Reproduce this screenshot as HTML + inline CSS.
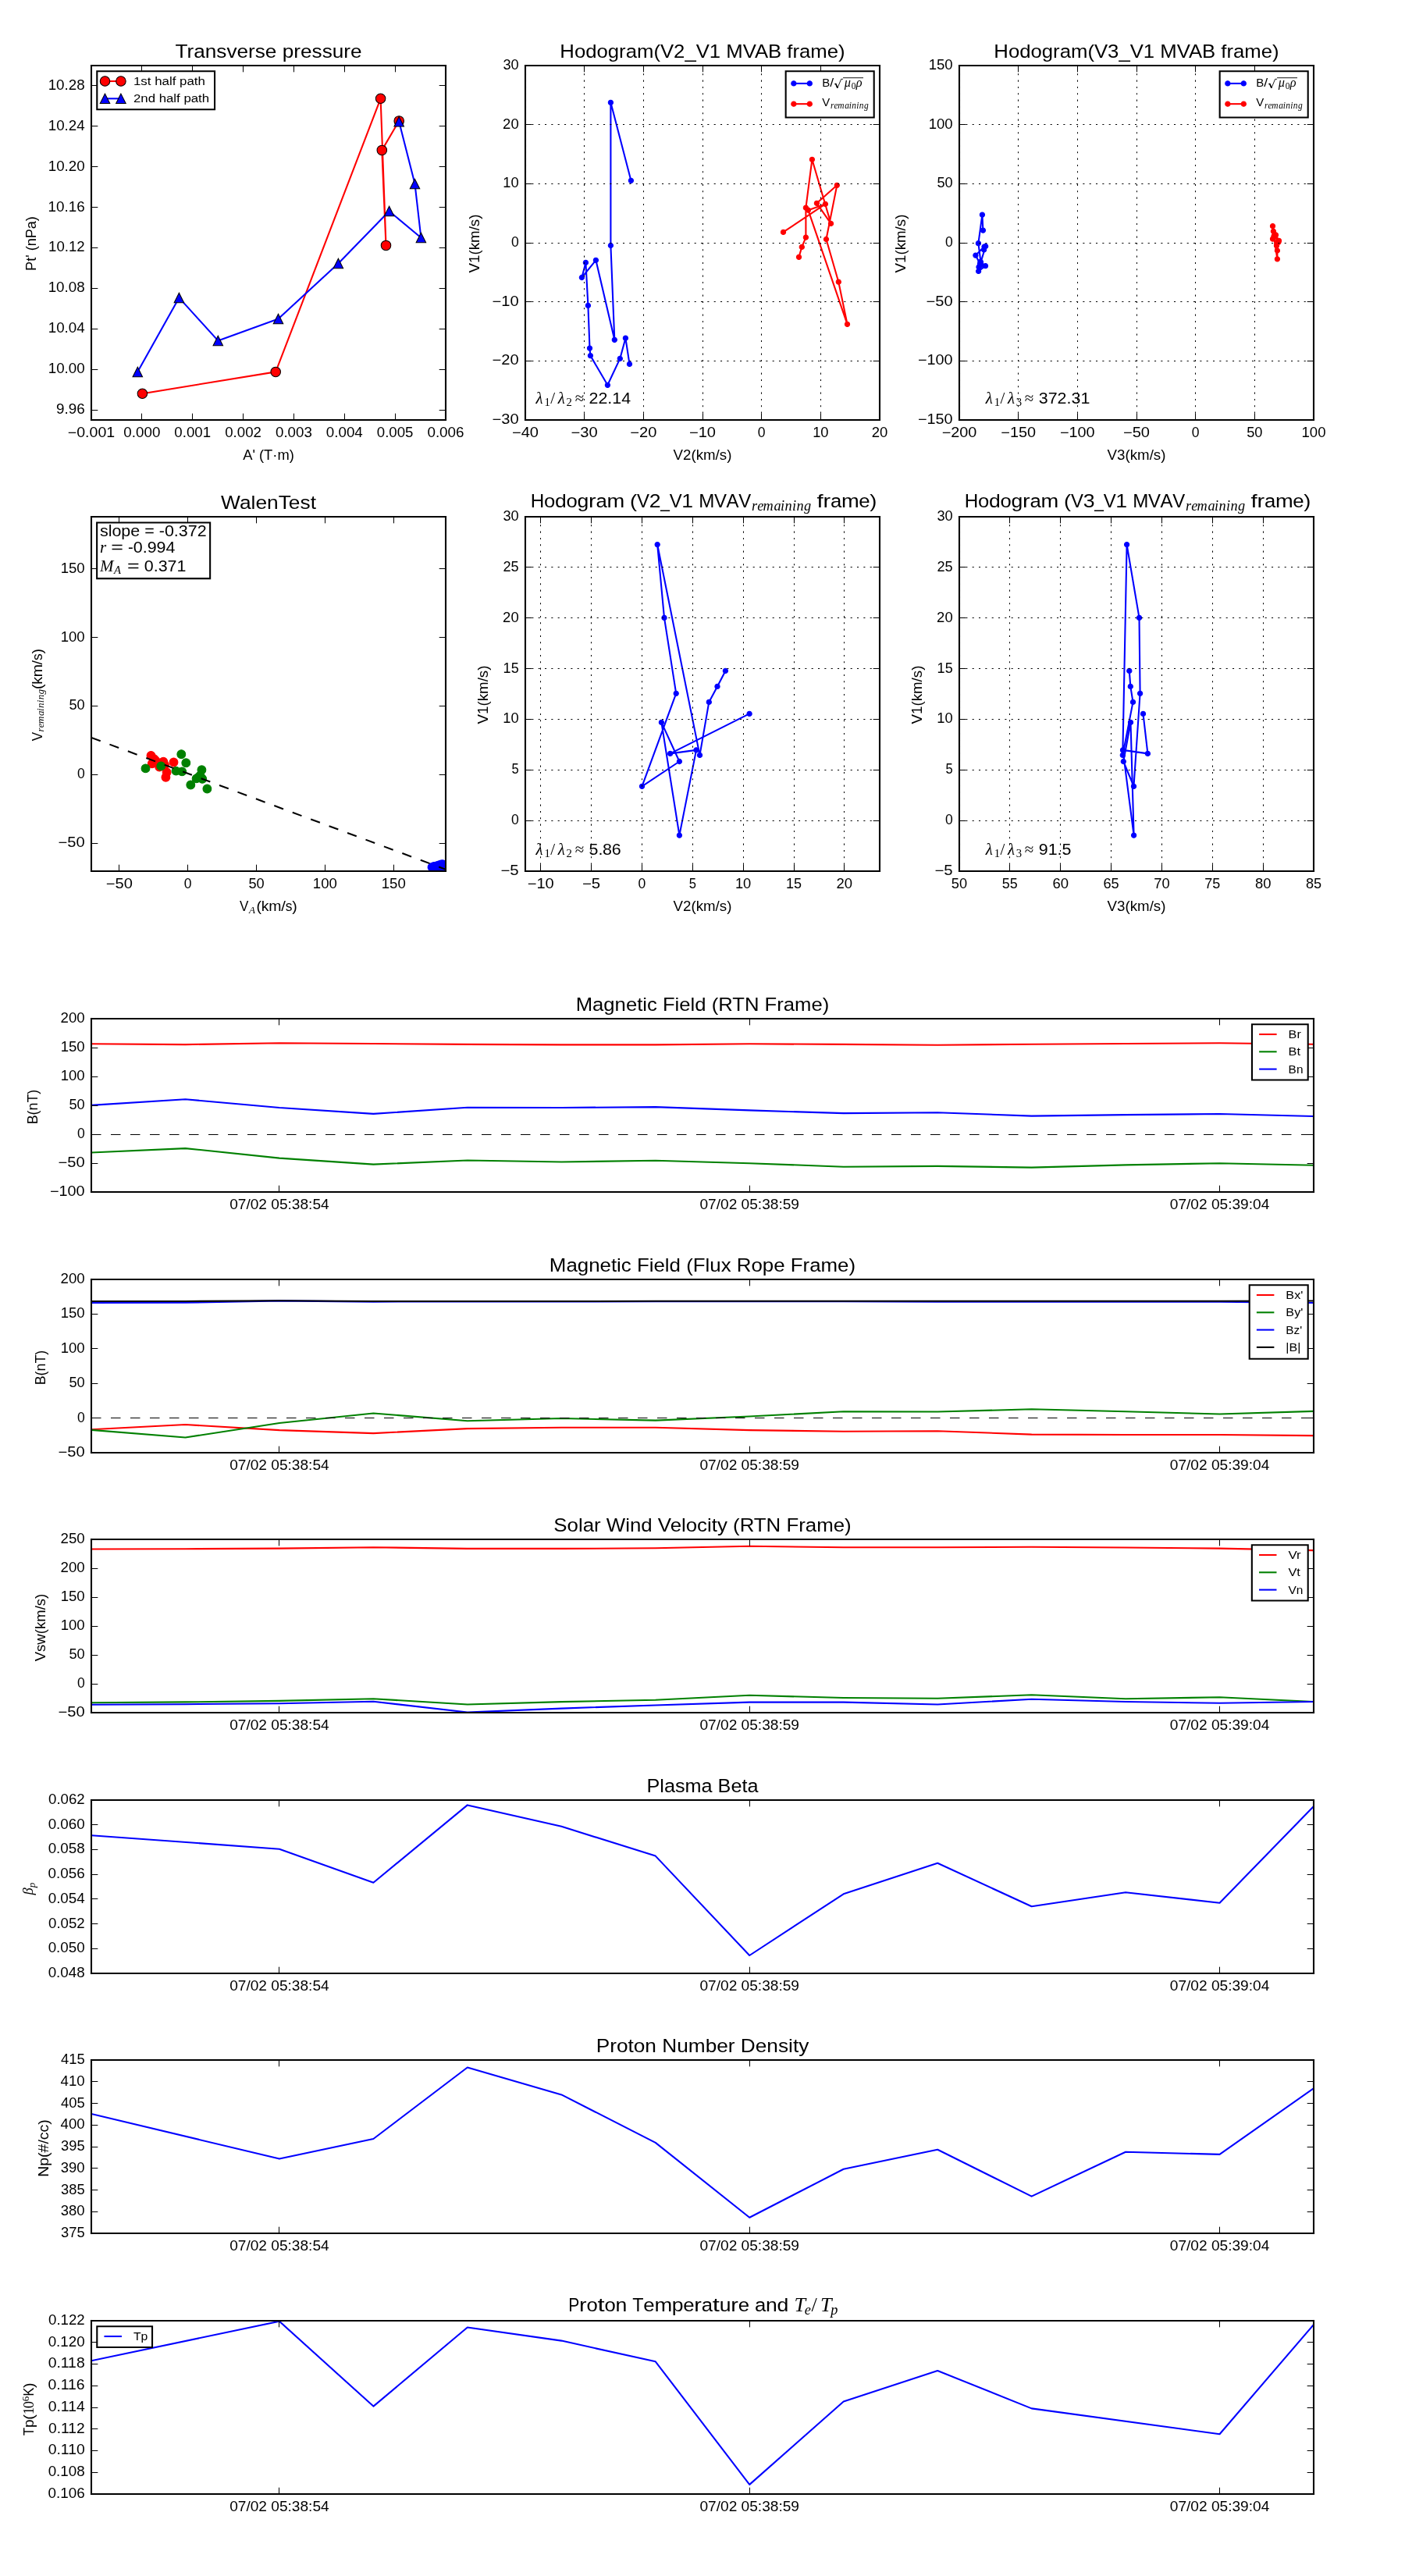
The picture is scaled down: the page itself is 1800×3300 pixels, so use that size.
<!DOCTYPE html>
<html><head><meta charset="utf-8"><title>Flux rope analysis</title><style>html,body{margin:0;padding:0;background:#fff}svg{display:block;will-change:transform}</style></head><body>
<svg width="1800" height="3300" viewBox="0 0 864 1584"> <defs> <style type="text/css">*{stroke-linejoin: round; stroke-linecap: butt}</style> </defs> <g id="figure_1"> <g id="patch_1"> <path d="M 0 1584  L 864 1584  L 864 0  L 0 0  z " style="fill: #ffffff"/> </g> <g id="axes_1"> <g id="patch_2"> <path d="M 56.16 258.24  L 274.08 258.24  L 274.08 40.32  L 56.16 40.32  z " style="fill: #ffffff"/> </g> <g id="line2d_1"> <path d="M 87.552 242.016  L 169.536 228.672  L 234.048 60.624  L 237.36 150.912  L 234.864 92.352  L 245.376 74.352  " clip-path="url(#pbbcab6ad22)" style="fill: none; stroke: #ff0000; stroke-linecap: square"/> <defs> <path id="m9b57e5bc94" d="M 0 3  C 0.795 3 1.558 2.683 2.121 2.121  C 2.683 1.558 3 0.795 3 0  C 3 -0.795 2.683 -1.558 2.121 -2.121  C 1.558 -2.683 0.795 -3 0 -3  C -0.795 -3 -1.558 -2.683 -2.121 -2.121  C -2.683 -1.558 -3 -0.795 -3 0  C -3 0.795 -2.683 1.558 -2.121 2.121  C -1.558 2.683 -0.795 3 0 3  z " style="stroke: #000000; stroke-width: 0.5"/> </defs> <g clip-path="url(#pbbcab6ad22)"> <use xlink:href="#m9b57e5bc94" x="87.552" y="242.016" style="fill: #ff0000; stroke: #000000; stroke-width: 0.5"/> <use xlink:href="#m9b57e5bc94" x="169.536" y="228.672" style="fill: #ff0000; stroke: #000000; stroke-width: 0.5"/> <use xlink:href="#m9b57e5bc94" x="234.048" y="60.624" style="fill: #ff0000; stroke: #000000; stroke-width: 0.5"/> <use xlink:href="#m9b57e5bc94" x="237.36" y="150.912" style="fill: #ff0000; stroke: #000000; stroke-width: 0.5"/> <use xlink:href="#m9b57e5bc94" x="234.864" y="92.352" style="fill: #ff0000; stroke: #000000; stroke-width: 0.5"/> <use xlink:href="#m9b57e5bc94" x="245.376" y="74.352" style="fill: #ff0000; stroke: #000000; stroke-width: 0.5"/> </g> </g> <g id="line2d_2"> <path d="M 245.376 74.784  L 255.12 113.088  L 258.912 146.16  L 239.328 129.84  L 208.032 161.952  L 171.12 196.032  L 134.064 209.472  L 110.112 183.072  L 84.624 228.672  " clip-path="url(#pbbcab6ad22)" style="fill: none; stroke: #0000ff; stroke-linecap: square"/> <defs> <path id="m35c73e94be" d="M 0 -3  L -3 3  L 3 3  z " style="stroke: #000000; stroke-width: 0.5; stroke-linejoin: miter"/> </defs> <g clip-path="url(#pbbcab6ad22)"> <use xlink:href="#m35c73e94be" x="245.376" y="74.784" style="fill: #0000ff; stroke: #000000; stroke-width: 0.5; stroke-linejoin: miter"/> <use xlink:href="#m35c73e94be" x="255.12" y="113.088" style="fill: #0000ff; stroke: #000000; stroke-width: 0.5; stroke-linejoin: miter"/> <use xlink:href="#m35c73e94be" x="258.912" y="146.16" style="fill: #0000ff; stroke: #000000; stroke-width: 0.5; stroke-linejoin: miter"/> <use xlink:href="#m35c73e94be" x="239.328" y="129.84" style="fill: #0000ff; stroke: #000000; stroke-width: 0.5; stroke-linejoin: miter"/> <use xlink:href="#m35c73e94be" x="208.032" y="161.952" style="fill: #0000ff; stroke: #000000; stroke-width: 0.5; stroke-linejoin: miter"/> <use xlink:href="#m35c73e94be" x="171.12" y="196.032" style="fill: #0000ff; stroke: #000000; stroke-width: 0.5; stroke-linejoin: miter"/> <use xlink:href="#m35c73e94be" x="134.064" y="209.472" style="fill: #0000ff; stroke: #000000; stroke-width: 0.5; stroke-linejoin: miter"/> <use xlink:href="#m35c73e94be" x="110.112" y="183.072" style="fill: #0000ff; stroke: #000000; stroke-width: 0.5; stroke-linejoin: miter"/> <use xlink:href="#m35c73e94be" x="84.624" y="228.672" style="fill: #0000ff; stroke: #000000; stroke-width: 0.5; stroke-linejoin: miter"/> </g> </g> <g id="patch_3"> <path d="M 56.16 258.24  L 56.16 40.32  " style="fill: none; stroke: #000000; stroke-linejoin: miter; stroke-linecap: square"/> </g> <g id="patch_4"> <path d="M 274.08 258.24  L 274.08 40.32  " style="fill: none; stroke: #000000; stroke-linejoin: miter; stroke-linecap: square"/> </g> <g id="patch_5"> <path d="M 56.16 258.24  L 274.08 258.24  " style="fill: none; stroke: #000000; stroke-linejoin: miter; stroke-linecap: square"/> </g> <g id="patch_6"> <path d="M 56.16 40.32  L 274.08 40.32  " style="fill: none; stroke: #000000; stroke-linejoin: miter; stroke-linecap: square"/> </g> <g id="matplotlib.axis_1"> <g id="xtick_1"> <g id="line2d_3"> <defs> <path id="m9970c9cf34" d="M 0 0  L 0 -4  " style="stroke: #000000; stroke-width: 0.5"/> </defs> <g> <use xlink:href="#m9970c9cf34" x="56.400" y="258.24" style="stroke: #000000; stroke-width: 0.5"/> </g> </g> <g id="line2d_4"> <defs> <path id="ma74727226e" d="M 0 0  L 0 4  " style="stroke: #000000; stroke-width: 0.5"/> </defs> <g> <use xlink:href="#ma74727226e" x="56.400" y="40.32" style="stroke: #000000; stroke-width: 0.5"/> </g> </g> <g id="text_1"> <text style="font-size: 8.400px; font-family: 'Liberation Sans', sans-serif; text-anchor: middle" x="56.16" y="268.96" transform="rotate(-0 56.16 268.96)" textLength="28.940" lengthAdjust="spacingAndGlyphs">−0.001</text> </g> </g> <g id="xtick_2"> <g id="line2d_5"> <g> <use xlink:href="#m9970c9cf34" x="87.120" y="258.24" style="stroke: #000000; stroke-width: 0.5"/> </g> </g> <g id="line2d_6"> <g> <use xlink:href="#ma74727226e" x="87.120" y="40.32" style="stroke: #000000; stroke-width: 0.5"/> </g> </g> <g id="text_2"> <text style="font-size: 8.400px; font-family: 'Liberation Sans', sans-serif; text-anchor: middle" x="87.291" y="268.96" transform="rotate(-0 87.291 268.96)" textLength="22.548" lengthAdjust="spacingAndGlyphs">0.000</text> </g> </g> <g id="xtick_3"> <g id="line2d_7"> <g> <use xlink:href="#m9970c9cf34" x="118.320" y="258.24" style="stroke: #000000; stroke-width: 0.5"/> </g> </g> <g id="line2d_8"> <g> <use xlink:href="#ma74727226e" x="118.320" y="40.32" style="stroke: #000000; stroke-width: 0.5"/> </g> </g> <g id="text_3"> <text style="font-size: 8.400px; font-family: 'Liberation Sans', sans-serif; text-anchor: middle" x="118.422" y="268.96" transform="rotate(-0 118.422 268.96)" textLength="22.424" lengthAdjust="spacingAndGlyphs">0.001</text> </g> </g> <g id="xtick_4"> <g id="line2d_9"> <g> <use xlink:href="#m9970c9cf34" x="149.520" y="258.24" style="stroke: #000000; stroke-width: 0.5"/> </g> </g> <g id="line2d_10"> <g> <use xlink:href="#ma74727226e" x="149.520" y="40.32" style="stroke: #000000; stroke-width: 0.5"/> </g> </g> <g id="text_4"> <text style="font-size: 8.400px; font-family: 'Liberation Sans', sans-serif; text-anchor: middle" x="149.554" y="268.96" transform="rotate(-0 149.554 268.96)" textLength="22.373" lengthAdjust="spacingAndGlyphs">0.002</text> </g> </g> <g id="xtick_5"> <g id="line2d_11"> <g> <use xlink:href="#m9970c9cf34" x="180.720" y="258.24" style="stroke: #000000; stroke-width: 0.5"/> </g> </g> <g id="line2d_12"> <g> <use xlink:href="#ma74727226e" x="180.720" y="40.32" style="stroke: #000000; stroke-width: 0.5"/> </g> </g> <g id="text_5"> <text style="font-size: 8.400px; font-family: 'Liberation Sans', sans-serif; text-anchor: middle" x="180.685" y="268.96" transform="rotate(-0 180.685 268.96)" textLength="22.480" lengthAdjust="spacingAndGlyphs">0.003</text> </g> </g> <g id="xtick_6"> <g id="line2d_13"> <g> <use xlink:href="#m9970c9cf34" x="211.920" y="258.24" style="stroke: #000000; stroke-width: 0.5"/> </g> </g> <g id="line2d_14"> <g> <use xlink:href="#ma74727226e" x="211.920" y="40.32" style="stroke: #000000; stroke-width: 0.5"/> </g> </g> <g id="text_6"> <text style="font-size: 8.400px; font-family: 'Liberation Sans', sans-serif; text-anchor: middle" x="211.817" y="268.96" transform="rotate(-0 211.817 268.96)" textLength="22.542" lengthAdjust="spacingAndGlyphs">0.004</text> </g> </g> <g id="xtick_7"> <g id="line2d_15"> <g> <use xlink:href="#m9970c9cf34" x="243.120" y="258.24" style="stroke: #000000; stroke-width: 0.5"/> </g> </g> <g id="line2d_16"> <g> <use xlink:href="#ma74727226e" x="243.120" y="40.32" style="stroke: #000000; stroke-width: 0.5"/> </g> </g> <g id="text_7"> <text style="font-size: 8.400px; font-family: 'Liberation Sans', sans-serif; text-anchor: middle" x="242.948" y="268.96" transform="rotate(-0 242.948 268.96)" textLength="22.401" lengthAdjust="spacingAndGlyphs">0.005</text> </g> </g> <g id="xtick_8"> <g id="line2d_17"> <g> <use xlink:href="#m9970c9cf34" x="274.320" y="258.24" style="stroke: #000000; stroke-width: 0.5"/> </g> </g> <g id="line2d_18"> <g> <use xlink:href="#ma74727226e" x="274.320" y="40.32" style="stroke: #000000; stroke-width: 0.5"/> </g> </g> <g id="text_8"> <text style="font-size: 8.400px; font-family: 'Liberation Sans', sans-serif; text-anchor: middle" x="274.08" y="268.96" transform="rotate(-0 274.08 268.96)" textLength="22.621" lengthAdjust="spacingAndGlyphs">0.006</text> </g> </g> <g id="ctr_x0"> <text style="font-size: 8.400px; font-family: 'Liberation Sans', sans-serif; text-anchor: middle" x="165.12" y="282.6" transform="rotate(-0 165.12 282.6)" textLength="31.493" lengthAdjust="spacingAndGlyphs">A' (T·m)</text> </g> </g> <g id="matplotlib.axis_2"> <g id="ytick_1"> <g id="line2d_19"> <defs> <path id="m15b6ba686d" d="M 0 0  L 4 0  " style="stroke: #000000; stroke-width: 0.5"/> </defs> <g> <use xlink:href="#m15b6ba686d" x="56.16" y="252.240" style="stroke: #000000; stroke-width: 0.5"/> </g> </g> <g id="line2d_20"> <defs> <path id="m23530d4d53" d="M 0 0  L -4 0  " style="stroke: #000000; stroke-width: 0.5"/> </defs> <g> <use xlink:href="#m23530d4d53" x="274.08" y="252.240" style="stroke: #000000; stroke-width: 0.5"/> </g> </g> <g id="text_9"> <text style="font-size: 8.400px; font-family: 'Liberation Sans', sans-serif; text-anchor: end" x="52.16" y="254.413" transform="rotate(-0 52.16 254.413)" textLength="17.627" lengthAdjust="spacingAndGlyphs">9.96</text> </g> </g> <g id="ytick_2"> <g id="line2d_21"> <g> <use xlink:href="#m15b6ba686d" x="56.16" y="227.280" style="stroke: #000000; stroke-width: 0.5"/> </g> </g> <g id="line2d_22"> <g> <use xlink:href="#m23530d4d53" x="274.08" y="227.280" style="stroke: #000000; stroke-width: 0.5"/> </g> </g> <g id="text_10"> <text style="font-size: 8.400px; font-family: 'Liberation Sans', sans-serif; text-anchor: end" x="52.16" y="229.508" transform="rotate(-0 52.16 229.508)" textLength="22.530" lengthAdjust="spacingAndGlyphs">10.00</text> </g> </g> <g id="ytick_3"> <g id="line2d_23"> <g> <use xlink:href="#m15b6ba686d" x="56.16" y="202.320" style="stroke: #000000; stroke-width: 0.5"/> </g> </g> <g id="line2d_24"> <g> <use xlink:href="#m23530d4d53" x="274.08" y="202.320" style="stroke: #000000; stroke-width: 0.5"/> </g> </g> <g id="text_11"> <text style="font-size: 8.400px; font-family: 'Liberation Sans', sans-serif; text-anchor: end" x="52.16" y="204.603" transform="rotate(-0 52.16 204.603)" textLength="22.524" lengthAdjust="spacingAndGlyphs">10.04</text> </g> </g> <g id="ytick_4"> <g id="line2d_25"> <g> <use xlink:href="#m15b6ba686d" x="56.16" y="177.360" style="stroke: #000000; stroke-width: 0.5"/> </g> </g> <g id="line2d_26"> <g> <use xlink:href="#m23530d4d53" x="274.08" y="177.360" style="stroke: #000000; stroke-width: 0.5"/> </g> </g> <g id="text_12"> <text style="font-size: 8.400px; font-family: 'Liberation Sans', sans-serif; text-anchor: end" x="52.16" y="179.698" transform="rotate(-0 52.16 179.698)" textLength="22.555" lengthAdjust="spacingAndGlyphs">10.08</text> </g> </g> <g id="ytick_5"> <g id="line2d_27"> <g> <use xlink:href="#m15b6ba686d" x="56.16" y="152.400" style="stroke: #000000; stroke-width: 0.5"/> </g> </g> <g id="line2d_28"> <g> <use xlink:href="#m23530d4d53" x="274.08" y="152.400" style="stroke: #000000; stroke-width: 0.5"/> </g> </g> <g id="text_13"> <text style="font-size: 8.400px; font-family: 'Liberation Sans', sans-serif; text-anchor: end" x="52.16" y="154.793" transform="rotate(-0 52.16 154.793)" textLength="22.352" lengthAdjust="spacingAndGlyphs">10.12</text> </g> </g> <g id="ytick_6"> <g id="line2d_29"> <g> <use xlink:href="#m15b6ba686d" x="56.16" y="127.440" style="stroke: #000000; stroke-width: 0.5"/> </g> </g> <g id="line2d_30"> <g> <use xlink:href="#m23530d4d53" x="274.08" y="127.440" style="stroke: #000000; stroke-width: 0.5"/> </g> </g> <g id="text_14"> <text style="font-size: 8.400px; font-family: 'Liberation Sans', sans-serif; text-anchor: end" x="52.16" y="129.888" transform="rotate(-0 52.16 129.888)" textLength="22.605" lengthAdjust="spacingAndGlyphs">10.16</text> </g> </g> <g id="ytick_7"> <g id="line2d_31"> <g> <use xlink:href="#m15b6ba686d" x="56.16" y="102.480" style="stroke: #000000; stroke-width: 0.5"/> </g> </g> <g id="line2d_32"> <g> <use xlink:href="#m23530d4d53" x="274.08" y="102.480" style="stroke: #000000; stroke-width: 0.5"/> </g> </g> <g id="text_15"> <text style="font-size: 8.400px; font-family: 'Liberation Sans', sans-serif; text-anchor: end" x="52.16" y="104.982" transform="rotate(-0 52.16 104.982)" textLength="22.530" lengthAdjust="spacingAndGlyphs">10.20</text> </g> </g> <g id="ytick_8"> <g id="line2d_33"> <g> <use xlink:href="#m15b6ba686d" x="56.16" y="77.520" style="stroke: #000000; stroke-width: 0.5"/> </g> </g> <g id="line2d_34"> <g> <use xlink:href="#m23530d4d53" x="274.08" y="77.520" style="stroke: #000000; stroke-width: 0.5"/> </g> </g> <g id="text_16"> <text style="font-size: 8.400px; font-family: 'Liberation Sans', sans-serif; text-anchor: end" x="52.16" y="80.077" transform="rotate(-0 52.16 80.077)" textLength="22.524" lengthAdjust="spacingAndGlyphs">10.24</text> </g> </g> <g id="ytick_9"> <g id="line2d_35"> <g> <use xlink:href="#m15b6ba686d" x="56.16" y="52.560" style="stroke: #000000; stroke-width: 0.5"/> </g> </g> <g id="line2d_36"> <g> <use xlink:href="#m23530d4d53" x="274.08" y="52.560" style="stroke: #000000; stroke-width: 0.5"/> </g> </g> <g id="text_17"> <text style="font-size: 8.400px; font-family: 'Liberation Sans', sans-serif; text-anchor: end" x="52.16" y="55.172" transform="rotate(-0 52.16 55.172)" textLength="22.555" lengthAdjust="spacingAndGlyphs">10.28</text> </g> </g> <g id="ctr_y0" transform="translate(-0.480 0.480)"> <text style="font-size: 8.400px; font-family: 'Liberation Sans', sans-serif; text-anchor: middle" x="22.38" y="149.28" transform="rotate(-90 22.38 149.28)" textLength="33.521" lengthAdjust="spacingAndGlyphs">Pt' (nPa)</text> </g> </g> <g id="ctr_t0"> <text style="font-size: 11.760px; font-family: 'Liberation Sans', sans-serif; text-anchor: middle" x="165.12" y="35.32" transform="rotate(-0 165.12 35.32)" textLength="114.795" lengthAdjust="spacingAndGlyphs">Transverse pressure</text> </g> <g id="legend_1"> <g id="patch_7"> <path d="M 59.66 67.32  L 132.02 67.32  L 132.02 43.82  L 59.66 43.82  z " style="fill: #ffffff; stroke: #000000; stroke-linejoin: miter"/> </g> <g id="line2d_37"> <path d="M 64.56 49.93  L 74.36 49.93  " style="fill: none; stroke: #ff0000; stroke-linecap: square"/> <g> <use xlink:href="#m9b57e5bc94" x="64.56" y="49.93" style="fill: #ff0000; stroke: #000000; stroke-width: 0.5"/> <use xlink:href="#m9b57e5bc94" x="74.36" y="49.93" style="fill: #ff0000; stroke: #000000; stroke-width: 0.5"/> </g> </g> <g id="text_18"> <text style="font-size: 7.350px; font-family: 'Liberation Sans', sans-serif; text-anchor: start" x="82.06" y="52.38" transform="rotate(-0 82.06 52.38)" textLength="44.124" lengthAdjust="spacingAndGlyphs">1st half path</text> </g> <g id="line2d_38"> <path d="M 64.56 60.63  L 74.36 60.63  " style="fill: none; stroke: #0000ff; stroke-linecap: square"/> <g> <use xlink:href="#m35c73e94be" x="64.56" y="60.63" style="fill: #0000ff; stroke: #000000; stroke-width: 0.5; stroke-linejoin: miter"/> <use xlink:href="#m35c73e94be" x="74.36" y="60.63" style="fill: #0000ff; stroke: #000000; stroke-width: 0.5; stroke-linejoin: miter"/> </g> </g> <g id="text_19"> <text style="font-size: 7.350px; font-family: 'Liberation Sans', sans-serif; text-anchor: start" x="82.06" y="63.08" transform="rotate(-0 82.06 63.08)" textLength="46.655" lengthAdjust="spacingAndGlyphs">2nd half path</text> </g> </g> </g> <g id="axes_2"> <g id="patch_8"> <path d="M 323.04 258.24  L 540.96 258.24  L 540.96 40.32  L 323.04 40.32  z " style="fill: #ffffff"/> </g> <g id="line2d_39"> <path d="M 388.032 111.024  L 375.552 63.024  L 375.552 150.96  L 377.904 208.944  L 366.432 159.984  L 357.792 170.64  L 360.192 161.472  L 361.632 187.872  L 362.64 214.128  L 363.072 218.688  L 373.632 236.784  L 381.264 220.512  L 384.672 207.936  L 387.12 223.872  " clip-path="url(#p72671d283d)" style="fill: none; stroke: #0000ff; stroke-linecap: square"/> <defs> <path id="m40c38f925a" d="M 0 1.5  C 0.397 1.5 0.779 1.341 1.060 1.060  C 1.341 0.779 1.5 0.397 1.5 0  C 1.5 -0.397 1.341 -0.779 1.060 -1.060  C 0.779 -1.341 0.397 -1.5 0 -1.5  C -0.397 -1.5 -0.779 -1.341 -1.060 -1.060  C -1.341 -0.779 -1.5 -0.397 -1.5 0  C -1.5 0.397 -1.341 0.779 -1.060 1.060  C -0.779 1.341 -0.397 1.5 0 1.5  z " style="stroke: #0000ff; stroke-width: 0.5"/> </defs> <g clip-path="url(#p72671d283d)"> <use xlink:href="#m40c38f925a" x="388.032" y="111.024" style="fill: #0000ff; stroke: #0000ff; stroke-width: 0.5"/> <use xlink:href="#m40c38f925a" x="375.552" y="63.024" style="fill: #0000ff; stroke: #0000ff; stroke-width: 0.5"/> <use xlink:href="#m40c38f925a" x="375.552" y="150.96" style="fill: #0000ff; stroke: #0000ff; stroke-width: 0.5"/> <use xlink:href="#m40c38f925a" x="377.904" y="208.944" style="fill: #0000ff; stroke: #0000ff; stroke-width: 0.5"/> <use xlink:href="#m40c38f925a" x="366.432" y="159.984" style="fill: #0000ff; stroke: #0000ff; stroke-width: 0.5"/> <use xlink:href="#m40c38f925a" x="357.792" y="170.64" style="fill: #0000ff; stroke: #0000ff; stroke-width: 0.5"/> <use xlink:href="#m40c38f925a" x="360.192" y="161.472" style="fill: #0000ff; stroke: #0000ff; stroke-width: 0.5"/> <use xlink:href="#m40c38f925a" x="361.632" y="187.872" style="fill: #0000ff; stroke: #0000ff; stroke-width: 0.5"/> <use xlink:href="#m40c38f925a" x="362.64" y="214.128" style="fill: #0000ff; stroke: #0000ff; stroke-width: 0.5"/> <use xlink:href="#m40c38f925a" x="363.072" y="218.688" style="fill: #0000ff; stroke: #0000ff; stroke-width: 0.5"/> <use xlink:href="#m40c38f925a" x="373.632" y="236.784" style="fill: #0000ff; stroke: #0000ff; stroke-width: 0.5"/> <use xlink:href="#m40c38f925a" x="381.264" y="220.512" style="fill: #0000ff; stroke: #0000ff; stroke-width: 0.5"/> <use xlink:href="#m40c38f925a" x="384.672" y="207.936" style="fill: #0000ff; stroke: #0000ff; stroke-width: 0.5"/> <use xlink:href="#m40c38f925a" x="387.12" y="223.872" style="fill: #0000ff; stroke: #0000ff; stroke-width: 0.5"/> </g> </g> <g id="line2d_40"> <path d="M 491.28 158.064  L 493.104 151.872  L 495.552 145.968  L 495.552 127.776  L 499.392 98.064  L 510.96 137.472  L 502.272 124.944  L 514.704 113.904  L 508.08 147.12  L 515.664 173.376  L 521.04 199.344  L 496.992 129.216  L 507.552 125.472  L 481.68 142.752  " clip-path="url(#p72671d283d)" style="fill: none; stroke: #ff0000; stroke-linecap: square"/> <defs> <path id="m83089336b0" d="M 0 1.5  C 0.397 1.5 0.779 1.341 1.060 1.060  C 1.341 0.779 1.5 0.397 1.5 0  C 1.5 -0.397 1.341 -0.779 1.060 -1.060  C 0.779 -1.341 0.397 -1.5 0 -1.5  C -0.397 -1.5 -0.779 -1.341 -1.060 -1.060  C -1.341 -0.779 -1.5 -0.397 -1.5 0  C -1.5 0.397 -1.341 0.779 -1.060 1.060  C -0.779 1.341 -0.397 1.5 0 1.5  z " style="stroke: #ff0000; stroke-width: 0.5"/> </defs> <g clip-path="url(#p72671d283d)"> <use xlink:href="#m83089336b0" x="491.28" y="158.064" style="fill: #ff0000; stroke: #ff0000; stroke-width: 0.5"/> <use xlink:href="#m83089336b0" x="493.104" y="151.872" style="fill: #ff0000; stroke: #ff0000; stroke-width: 0.5"/> <use xlink:href="#m83089336b0" x="495.552" y="145.968" style="fill: #ff0000; stroke: #ff0000; stroke-width: 0.5"/> <use xlink:href="#m83089336b0" x="495.552" y="127.776" style="fill: #ff0000; stroke: #ff0000; stroke-width: 0.5"/> <use xlink:href="#m83089336b0" x="499.392" y="98.064" style="fill: #ff0000; stroke: #ff0000; stroke-width: 0.5"/> <use xlink:href="#m83089336b0" x="510.96" y="137.472" style="fill: #ff0000; stroke: #ff0000; stroke-width: 0.5"/> <use xlink:href="#m83089336b0" x="502.272" y="124.944" style="fill: #ff0000; stroke: #ff0000; stroke-width: 0.5"/> <use xlink:href="#m83089336b0" x="514.704" y="113.904" style="fill: #ff0000; stroke: #ff0000; stroke-width: 0.5"/> <use xlink:href="#m83089336b0" x="508.08" y="147.12" style="fill: #ff0000; stroke: #ff0000; stroke-width: 0.5"/> <use xlink:href="#m83089336b0" x="515.664" y="173.376" style="fill: #ff0000; stroke: #ff0000; stroke-width: 0.5"/> <use xlink:href="#m83089336b0" x="521.04" y="199.344" style="fill: #ff0000; stroke: #ff0000; stroke-width: 0.5"/> <use xlink:href="#m83089336b0" x="496.992" y="129.216" style="fill: #ff0000; stroke: #ff0000; stroke-width: 0.5"/> <use xlink:href="#m83089336b0" x="507.552" y="125.472" style="fill: #ff0000; stroke: #ff0000; stroke-width: 0.5"/> <use xlink:href="#m83089336b0" x="481.68" y="142.752" style="fill: #ff0000; stroke: #ff0000; stroke-width: 0.5"/> </g> </g> <g id="patch_9"> <path d="M 323.04 258.24  L 323.04 40.32  " style="fill: none; stroke: #000000; stroke-linejoin: miter; stroke-linecap: square"/> </g> <g id="patch_10"> <path d="M 540.96 258.24  L 540.96 40.32  " style="fill: none; stroke: #000000; stroke-linejoin: miter; stroke-linecap: square"/> </g> <g id="patch_11"> <path d="M 323.04 258.24  L 540.96 258.24  " style="fill: none; stroke: #000000; stroke-linejoin: miter; stroke-linecap: square"/> </g> <g id="patch_12"> <path d="M 323.04 40.32  L 540.96 40.32  " style="fill: none; stroke: #000000; stroke-linejoin: miter; stroke-linecap: square"/> </g> <g id="matplotlib.axis_3"> <g id="xtick_9"> <g id="line2d_41"> <path d="M 323.280 258.24 L 323.280 40.32 " clip-path="url(#p72671d283d)" style="fill: none; stroke-dasharray: 1,3; stroke-dashoffset: 0; stroke: #000000; stroke-width: 0.5"/> </g> <g id="line2d_42"> <g> <use xlink:href="#m9970c9cf34" x="323.280" y="258.24" style="stroke: #000000; stroke-width: 0.5"/> </g> </g> <g id="line2d_43"> <g> <use xlink:href="#ma74727226e" x="323.280" y="40.32" style="stroke: #000000; stroke-width: 0.5"/> </g> </g> <g id="text_20"> <text style="font-size: 8.400px; font-family: 'Liberation Sans', sans-serif; text-anchor: middle" x="323.04" y="268.96" transform="rotate(-0 323.04 268.96)" textLength="16.356" lengthAdjust="spacingAndGlyphs">−40</text> </g> </g> <g id="xtick_10"> <g id="line2d_44"> <path d="M 359.280 258.24 L 359.280 40.32 " clip-path="url(#p72671d283d)" style="fill: none; stroke-dasharray: 1,3; stroke-dashoffset: 0; stroke: #000000; stroke-width: 0.5"/> </g> <g id="line2d_45"> <g> <use xlink:href="#m9970c9cf34" x="359.280" y="258.24" style="stroke: #000000; stroke-width: 0.5"/> </g> </g> <g id="line2d_46"> <g> <use xlink:href="#ma74727226e" x="359.280" y="40.32" style="stroke: #000000; stroke-width: 0.5"/> </g> </g> <g id="text_21"> <text style="font-size: 8.400px; font-family: 'Liberation Sans', sans-serif; text-anchor: middle" x="359.36" y="268.96" transform="rotate(-0 359.36 268.96)" textLength="16.356" lengthAdjust="spacingAndGlyphs">−30</text> </g> </g> <g id="xtick_11"> <g id="line2d_47"> <path d="M 395.760 258.24 L 395.760 40.32 " clip-path="url(#p72671d283d)" style="fill: none; stroke-dasharray: 1,3; stroke-dashoffset: 0; stroke: #000000; stroke-width: 0.5"/> </g> <g id="line2d_48"> <g> <use xlink:href="#m9970c9cf34" x="395.760" y="258.24" style="stroke: #000000; stroke-width: 0.5"/> </g> </g> <g id="line2d_49"> <g> <use xlink:href="#ma74727226e" x="395.760" y="40.32" style="stroke: #000000; stroke-width: 0.5"/> </g> </g> <g id="text_22"> <text style="font-size: 8.400px; font-family: 'Liberation Sans', sans-serif; text-anchor: middle" x="395.68" y="268.96" transform="rotate(-0 395.68 268.96)" textLength="16.356" lengthAdjust="spacingAndGlyphs">−20</text> </g> </g> <g id="xtick_12"> <g id="line2d_50"> <path d="M 432.240 258.24 L 432.240 40.32 " clip-path="url(#p72671d283d)" style="fill: none; stroke-dasharray: 1,3; stroke-dashoffset: 0; stroke: #000000; stroke-width: 0.5"/> </g> <g id="line2d_51"> <g> <use xlink:href="#m9970c9cf34" x="432.240" y="258.24" style="stroke: #000000; stroke-width: 0.5"/> </g> </g> <g id="line2d_52"> <g> <use xlink:href="#ma74727226e" x="432.240" y="40.32" style="stroke: #000000; stroke-width: 0.5"/> </g> </g> <g id="text_23"> <text style="font-size: 8.400px; font-family: 'Liberation Sans', sans-serif; text-anchor: middle" x="432" y="268.96" transform="rotate(-0 432 268.96)" textLength="16.356" lengthAdjust="spacingAndGlyphs">−10</text> </g> </g> <g id="xtick_13"> <g id="line2d_53"> <path d="M 468.240 258.24 L 468.240 40.32 " clip-path="url(#p72671d283d)" style="fill: none; stroke-dasharray: 1,3; stroke-dashoffset: 0; stroke: #000000; stroke-width: 0.5"/> </g> <g id="line2d_54"> <g> <use xlink:href="#m9970c9cf34" x="468.240" y="258.24" style="stroke: #000000; stroke-width: 0.5"/> </g> </g> <g id="line2d_55"> <g> <use xlink:href="#ma74727226e" x="468.240" y="40.32" style="stroke: #000000; stroke-width: 0.5"/> </g> </g> <g id="text_24"> <text style="font-size: 8.400px; font-family: 'Liberation Sans', sans-serif; text-anchor: middle" x="468.32" y="268.96" transform="rotate(-0 468.32 268.96)" textLength="4.690" lengthAdjust="spacingAndGlyphs">0</text> </g> </g> <g id="xtick_14"> <g id="line2d_56"> <path d="M 504.720 258.24 L 504.720 40.32 " clip-path="url(#p72671d283d)" style="fill: none; stroke-dasharray: 1,3; stroke-dashoffset: 0; stroke: #000000; stroke-width: 0.5"/> </g> <g id="line2d_57"> <g> <use xlink:href="#m9970c9cf34" x="504.720" y="258.24" style="stroke: #000000; stroke-width: 0.5"/> </g> </g> <g id="line2d_58"> <g> <use xlink:href="#ma74727226e" x="504.720" y="40.32" style="stroke: #000000; stroke-width: 0.5"/> </g> </g> <g id="text_25"> <text style="font-size: 8.400px; font-family: 'Liberation Sans', sans-serif; text-anchor: middle" x="504.64" y="268.96" transform="rotate(-0 504.64 268.96)" textLength="9.783" lengthAdjust="spacingAndGlyphs">10</text> </g> </g> <g id="xtick_15"> <g id="line2d_59"> <path d="M 541.200 258.24 L 541.200 40.32 " clip-path="url(#p72671d283d)" style="fill: none; stroke-dasharray: 1,3; stroke-dashoffset: 0; stroke: #000000; stroke-width: 0.5"/> </g> <g id="line2d_60"> <g> <use xlink:href="#m9970c9cf34" x="541.200" y="258.24" style="stroke: #000000; stroke-width: 0.5"/> </g> </g> <g id="line2d_61"> <g> <use xlink:href="#ma74727226e" x="541.200" y="40.32" style="stroke: #000000; stroke-width: 0.5"/> </g> </g> <g id="text_26"> <text style="font-size: 8.400px; font-family: 'Liberation Sans', sans-serif; text-anchor: middle" x="540.96" y="268.96" transform="rotate(-0 540.96 268.96)" textLength="9.854" lengthAdjust="spacingAndGlyphs">20</text> </g> </g> <g id="ctr_x1"> <text style="font-size: 8.400px; font-family: 'Liberation Sans', sans-serif; text-anchor: middle" x="432" y="282.6" transform="rotate(-0 432 282.6)" textLength="35.940" lengthAdjust="spacingAndGlyphs">V2(km/s)</text> </g> </g> <g id="matplotlib.axis_4"> <g id="ytick_10"> <g id="line2d_62"> <path d="M 323.04 258.480 L 540.96 258.480 " clip-path="url(#p72671d283d)" style="fill: none; stroke-dasharray: 1,3; stroke-dashoffset: 0; stroke: #000000; stroke-width: 0.5"/> </g> <g id="line2d_63"> <g> <use xlink:href="#m15b6ba686d" x="323.04" y="258.480" style="stroke: #000000; stroke-width: 0.5"/> </g> </g> <g id="line2d_64"> <g> <use xlink:href="#m23530d4d53" x="540.96" y="258.480" style="stroke: #000000; stroke-width: 0.5"/> </g> </g> <g id="text_27"> <text style="font-size: 8.400px; font-family: 'Liberation Sans', sans-serif; text-anchor: end" x="319.04" y="260.64" transform="rotate(-0 319.04 260.64)" textLength="16.356" lengthAdjust="spacingAndGlyphs">−30</text> </g> </g> <g id="ytick_11"> <g id="line2d_65"> <path d="M 323.04 222.000 L 540.96 222.000 " clip-path="url(#p72671d283d)" style="fill: none; stroke-dasharray: 1,3; stroke-dashoffset: 0; stroke: #000000; stroke-width: 0.5"/> </g> <g id="line2d_66"> <g> <use xlink:href="#m15b6ba686d" x="323.04" y="222.000" style="stroke: #000000; stroke-width: 0.5"/> </g> </g> <g id="line2d_67"> <g> <use xlink:href="#m23530d4d53" x="540.96" y="222.000" style="stroke: #000000; stroke-width: 0.5"/> </g> </g> <g id="text_28"> <text style="font-size: 8.400px; font-family: 'Liberation Sans', sans-serif; text-anchor: end" x="319.04" y="224.32" transform="rotate(-0 319.04 224.32)" textLength="16.356" lengthAdjust="spacingAndGlyphs">−20</text> </g> </g> <g id="ytick_12"> <g id="line2d_68"> <path d="M 323.04 185.520 L 540.96 185.520 " clip-path="url(#p72671d283d)" style="fill: none; stroke-dasharray: 1,3; stroke-dashoffset: 0; stroke: #000000; stroke-width: 0.5"/> </g> <g id="line2d_69"> <g> <use xlink:href="#m15b6ba686d" x="323.04" y="185.520" style="stroke: #000000; stroke-width: 0.5"/> </g> </g> <g id="line2d_70"> <g> <use xlink:href="#m23530d4d53" x="540.96" y="185.520" style="stroke: #000000; stroke-width: 0.5"/> </g> </g> <g id="text_29"> <text style="font-size: 8.400px; font-family: 'Liberation Sans', sans-serif; text-anchor: end" x="319.04" y="188" transform="rotate(-0 319.04 188)" textLength="16.356" lengthAdjust="spacingAndGlyphs">−10</text> </g> </g> <g id="ytick_13"> <g id="line2d_71"> <path d="M 323.04 149.520 L 540.96 149.520 " clip-path="url(#p72671d283d)" style="fill: none; stroke-dasharray: 1,3; stroke-dashoffset: 0; stroke: #000000; stroke-width: 0.5"/> </g> <g id="line2d_72"> <g> <use xlink:href="#m15b6ba686d" x="323.04" y="149.520" style="stroke: #000000; stroke-width: 0.5"/> </g> </g> <g id="line2d_73"> <g> <use xlink:href="#m23530d4d53" x="540.96" y="149.520" style="stroke: #000000; stroke-width: 0.5"/> </g> </g> <g id="text_30"> <text style="font-size: 8.400px; font-family: 'Liberation Sans', sans-serif; text-anchor: end" x="319.04" y="151.68" transform="rotate(-0 319.04 151.68)" textLength="4.690" lengthAdjust="spacingAndGlyphs">0</text> </g> </g> <g id="ytick_14"> <g id="line2d_74"> <path d="M 323.04 113.040 L 540.96 113.040 " clip-path="url(#p72671d283d)" style="fill: none; stroke-dasharray: 1,3; stroke-dashoffset: 0; stroke: #000000; stroke-width: 0.5"/> </g> <g id="line2d_75"> <g> <use xlink:href="#m15b6ba686d" x="323.04" y="113.040" style="stroke: #000000; stroke-width: 0.5"/> </g> </g> <g id="line2d_76"> <g> <use xlink:href="#m23530d4d53" x="540.96" y="113.040" style="stroke: #000000; stroke-width: 0.5"/> </g> </g> <g id="text_31"> <text style="font-size: 8.400px; font-family: 'Liberation Sans', sans-serif; text-anchor: end" x="319.04" y="115.36" transform="rotate(-0 319.04 115.36)" textLength="9.783" lengthAdjust="spacingAndGlyphs">10</text> </g> </g> <g id="ytick_15"> <g id="line2d_77"> <path d="M 323.04 76.560 L 540.96 76.560 " clip-path="url(#p72671d283d)" style="fill: none; stroke-dasharray: 1,3; stroke-dashoffset: 0; stroke: #000000; stroke-width: 0.5"/> </g> <g id="line2d_78"> <g> <use xlink:href="#m15b6ba686d" x="323.04" y="76.560" style="stroke: #000000; stroke-width: 0.5"/> </g> </g> <g id="line2d_79"> <g> <use xlink:href="#m23530d4d53" x="540.96" y="76.560" style="stroke: #000000; stroke-width: 0.5"/> </g> </g> <g id="text_32"> <text style="font-size: 8.400px; font-family: 'Liberation Sans', sans-serif; text-anchor: end" x="319.04" y="79.04" transform="rotate(-0 319.04 79.04)" textLength="9.854" lengthAdjust="spacingAndGlyphs">20</text> </g> </g> <g id="ytick_16"> <g id="line2d_80"> <path d="M 323.04 40.560 L 540.96 40.560 " clip-path="url(#p72671d283d)" style="fill: none; stroke-dasharray: 1,3; stroke-dashoffset: 0; stroke: #000000; stroke-width: 0.5"/> </g> <g id="line2d_81"> <g> <use xlink:href="#m15b6ba686d" x="323.04" y="40.560" style="stroke: #000000; stroke-width: 0.5"/> </g> </g> <g id="line2d_82"> <g> <use xlink:href="#m23530d4d53" x="540.96" y="40.560" style="stroke: #000000; stroke-width: 0.5"/> </g> </g> <g id="text_33"> <text style="font-size: 8.400px; font-family: 'Liberation Sans', sans-serif; text-anchor: end" x="319.04" y="42.72" transform="rotate(-0 319.04 42.72)" textLength="9.713" lengthAdjust="spacingAndGlyphs">30</text> </g> </g> <g id="ctr_y1" transform="translate(-0.480 0.480)"> <text style="font-size: 8.400px; font-family: 'Liberation Sans', sans-serif; text-anchor: middle" x="295.32" y="149.28" transform="rotate(-90 295.32 149.28)" textLength="35.940" lengthAdjust="spacingAndGlyphs">V1(km/s)</text> </g> </g> <g id="text_34"> <g transform="translate(329.577 248.302)"> <text> <tspan x="0" y="-0.25" style="font-size: 10.080px; font-family: 'Liberation Serif', serif; font-style: italic">λ</tspan> <tspan x="8.971" y="-0.25" style="font-size: 10.080px; font-family: 'Liberation Serif', serif">/</tspan> <tspan x="13.471" y="-0.25" style="font-size: 10.080px; font-family: 'Liberation Serif', serif; font-style: italic">λ</tspan> <tspan x="5.247" y="1.280" style="font-size: 7.056px; font-family: 'Liberation Serif', serif">1</tspan> <tspan x="18.718" y="1.280" style="font-size: 7.056px; font-family: 'Liberation Serif', serif">2</tspan> <tspan x="24.022" y="-0.25" style="font-size: 10.080px; font-family: 'Liberation Serif', serif">≈</tspan> <tspan x="32.594" y="-0.25" style="font-size: 9.450px; font-family: 'Liberation Sans', sans-serif" textLength="5.726" lengthAdjust="spacingAndGlyphs">2</tspan> <tspan x="38.320" y="-0.25" style="font-size: 9.450px; font-family: 'Liberation Sans', sans-serif" textLength="5.726" lengthAdjust="spacingAndGlyphs">2</tspan> <tspan x="44.046" y="-0.25" style="font-size: 9.450px; font-family: 'Liberation Sans', sans-serif" textLength="2.861" lengthAdjust="spacingAndGlyphs">.</tspan> <tspan x="46.907" y="-0.25" style="font-size: 9.450px; font-family: 'Liberation Sans', sans-serif" textLength="5.726" lengthAdjust="spacingAndGlyphs">1</tspan> <tspan x="52.633" y="-0.25" style="font-size: 9.450px; font-family: 'Liberation Sans', sans-serif" textLength="5.726" lengthAdjust="spacingAndGlyphs">4</tspan> </text> </g> </g> <g id="ctr_t1"> <text style="font-size: 11.760px; font-family: 'Liberation Sans', sans-serif; text-anchor: middle" x="432" y="35.32" transform="rotate(-0 432 35.32)" textLength="175.346" lengthAdjust="spacingAndGlyphs">Hodogram(V2_V1 MVAB frame)</text> </g> <g id="legend_2"> <g id="patch_13"> <path d="M 483.198 72.277  L 537.46 72.277  L 537.46 43.82  L 483.198 43.82  z " style="fill: #ffffff; stroke: #000000; stroke-linejoin: miter"/> </g> <g id="line2d_83"> <path d="M 488.098 51.327  L 497.898 51.327  " style="fill: none; stroke: #0000ff; stroke-linecap: square"/> <g> <use xlink:href="#m40c38f925a" x="488.098" y="51.327" style="fill: #0000ff; stroke: #0000ff; stroke-width: 0.5"/> <use xlink:href="#m40c38f925a" x="497.898" y="51.327" style="fill: #0000ff; stroke: #0000ff; stroke-width: 0.5"/> </g> </g> <g id="text_35"> <g transform="translate(505.598 53.777)"> <text> <tspan x="0" y="-0.314" style="font-size: 7.350px; font-family: 'Liberation Sans', sans-serif" textLength="4.802" lengthAdjust="spacingAndGlyphs">B</tspan> <tspan x="4.802" y="-0.314" style="font-size: 7.350px; font-family: 'Liberation Sans', sans-serif" textLength="2.358" lengthAdjust="spacingAndGlyphs">/</tspan> <tspan x="13.691" y="-0.468" style="font-size: 7.840px; font-family: 'Liberation Serif', serif; font-style: italic">μ</tspan> <tspan x="20.802" y="-0.468" style="font-size: 7.840px; font-family: 'Liberation Serif', serif; font-style: italic">ρ</tspan> <tspan x="17.906" y="0.721" style="font-size: 5.488px; font-family: 'Liberation Serif', serif">0</tspan> </text><path d="M 7.500 -1.965 L 8.293 -2.418 L 9.425 0.299 L 11.689 -5.135 L 12.820 -5.135" style="fill:none;stroke:#000;stroke-width:0.424;stroke-linejoin:miter"/><path d="M 8.293 -2.418 L 9.425 0.299" style="fill:none;stroke:#000;stroke-width:0.792"/> <rect x="12.816" y="-6.125" width="12.480" height="0.437"/> </g> </g> <g id="line2d_84"> <path d="M 488.098 63.917  L 497.898 63.917  " style="fill: none; stroke: #ff0000; stroke-linecap: square"/> <g> <use xlink:href="#m83089336b0" x="488.098" y="63.917" style="fill: #ff0000; stroke: #ff0000; stroke-width: 0.5"/> <use xlink:href="#m83089336b0" x="497.898" y="63.917" style="fill: #ff0000; stroke: #ff0000; stroke-width: 0.5"/> </g> </g> <g id="text_36"> <g transform="translate(505.598 66.367)"> <text> <tspan x="0" y="-0.890" style="font-size: 7.350px; font-family: 'Liberation Sans', sans-serif" textLength="4.789" lengthAdjust="spacingAndGlyphs">V</tspan> <tspan x="5.101" y="0.299" style="font-size: 5.488px; font-family: 'Liberation Serif', serif; font-style: italic">r</tspan> <tspan x="7.311" y="0.299" style="font-size: 5.488px; font-family: 'Liberation Serif', serif; font-style: italic">e</tspan> <tspan x="9.589" y="0.299" style="font-size: 5.488px; font-family: 'Liberation Serif', serif; font-style: italic">m</tspan> <tspan x="13.891" y="0.299" style="font-size: 5.488px; font-family: 'Liberation Serif', serif; font-style: italic">a</tspan> <tspan x="16.477" y="0.299" style="font-size: 5.488px; font-family: 'Liberation Serif', serif; font-style: italic">i</tspan> <tspan x="18.164" y="0.299" style="font-size: 5.488px; font-family: 'Liberation Serif', serif; font-style: italic">n</tspan> <tspan x="21.105" y="0.299" style="font-size: 5.488px; font-family: 'Liberation Serif', serif; font-style: italic">i</tspan> <tspan x="22.791" y="0.299" style="font-size: 5.488px; font-family: 'Liberation Serif', serif; font-style: italic">n</tspan> <tspan x="25.732" y="0.299" style="font-size: 5.488px; font-family: 'Liberation Serif', serif; font-style: italic">g</tspan> </text> </g> </g> </g> </g> <g id="axes_3"> <g id="patch_14"> <path d="M 589.92 258.24  L 807.84 258.24  L 807.84 40.32  L 589.92 40.32  z " style="fill: #ffffff"/> </g> <g id="line2d_85"> <path d="M 604.512 141.628  L 604.032 132.028  L 601.632 149.616  L 603.12 161.212  L 606.096 151.420  L 605.088 153.552  L 605.28 151.718  L 599.952 156.998  L 602.64 162.249  L 603.024 163.161  L 601.728 166.780  L 606 163.526  L 602.88 161.011  L 601.92 164.198  " clip-path="url(#pfd859f225f)" style="fill: none; stroke: #0000ff; stroke-linecap: square"/> <g clip-path="url(#pfd859f225f)"> <use xlink:href="#m40c38f925a" x="604.512" y="141.628" style="fill: #0000ff; stroke: #0000ff; stroke-width: 0.5"/> <use xlink:href="#m40c38f925a" x="604.032" y="132.028" style="fill: #0000ff; stroke: #0000ff; stroke-width: 0.5"/> <use xlink:href="#m40c38f925a" x="601.632" y="149.616" style="fill: #0000ff; stroke: #0000ff; stroke-width: 0.5"/> <use xlink:href="#m40c38f925a" x="603.12" y="161.212" style="fill: #0000ff; stroke: #0000ff; stroke-width: 0.5"/> <use xlink:href="#m40c38f925a" x="606.096" y="151.420" style="fill: #0000ff; stroke: #0000ff; stroke-width: 0.5"/> <use xlink:href="#m40c38f925a" x="605.088" y="153.552" style="fill: #0000ff; stroke: #0000ff; stroke-width: 0.5"/> <use xlink:href="#m40c38f925a" x="605.28" y="151.718" style="fill: #0000ff; stroke: #0000ff; stroke-width: 0.5"/> <use xlink:href="#m40c38f925a" x="599.952" y="156.998" style="fill: #0000ff; stroke: #0000ff; stroke-width: 0.5"/> <use xlink:href="#m40c38f925a" x="602.64" y="162.249" style="fill: #0000ff; stroke: #0000ff; stroke-width: 0.5"/> <use xlink:href="#m40c38f925a" x="603.024" y="163.161" style="fill: #0000ff; stroke: #0000ff; stroke-width: 0.5"/> <use xlink:href="#m40c38f925a" x="601.728" y="166.780" style="fill: #0000ff; stroke: #0000ff; stroke-width: 0.5"/> <use xlink:href="#m40c38f925a" x="606" y="163.526" style="fill: #0000ff; stroke: #0000ff; stroke-width: 0.5"/> <use xlink:href="#m40c38f925a" x="602.88" y="161.011" style="fill: #0000ff; stroke: #0000ff; stroke-width: 0.5"/> <use xlink:href="#m40c38f925a" x="601.92" y="164.198" style="fill: #0000ff; stroke: #0000ff; stroke-width: 0.5"/> </g> </g> <g id="line2d_86"> <path d="M 785.04 151.036  L 785.28 149.798  L 785.76 148.617  L 783.84 144.979  L 782.64 139.036  L 782.64 146.918  L 784.32 144.412  L 783.072 142.204  L 786.24 148.848  L 785.472 154.099  L 785.472 159.292  L 783.36 145.267  L 784.56 144.518  L 786.48 147.974  " clip-path="url(#pfd859f225f)" style="fill: none; stroke: #ff0000; stroke-linecap: square"/> <g clip-path="url(#pfd859f225f)"> <use xlink:href="#m83089336b0" x="785.04" y="151.036" style="fill: #ff0000; stroke: #ff0000; stroke-width: 0.5"/> <use xlink:href="#m83089336b0" x="785.28" y="149.798" style="fill: #ff0000; stroke: #ff0000; stroke-width: 0.5"/> <use xlink:href="#m83089336b0" x="785.76" y="148.617" style="fill: #ff0000; stroke: #ff0000; stroke-width: 0.5"/> <use xlink:href="#m83089336b0" x="783.84" y="144.979" style="fill: #ff0000; stroke: #ff0000; stroke-width: 0.5"/> <use xlink:href="#m83089336b0" x="782.64" y="139.036" style="fill: #ff0000; stroke: #ff0000; stroke-width: 0.5"/> <use xlink:href="#m83089336b0" x="782.64" y="146.918" style="fill: #ff0000; stroke: #ff0000; stroke-width: 0.5"/> <use xlink:href="#m83089336b0" x="784.32" y="144.412" style="fill: #ff0000; stroke: #ff0000; stroke-width: 0.5"/> <use xlink:href="#m83089336b0" x="783.072" y="142.204" style="fill: #ff0000; stroke: #ff0000; stroke-width: 0.5"/> <use xlink:href="#m83089336b0" x="786.24" y="148.848" style="fill: #ff0000; stroke: #ff0000; stroke-width: 0.5"/> <use xlink:href="#m83089336b0" x="785.472" y="154.099" style="fill: #ff0000; stroke: #ff0000; stroke-width: 0.5"/> <use xlink:href="#m83089336b0" x="785.472" y="159.292" style="fill: #ff0000; stroke: #ff0000; stroke-width: 0.5"/> <use xlink:href="#m83089336b0" x="783.36" y="145.267" style="fill: #ff0000; stroke: #ff0000; stroke-width: 0.5"/> <use xlink:href="#m83089336b0" x="784.56" y="144.518" style="fill: #ff0000; stroke: #ff0000; stroke-width: 0.5"/> <use xlink:href="#m83089336b0" x="786.48" y="147.974" style="fill: #ff0000; stroke: #ff0000; stroke-width: 0.5"/> </g> </g> <g id="patch_15"> <path d="M 589.92 258.24  L 589.92 40.32  " style="fill: none; stroke: #000000; stroke-linejoin: miter; stroke-linecap: square"/> </g> <g id="patch_16"> <path d="M 807.84 258.24  L 807.84 40.32  " style="fill: none; stroke: #000000; stroke-linejoin: miter; stroke-linecap: square"/> </g> <g id="patch_17"> <path d="M 589.92 258.24  L 807.84 258.24  " style="fill: none; stroke: #000000; stroke-linejoin: miter; stroke-linecap: square"/> </g> <g id="patch_18"> <path d="M 589.92 40.32  L 807.84 40.32  " style="fill: none; stroke: #000000; stroke-linejoin: miter; stroke-linecap: square"/> </g> <g id="matplotlib.axis_5"> <g id="xtick_16"> <g id="line2d_87"> <path d="M 590.160 258.24 L 590.160 40.32 " clip-path="url(#pfd859f225f)" style="fill: none; stroke-dasharray: 1,3; stroke-dashoffset: 0; stroke: #000000; stroke-width: 0.5"/> </g> <g id="line2d_88"> <g> <use xlink:href="#m9970c9cf34" x="590.160" y="258.24" style="stroke: #000000; stroke-width: 0.5"/> </g> </g> <g id="line2d_89"> <g> <use xlink:href="#ma74727226e" x="590.160" y="40.32" style="stroke: #000000; stroke-width: 0.5"/> </g> </g> <g id="text_37"> <text style="font-size: 8.400px; font-family: 'Liberation Sans', sans-serif; text-anchor: middle" x="589.92" y="268.96" transform="rotate(-0 589.92 268.96)" textLength="21.435" lengthAdjust="spacingAndGlyphs">−200</text> </g> </g> <g id="xtick_17"> <g id="line2d_90"> <path d="M 626.160 258.24 L 626.160 40.32 " clip-path="url(#pfd859f225f)" style="fill: none; stroke-dasharray: 1,3; stroke-dashoffset: 0; stroke: #000000; stroke-width: 0.5"/> </g> <g id="line2d_91"> <g> <use xlink:href="#m9970c9cf34" x="626.160" y="258.24" style="stroke: #000000; stroke-width: 0.5"/> </g> </g> <g id="line2d_92"> <g> <use xlink:href="#ma74727226e" x="626.160" y="40.32" style="stroke: #000000; stroke-width: 0.5"/> </g> </g> <g id="text_38"> <text style="font-size: 8.400px; font-family: 'Liberation Sans', sans-serif; text-anchor: middle" x="626.24" y="268.96" transform="rotate(-0 626.24 268.96)" textLength="21.435" lengthAdjust="spacingAndGlyphs">−150</text> </g> </g> <g id="xtick_18"> <g id="line2d_93"> <path d="M 662.640 258.24 L 662.640 40.32 " clip-path="url(#pfd859f225f)" style="fill: none; stroke-dasharray: 1,3; stroke-dashoffset: 0; stroke: #000000; stroke-width: 0.5"/> </g> <g id="line2d_94"> <g> <use xlink:href="#m9970c9cf34" x="662.640" y="258.24" style="stroke: #000000; stroke-width: 0.5"/> </g> </g> <g id="line2d_95"> <g> <use xlink:href="#ma74727226e" x="662.640" y="40.32" style="stroke: #000000; stroke-width: 0.5"/> </g> </g> <g id="text_39"> <text style="font-size: 8.400px; font-family: 'Liberation Sans', sans-serif; text-anchor: middle" x="662.56" y="268.96" transform="rotate(-0 662.56 268.96)" textLength="21.435" lengthAdjust="spacingAndGlyphs">−100</text> </g> </g> <g id="xtick_19"> <g id="line2d_96"> <path d="M 699.120 258.24 L 699.120 40.32 " clip-path="url(#pfd859f225f)" style="fill: none; stroke-dasharray: 1,3; stroke-dashoffset: 0; stroke: #000000; stroke-width: 0.5"/> </g> <g id="line2d_97"> <g> <use xlink:href="#m9970c9cf34" x="699.120" y="258.24" style="stroke: #000000; stroke-width: 0.5"/> </g> </g> <g id="line2d_98"> <g> <use xlink:href="#ma74727226e" x="699.120" y="40.32" style="stroke: #000000; stroke-width: 0.5"/> </g> </g> <g id="text_40"> <text style="font-size: 8.400px; font-family: 'Liberation Sans', sans-serif; text-anchor: middle" x="698.88" y="268.96" transform="rotate(-0 698.88 268.96)" textLength="16.356" lengthAdjust="spacingAndGlyphs">−50</text> </g> </g> <g id="xtick_20"> <g id="line2d_99"> <path d="M 735.120 258.24 L 735.120 40.32 " clip-path="url(#pfd859f225f)" style="fill: none; stroke-dasharray: 1,3; stroke-dashoffset: 0; stroke: #000000; stroke-width: 0.5"/> </g> <g id="line2d_100"> <g> <use xlink:href="#m9970c9cf34" x="735.120" y="258.24" style="stroke: #000000; stroke-width: 0.5"/> </g> </g> <g id="line2d_101"> <g> <use xlink:href="#ma74727226e" x="735.120" y="40.32" style="stroke: #000000; stroke-width: 0.5"/> </g> </g> <g id="text_41"> <text style="font-size: 8.400px; font-family: 'Liberation Sans', sans-serif; text-anchor: middle" x="735.2" y="268.96" transform="rotate(-0 735.2 268.96)" textLength="4.690" lengthAdjust="spacingAndGlyphs">0</text> </g> </g> <g id="xtick_21"> <g id="line2d_102"> <path d="M 771.600 258.24 L 771.600 40.32 " clip-path="url(#pfd859f225f)" style="fill: none; stroke-dasharray: 1,3; stroke-dashoffset: 0; stroke: #000000; stroke-width: 0.5"/> </g> <g id="line2d_103"> <g> <use xlink:href="#m9970c9cf34" x="771.600" y="258.24" style="stroke: #000000; stroke-width: 0.5"/> </g> </g> <g id="line2d_104"> <g> <use xlink:href="#ma74727226e" x="771.600" y="40.32" style="stroke: #000000; stroke-width: 0.5"/> </g> </g> <g id="text_42"> <text style="font-size: 8.400px; font-family: 'Liberation Sans', sans-serif; text-anchor: middle" x="771.52" y="268.96" transform="rotate(-0 771.52 268.96)" textLength="9.723" lengthAdjust="spacingAndGlyphs">50</text> </g> </g> <g id="xtick_22"> <g id="line2d_105"> <path d="M 808.080 258.24 L 808.080 40.32 " clip-path="url(#pfd859f225f)" style="fill: none; stroke-dasharray: 1,3; stroke-dashoffset: 0; stroke: #000000; stroke-width: 0.5"/> </g> <g id="line2d_106"> <g> <use xlink:href="#m9970c9cf34" x="808.080" y="258.24" style="stroke: #000000; stroke-width: 0.5"/> </g> </g> <g id="line2d_107"> <g> <use xlink:href="#ma74727226e" x="808.080" y="40.32" style="stroke: #000000; stroke-width: 0.5"/> </g> </g> <g id="text_43"> <text style="font-size: 8.400px; font-family: 'Liberation Sans', sans-serif; text-anchor: middle" x="807.84" y="268.96" transform="rotate(-0 807.84 268.96)" textLength="14.888" lengthAdjust="spacingAndGlyphs">100</text> </g> </g> <g id="ctr_x2"> <text style="font-size: 8.400px; font-family: 'Liberation Sans', sans-serif; text-anchor: middle" x="698.88" y="282.6" transform="rotate(-0 698.88 282.6)" textLength="35.940" lengthAdjust="spacingAndGlyphs">V3(km/s)</text> </g> </g> <g id="matplotlib.axis_6"> <g id="ytick_17"> <g id="line2d_108"> <path d="M 589.92 258.480 L 807.84 258.480 " clip-path="url(#pfd859f225f)" style="fill: none; stroke-dasharray: 1,3; stroke-dashoffset: 0; stroke: #000000; stroke-width: 0.5"/> </g> <g id="line2d_109"> <g> <use xlink:href="#m15b6ba686d" x="589.92" y="258.480" style="stroke: #000000; stroke-width: 0.5"/> </g> </g> <g id="line2d_110"> <g> <use xlink:href="#m23530d4d53" x="807.84" y="258.480" style="stroke: #000000; stroke-width: 0.5"/> </g> </g> <g id="text_44"> <text style="font-size: 8.400px; font-family: 'Liberation Sans', sans-serif; text-anchor: end" x="585.92" y="260.64" transform="rotate(-0 585.92 260.64)" textLength="21.435" lengthAdjust="spacingAndGlyphs">−150</text> </g> </g> <g id="ytick_18"> <g id="line2d_111"> <path d="M 589.92 222.000 L 807.84 222.000 " clip-path="url(#pfd859f225f)" style="fill: none; stroke-dasharray: 1,3; stroke-dashoffset: 0; stroke: #000000; stroke-width: 0.5"/> </g> <g id="line2d_112"> <g> <use xlink:href="#m15b6ba686d" x="589.92" y="222.000" style="stroke: #000000; stroke-width: 0.5"/> </g> </g> <g id="line2d_113"> <g> <use xlink:href="#m23530d4d53" x="807.84" y="222.000" style="stroke: #000000; stroke-width: 0.5"/> </g> </g> <g id="text_45"> <text style="font-size: 8.400px; font-family: 'Liberation Sans', sans-serif; text-anchor: end" x="585.92" y="224.32" transform="rotate(-0 585.92 224.32)" textLength="21.435" lengthAdjust="spacingAndGlyphs">−100</text> </g> </g> <g id="ytick_19"> <g id="line2d_114"> <path d="M 589.92 185.520 L 807.84 185.520 " clip-path="url(#pfd859f225f)" style="fill: none; stroke-dasharray: 1,3; stroke-dashoffset: 0; stroke: #000000; stroke-width: 0.5"/> </g> <g id="line2d_115"> <g> <use xlink:href="#m15b6ba686d" x="589.92" y="185.520" style="stroke: #000000; stroke-width: 0.5"/> </g> </g> <g id="line2d_116"> <g> <use xlink:href="#m23530d4d53" x="807.84" y="185.520" style="stroke: #000000; stroke-width: 0.5"/> </g> </g> <g id="text_46"> <text style="font-size: 8.400px; font-family: 'Liberation Sans', sans-serif; text-anchor: end" x="585.92" y="188" transform="rotate(-0 585.92 188)" textLength="16.356" lengthAdjust="spacingAndGlyphs">−50</text> </g> </g> <g id="ytick_20"> <g id="line2d_117"> <path d="M 589.92 149.520 L 807.84 149.520 " clip-path="url(#pfd859f225f)" style="fill: none; stroke-dasharray: 1,3; stroke-dashoffset: 0; stroke: #000000; stroke-width: 0.5"/> </g> <g id="line2d_118"> <g> <use xlink:href="#m15b6ba686d" x="589.92" y="149.520" style="stroke: #000000; stroke-width: 0.5"/> </g> </g> <g id="line2d_119"> <g> <use xlink:href="#m23530d4d53" x="807.84" y="149.520" style="stroke: #000000; stroke-width: 0.5"/> </g> </g> <g id="text_47"> <text style="font-size: 8.400px; font-family: 'Liberation Sans', sans-serif; text-anchor: end" x="585.92" y="151.68" transform="rotate(-0 585.92 151.68)" textLength="4.690" lengthAdjust="spacingAndGlyphs">0</text> </g> </g> <g id="ytick_21"> <g id="line2d_120"> <path d="M 589.92 113.040 L 807.84 113.040 " clip-path="url(#pfd859f225f)" style="fill: none; stroke-dasharray: 1,3; stroke-dashoffset: 0; stroke: #000000; stroke-width: 0.5"/> </g> <g id="line2d_121"> <g> <use xlink:href="#m15b6ba686d" x="589.92" y="113.040" style="stroke: #000000; stroke-width: 0.5"/> </g> </g> <g id="line2d_122"> <g> <use xlink:href="#m23530d4d53" x="807.84" y="113.040" style="stroke: #000000; stroke-width: 0.5"/> </g> </g> <g id="text_48"> <text style="font-size: 8.400px; font-family: 'Liberation Sans', sans-serif; text-anchor: end" x="585.92" y="115.36" transform="rotate(-0 585.92 115.36)" textLength="9.723" lengthAdjust="spacingAndGlyphs">50</text> </g> </g> <g id="ytick_22"> <g id="line2d_123"> <path d="M 589.92 76.560 L 807.84 76.560 " clip-path="url(#pfd859f225f)" style="fill: none; stroke-dasharray: 1,3; stroke-dashoffset: 0; stroke: #000000; stroke-width: 0.5"/> </g> <g id="line2d_124"> <g> <use xlink:href="#m15b6ba686d" x="589.92" y="76.560" style="stroke: #000000; stroke-width: 0.5"/> </g> </g> <g id="line2d_125"> <g> <use xlink:href="#m23530d4d53" x="807.84" y="76.560" style="stroke: #000000; stroke-width: 0.5"/> </g> </g> <g id="text_49"> <text style="font-size: 8.400px; font-family: 'Liberation Sans', sans-serif; text-anchor: end" x="585.92" y="79.04" transform="rotate(-0 585.92 79.04)" textLength="14.888" lengthAdjust="spacingAndGlyphs">100</text> </g> </g> <g id="ytick_23"> <g id="line2d_126"> <path d="M 589.92 40.560 L 807.84 40.560 " clip-path="url(#pfd859f225f)" style="fill: none; stroke-dasharray: 1,3; stroke-dashoffset: 0; stroke: #000000; stroke-width: 0.5"/> </g> <g id="line2d_127"> <g> <use xlink:href="#m15b6ba686d" x="589.92" y="40.560" style="stroke: #000000; stroke-width: 0.5"/> </g> </g> <g id="line2d_128"> <g> <use xlink:href="#m23530d4d53" x="807.84" y="40.560" style="stroke: #000000; stroke-width: 0.5"/> </g> </g> <g id="text_50"> <text style="font-size: 8.400px; font-family: 'Liberation Sans', sans-serif; text-anchor: end" x="585.92" y="42.72" transform="rotate(-0 585.92 42.72)" textLength="14.888" lengthAdjust="spacingAndGlyphs">150</text> </g> </g> <g id="ctr_y2" transform="translate(-0.480 0.480)"> <text style="font-size: 8.400px; font-family: 'Liberation Sans', sans-serif; text-anchor: middle" x="557.16" y="149.28" transform="rotate(-90 557.16 149.28)" textLength="35.940" lengthAdjust="spacingAndGlyphs">V1(km/s)</text> </g> </g> <g id="text_51"> <g transform="translate(606.155 248.302)"> <text> <tspan x="0" y="-0.25" style="font-size: 10.080px; font-family: 'Liberation Serif', serif; font-style: italic">λ</tspan> <tspan x="8.971" y="-0.25" style="font-size: 10.080px; font-family: 'Liberation Serif', serif">/</tspan> <tspan x="13.471" y="-0.25" style="font-size: 10.080px; font-family: 'Liberation Serif', serif; font-style: italic">λ</tspan> <tspan x="5.247" y="1.280" style="font-size: 7.056px; font-family: 'Liberation Serif', serif">1</tspan> <tspan x="18.718" y="1.280" style="font-size: 7.056px; font-family: 'Liberation Serif', serif">3</tspan> <tspan x="24.022" y="-0.25" style="font-size: 10.080px; font-family: 'Liberation Serif', serif">≈</tspan> <tspan x="32.594" y="-0.25" style="font-size: 9.450px; font-family: 'Liberation Sans', sans-serif" textLength="5.726" lengthAdjust="spacingAndGlyphs">3</tspan> <tspan x="38.320" y="-0.25" style="font-size: 9.450px; font-family: 'Liberation Sans', sans-serif" textLength="5.726" lengthAdjust="spacingAndGlyphs">7</tspan> <tspan x="44.046" y="-0.25" style="font-size: 9.450px; font-family: 'Liberation Sans', sans-serif" textLength="5.726" lengthAdjust="spacingAndGlyphs">2</tspan> <tspan x="49.772" y="-0.25" style="font-size: 9.450px; font-family: 'Liberation Sans', sans-serif" textLength="2.861" lengthAdjust="spacingAndGlyphs">.</tspan> <tspan x="52.633" y="-0.25" style="font-size: 9.450px; font-family: 'Liberation Sans', sans-serif" textLength="5.726" lengthAdjust="spacingAndGlyphs">3</tspan> <tspan x="58.359" y="-0.25" style="font-size: 9.450px; font-family: 'Liberation Sans', sans-serif" textLength="5.726" lengthAdjust="spacingAndGlyphs">1</tspan> </text> </g> </g> <g id="ctr_t2"> <text style="font-size: 11.760px; font-family: 'Liberation Sans', sans-serif; text-anchor: middle" x="698.88" y="35.32" transform="rotate(-0 698.88 35.32)" textLength="175.346" lengthAdjust="spacingAndGlyphs">Hodogram(V3_V1 MVAB frame)</text> </g> <g id="legend_3"> <g id="patch_19"> <path d="M 750.078 72.277  L 804.34 72.277  L 804.34 43.82  L 750.078 43.82  z " style="fill: #ffffff; stroke: #000000; stroke-linejoin: miter"/> </g> <g id="line2d_129"> <path d="M 754.978 51.327  L 764.778 51.327  " style="fill: none; stroke: #0000ff; stroke-linecap: square"/> <g> <use xlink:href="#m40c38f925a" x="754.978" y="51.327" style="fill: #0000ff; stroke: #0000ff; stroke-width: 0.5"/> <use xlink:href="#m40c38f925a" x="764.778" y="51.327" style="fill: #0000ff; stroke: #0000ff; stroke-width: 0.5"/> </g> </g> <g id="text_52"> <g transform="translate(772.478 53.777)"> <text> <tspan x="0" y="-0.314" style="font-size: 7.350px; font-family: 'Liberation Sans', sans-serif" textLength="4.802" lengthAdjust="spacingAndGlyphs">B</tspan> <tspan x="4.802" y="-0.314" style="font-size: 7.350px; font-family: 'Liberation Sans', sans-serif" textLength="2.358" lengthAdjust="spacingAndGlyphs">/</tspan> <tspan x="13.691" y="-0.468" style="font-size: 7.840px; font-family: 'Liberation Serif', serif; font-style: italic">μ</tspan> <tspan x="20.802" y="-0.468" style="font-size: 7.840px; font-family: 'Liberation Serif', serif; font-style: italic">ρ</tspan> <tspan x="17.906" y="0.721" style="font-size: 5.488px; font-family: 'Liberation Serif', serif">0</tspan> </text><path d="M 7.500 -1.965 L 8.293 -2.418 L 9.425 0.299 L 11.689 -5.135 L 12.820 -5.135" style="fill:none;stroke:#000;stroke-width:0.424;stroke-linejoin:miter"/><path d="M 8.293 -2.418 L 9.425 0.299" style="fill:none;stroke:#000;stroke-width:0.792"/> <rect x="12.816" y="-6.125" width="12.480" height="0.437"/> </g> </g> <g id="line2d_130"> <path d="M 754.978 63.917  L 764.778 63.917  " style="fill: none; stroke: #ff0000; stroke-linecap: square"/> <g> <use xlink:href="#m83089336b0" x="754.978" y="63.917" style="fill: #ff0000; stroke: #ff0000; stroke-width: 0.5"/> <use xlink:href="#m83089336b0" x="764.778" y="63.917" style="fill: #ff0000; stroke: #ff0000; stroke-width: 0.5"/> </g> </g> <g id="text_53"> <g transform="translate(772.478 66.367)"> <text> <tspan x="0" y="-0.890" style="font-size: 7.350px; font-family: 'Liberation Sans', sans-serif" textLength="4.789" lengthAdjust="spacingAndGlyphs">V</tspan> <tspan x="5.101" y="0.299" style="font-size: 5.488px; font-family: 'Liberation Serif', serif; font-style: italic">r</tspan> <tspan x="7.311" y="0.299" style="font-size: 5.488px; font-family: 'Liberation Serif', serif; font-style: italic">e</tspan> <tspan x="9.589" y="0.299" style="font-size: 5.488px; font-family: 'Liberation Serif', serif; font-style: italic">m</tspan> <tspan x="13.891" y="0.299" style="font-size: 5.488px; font-family: 'Liberation Serif', serif; font-style: italic">a</tspan> <tspan x="16.477" y="0.299" style="font-size: 5.488px; font-family: 'Liberation Serif', serif; font-style: italic">i</tspan> <tspan x="18.164" y="0.299" style="font-size: 5.488px; font-family: 'Liberation Serif', serif; font-style: italic">n</tspan> <tspan x="21.105" y="0.299" style="font-size: 5.488px; font-family: 'Liberation Serif', serif; font-style: italic">i</tspan> <tspan x="22.791" y="0.299" style="font-size: 5.488px; font-family: 'Liberation Serif', serif; font-style: italic">n</tspan> <tspan x="25.732" y="0.299" style="font-size: 5.488px; font-family: 'Liberation Serif', serif; font-style: italic">g</tspan> </text> </g> </g> </g> </g> <g id="axes_4"> <g id="patch_20"> <path d="M 56.16 535.68  L 274.08 535.68  L 274.08 317.76  L 56.16 317.76  z " style="fill: #ffffff"/> </g> <g id="line2d_131"> <defs> <path id="m5903e00903" d="M 0 2.6  C 0.689 2.6 1.350 2.326 1.838 1.838  C 2.326 1.350 2.6 0.689 2.6 0  C 2.6 -0.689 2.326 -1.350 1.838 -1.838  C 1.350 -2.326 0.689 -2.6 0 -2.6  C -0.689 -2.6 -1.350 -2.326 -1.838 -1.838  C -2.326 -1.350 -2.6 -0.689 -2.6 0  C -2.6 0.689 -2.326 1.350 -1.838 1.838  C -1.350 2.326 -0.689 2.6 0 2.6  z " style="stroke: #ff0000; stroke-width: 0.5"/> </defs> <g clip-path="url(#p5ff9e2daea)"> <use xlink:href="#m5903e00903" x="92.88" y="464.592" style="fill: #ff0000; stroke: #ff0000; stroke-width: 0.5"/> <use xlink:href="#m5903e00903" x="93.504" y="469.536" style="fill: #ff0000; stroke: #ff0000; stroke-width: 0.5"/> <use xlink:href="#m5903e00903" x="98.016" y="471.6" style="fill: #ff0000; stroke: #ff0000; stroke-width: 0.5"/> <use xlink:href="#m5903e00903" x="100.464" y="468.288" style="fill: #ff0000; stroke: #ff0000; stroke-width: 0.5"/> <use xlink:href="#m5903e00903" x="102.528" y="474.864" style="fill: #ff0000; stroke: #ff0000; stroke-width: 0.5"/> <use xlink:href="#m5903e00903" x="101.952" y="477.936" style="fill: #ff0000; stroke: #ff0000; stroke-width: 0.5"/> <use xlink:href="#m5903e00903" x="106.8" y="468.72" style="fill: #ff0000; stroke: #ff0000; stroke-width: 0.5"/> <use xlink:href="#m5903e00903" x="95.52" y="467.52" style="fill: #ff0000; stroke: #ff0000; stroke-width: 0.5"/> <use xlink:href="#m5903e00903" x="96.96" y="468.96" style="fill: #ff0000; stroke: #ff0000; stroke-width: 0.5"/> <use xlink:href="#m5903e00903" x="98.88" y="469.44" style="fill: #ff0000; stroke: #ff0000; stroke-width: 0.5"/> <use xlink:href="#m5903e00903" x="94.56" y="466.56" style="fill: #ff0000; stroke: #ff0000; stroke-width: 0.5"/> <use xlink:href="#m5903e00903" x="101.28" y="470.4" style="fill: #ff0000; stroke: #ff0000; stroke-width: 0.5"/> <use xlink:href="#m5903e00903" x="96" y="468.48" style="fill: #ff0000; stroke: #ff0000; stroke-width: 0.5"/> <use xlink:href="#m5903e00903" x="99.36" y="469.92" style="fill: #ff0000; stroke: #ff0000; stroke-width: 0.5"/> </g> </g> <g id="line2d_132"> <defs> <path id="m5790df7892" d="M 0 2.6  C 0.689 2.6 1.350 2.326 1.838 1.838  C 2.326 1.350 2.6 0.689 2.6 0  C 2.6 -0.689 2.326 -1.350 1.838 -1.838  C 1.350 -2.326 0.689 -2.6 0 -2.6  C -0.689 -2.6 -1.350 -2.326 -1.838 -1.838  C -2.326 -1.350 -2.6 -0.689 -2.6 0  C -2.6 0.689 -2.326 1.350 -1.838 1.838  C -1.350 2.326 -0.689 2.6 0 2.6  z " style="stroke: #008000; stroke-width: 0.5"/> </defs> <g clip-path="url(#p5ff9e2daea)"> <use xlink:href="#m5790df7892" x="89.52" y="472.512" style="fill: #008000; stroke: #008000; stroke-width: 0.5"/> <use xlink:href="#m5790df7892" x="99.024" y="471.072" style="fill: #008000; stroke: #008000; stroke-width: 0.5"/> <use xlink:href="#m5790df7892" x="111.504" y="463.776" style="fill: #008000; stroke: #008000; stroke-width: 0.5"/> <use xlink:href="#m5790df7892" x="114.384" y="469.104" style="fill: #008000; stroke: #008000; stroke-width: 0.5"/> <use xlink:href="#m5790df7892" x="108.24" y="474.048" style="fill: #008000; stroke: #008000; stroke-width: 0.5"/> <use xlink:href="#m5790df7892" x="111.936" y="474.432" style="fill: #008000; stroke: #008000; stroke-width: 0.5"/> <use xlink:href="#m5790df7892" x="124.032" y="473.424" style="fill: #008000; stroke: #008000; stroke-width: 0.5"/> <use xlink:href="#m5790df7892" x="120.768" y="478.752" style="fill: #008000; stroke: #008000; stroke-width: 0.5"/> <use xlink:href="#m5790df7892" x="124.416" y="478.944" style="fill: #008000; stroke: #008000; stroke-width: 0.5"/> <use xlink:href="#m5790df7892" x="117.264" y="482.64" style="fill: #008000; stroke: #008000; stroke-width: 0.5"/> <use xlink:href="#m5790df7892" x="127.392" y="485.04" style="fill: #008000; stroke: #008000; stroke-width: 0.5"/> <use xlink:href="#m5790df7892" x="123.024" y="476.928" style="fill: #008000; stroke: #008000; stroke-width: 0.5"/> <use xlink:href="#m5790df7892" x="121.92" y="478.08" style="fill: #008000; stroke: #008000; stroke-width: 0.5"/> <use xlink:href="#m5790df7892" x="123.36" y="477.6" style="fill: #008000; stroke: #008000; stroke-width: 0.5"/> </g> </g> <g id="line2d_133"> <defs> <path id="mb06a3440fd" d="M 0 2.6  C 0.689 2.6 1.350 2.326 1.838 1.838  C 2.326 1.350 2.6 0.689 2.6 0  C 2.6 -0.689 2.326 -1.350 1.838 -1.838  C 1.350 -2.326 0.689 -2.6 0 -2.6  C -0.689 -2.6 -1.350 -2.326 -1.838 -1.838  C -2.326 -1.350 -2.6 -0.689 -2.6 0  C -2.6 0.689 -2.326 1.350 -1.838 1.838  C -1.350 2.326 -0.689 2.6 0 2.6  z " style="stroke: #0000ff; stroke-width: 0.5"/> </defs> <g clip-path="url(#p5ff9e2daea)"> <use xlink:href="#mb06a3440fd" x="265.68" y="533.28" style="fill: #0000ff; stroke: #0000ff; stroke-width: 0.5"/> <use xlink:href="#mb06a3440fd" x="266.88" y="532.8" style="fill: #0000ff; stroke: #0000ff; stroke-width: 0.5"/> <use xlink:href="#mb06a3440fd" x="268.32" y="532.56" style="fill: #0000ff; stroke: #0000ff; stroke-width: 0.5"/> <use xlink:href="#mb06a3440fd" x="269.76" y="532.08" style="fill: #0000ff; stroke: #0000ff; stroke-width: 0.5"/> <use xlink:href="#mb06a3440fd" x="271.2" y="531.6" style="fill: #0000ff; stroke: #0000ff; stroke-width: 0.5"/> <use xlink:href="#mb06a3440fd" x="272.16" y="531.456" style="fill: #0000ff; stroke: #0000ff; stroke-width: 0.5"/> <use xlink:href="#mb06a3440fd" x="273.12" y="531.84" style="fill: #0000ff; stroke: #0000ff; stroke-width: 0.5"/> <use xlink:href="#mb06a3440fd" x="274.08" y="532.32" style="fill: #0000ff; stroke: #0000ff; stroke-width: 0.5"/> <use xlink:href="#mb06a3440fd" x="275.52" y="533.28" style="fill: #0000ff; stroke: #0000ff; stroke-width: 0.5"/> <use xlink:href="#mb06a3440fd" x="276.96" y="533.76" style="fill: #0000ff; stroke: #0000ff; stroke-width: 0.5"/> <use xlink:href="#mb06a3440fd" x="271.68" y="532.8" style="fill: #0000ff; stroke: #0000ff; stroke-width: 0.5"/> <use xlink:href="#mb06a3440fd" x="268.8" y="533.76" style="fill: #0000ff; stroke: #0000ff; stroke-width: 0.5"/> <use xlink:href="#mb06a3440fd" x="274.56" y="534.24" style="fill: #0000ff; stroke: #0000ff; stroke-width: 0.5"/> <use xlink:href="#mb06a3440fd" x="272.64" y="534.72" style="fill: #0000ff; stroke: #0000ff; stroke-width: 0.5"/> </g> </g> <g id="line2d_134"> <path d="M 56.16 453.547  L 274.08 534.614  " clip-path="url(#p5ff9e2daea)" style="fill: none; stroke-dasharray: 6,6; stroke-dashoffset: 0; stroke: #000000"/> </g> <g id="patch_21"> <path d="M 56.16 535.68  L 56.16 317.76  " style="fill: none; stroke: #000000; stroke-linejoin: miter; stroke-linecap: square"/> </g> <g id="patch_22"> <path d="M 274.08 535.68  L 274.08 317.76  " style="fill: none; stroke: #000000; stroke-linejoin: miter; stroke-linecap: square"/> </g> <g id="patch_23"> <path d="M 56.16 535.68  L 274.08 535.68  " style="fill: none; stroke: #000000; stroke-linejoin: miter; stroke-linecap: square"/> </g> <g id="patch_24"> <path d="M 56.16 317.76  L 274.08 317.76  " style="fill: none; stroke: #000000; stroke-linejoin: miter; stroke-linecap: square"/> </g> <g id="matplotlib.axis_7"> <g id="xtick_23"> <g id="line2d_135"> <g> <use xlink:href="#m9970c9cf34" x="73.200" y="535.68" style="stroke: #000000; stroke-width: 0.5"/> </g> </g> <g id="line2d_136"> <g> <use xlink:href="#ma74727226e" x="73.200" y="317.76" style="stroke: #000000; stroke-width: 0.5"/> </g> </g> <g id="text_54"> <text style="font-size: 8.400px; font-family: 'Liberation Sans', sans-serif; text-anchor: middle" x="73.364" y="546.4" transform="rotate(-0 73.364 546.4)" textLength="16.356" lengthAdjust="spacingAndGlyphs">−50</text> </g> </g> <g id="xtick_24"> <g id="line2d_137"> <g> <use xlink:href="#m9970c9cf34" x="115.440" y="535.68" style="stroke: #000000; stroke-width: 0.5"/> </g> </g> <g id="line2d_138"> <g> <use xlink:href="#ma74727226e" x="115.440" y="317.76" style="stroke: #000000; stroke-width: 0.5"/> </g> </g> <g id="text_55"> <text style="font-size: 8.400px; font-family: 'Liberation Sans', sans-serif; text-anchor: middle" x="115.531" y="546.4" transform="rotate(-0 115.531 546.4)" textLength="4.690" lengthAdjust="spacingAndGlyphs">0</text> </g> </g> <g id="xtick_25"> <g id="line2d_139"> <g> <use xlink:href="#m9970c9cf34" x="157.680" y="535.68" style="stroke: #000000; stroke-width: 0.5"/> </g> </g> <g id="line2d_140"> <g> <use xlink:href="#ma74727226e" x="157.680" y="317.76" style="stroke: #000000; stroke-width: 0.5"/> </g> </g> <g id="text_56"> <text style="font-size: 8.400px; font-family: 'Liberation Sans', sans-serif; text-anchor: middle" x="157.698" y="546.4" transform="rotate(-0 157.698 546.4)" textLength="9.723" lengthAdjust="spacingAndGlyphs">50</text> </g> </g> <g id="xtick_26"> <g id="line2d_141"> <g> <use xlink:href="#m9970c9cf34" x="199.920" y="535.68" style="stroke: #000000; stroke-width: 0.5"/> </g> </g> <g id="line2d_142"> <g> <use xlink:href="#ma74727226e" x="199.920" y="317.76" style="stroke: #000000; stroke-width: 0.5"/> </g> </g> <g id="text_57"> <text style="font-size: 8.400px; font-family: 'Liberation Sans', sans-serif; text-anchor: middle" x="199.865" y="546.4" transform="rotate(-0 199.865 546.4)" textLength="14.888" lengthAdjust="spacingAndGlyphs">100</text> </g> </g> <g id="xtick_27"> <g id="line2d_143"> <g> <use xlink:href="#m9970c9cf34" x="242.160" y="535.68" style="stroke: #000000; stroke-width: 0.5"/> </g> </g> <g id="line2d_144"> <g> <use xlink:href="#ma74727226e" x="242.160" y="317.76" style="stroke: #000000; stroke-width: 0.5"/> </g> </g> <g id="text_58"> <text style="font-size: 8.400px; font-family: 'Liberation Sans', sans-serif; text-anchor: middle" x="242.032" y="546.4" transform="rotate(-0 242.032 546.4)" textLength="14.888" lengthAdjust="spacingAndGlyphs">150</text> </g> </g> <g id="ctr_x3"> <g transform="translate(146.981 561)"> <text> <tspan x="0.414" y="-0.921" style="font-size: 8.400px; font-family: 'Liberation Sans', sans-serif" textLength="5.473" lengthAdjust="spacingAndGlyphs">V</tspan> <tspan x="10.712" y="-0.921" style="font-size: 8.400px; font-family: 'Liberation Sans', sans-serif" textLength="3.121" lengthAdjust="spacingAndGlyphs">(</tspan> <tspan x="13.761" y="-0.921" style="font-size: 8.400px; font-family: 'Liberation Sans', sans-serif" textLength="4.633" lengthAdjust="spacingAndGlyphs">k</tspan> <tspan x="18.287" y="-0.921" style="font-size: 8.400px; font-family: 'Liberation Sans', sans-serif" textLength="7.793" lengthAdjust="spacingAndGlyphs">m</tspan> <tspan x="25.901" y="-0.921" style="font-size: 8.400px; font-family: 'Liberation Sans', sans-serif" textLength="2.695" lengthAdjust="spacingAndGlyphs">/</tspan> <tspan x="28.535" y="-0.921" style="font-size: 8.400px; font-family: 'Liberation Sans', sans-serif" textLength="4.168" lengthAdjust="spacingAndGlyphs">s</tspan> <tspan x="32.607" y="-0.921" style="font-size: 8.400px; font-family: 'Liberation Sans', sans-serif" textLength="3.121" lengthAdjust="spacingAndGlyphs">)</tspan> <tspan x="6.110" y="0.438" style="font-size: 6.272px; font-family: 'Liberation Serif', serif; font-style: italic">A</tspan> </text> </g> </g> </g> <g id="matplotlib.axis_8"> <g id="ytick_24"> <g id="line2d_145"> <g> <use xlink:href="#m15b6ba686d" x="56.16" y="518.640" style="stroke: #000000; stroke-width: 0.5"/> </g> </g> <g id="line2d_146"> <g> <use xlink:href="#m23530d4d53" x="274.08" y="518.640" style="stroke: #000000; stroke-width: 0.5"/> </g> </g> <g id="text_59"> <text style="font-size: 8.400px; font-family: 'Liberation Sans', sans-serif; text-anchor: end" x="52.16" y="520.875" transform="rotate(-0 52.16 520.875)" textLength="16.356" lengthAdjust="spacingAndGlyphs">−50</text> </g> </g> <g id="ytick_25"> <g id="line2d_147"> <g> <use xlink:href="#m15b6ba686d" x="56.16" y="476.400" style="stroke: #000000; stroke-width: 0.5"/> </g> </g> <g id="line2d_148"> <g> <use xlink:href="#m23530d4d53" x="274.08" y="476.400" style="stroke: #000000; stroke-width: 0.5"/> </g> </g> <g id="text_60"> <text style="font-size: 8.400px; font-family: 'Liberation Sans', sans-serif; text-anchor: end" x="52.16" y="478.708" transform="rotate(-0 52.16 478.708)" textLength="4.690" lengthAdjust="spacingAndGlyphs">0</text> </g> </g> <g id="ytick_26"> <g id="line2d_149"> <g> <use xlink:href="#m15b6ba686d" x="56.16" y="434.160" style="stroke: #000000; stroke-width: 0.5"/> </g> </g> <g id="line2d_150"> <g> <use xlink:href="#m23530d4d53" x="274.08" y="434.160" style="stroke: #000000; stroke-width: 0.5"/> </g> </g> <g id="text_61"> <text style="font-size: 8.400px; font-family: 'Liberation Sans', sans-serif; text-anchor: end" x="52.16" y="436.541" transform="rotate(-0 52.16 436.541)" textLength="9.723" lengthAdjust="spacingAndGlyphs">50</text> </g> </g> <g id="ytick_27"> <g id="line2d_151"> <g> <use xlink:href="#m15b6ba686d" x="56.16" y="391.920" style="stroke: #000000; stroke-width: 0.5"/> </g> </g> <g id="line2d_152"> <g> <use xlink:href="#m23530d4d53" x="274.08" y="391.920" style="stroke: #000000; stroke-width: 0.5"/> </g> </g> <g id="text_62"> <text style="font-size: 8.400px; font-family: 'Liberation Sans', sans-serif; text-anchor: end" x="52.16" y="394.374" transform="rotate(-0 52.16 394.374)" textLength="14.888" lengthAdjust="spacingAndGlyphs">100</text> </g> </g> <g id="ytick_28"> <g id="line2d_153"> <g> <use xlink:href="#m15b6ba686d" x="56.16" y="349.680" style="stroke: #000000; stroke-width: 0.5"/> </g> </g> <g id="line2d_154"> <g> <use xlink:href="#m23530d4d53" x="274.08" y="349.680" style="stroke: #000000; stroke-width: 0.5"/> </g> </g> <g id="text_63"> <text style="font-size: 8.400px; font-family: 'Liberation Sans', sans-serif; text-anchor: end" x="52.16" y="352.207" transform="rotate(-0 52.16 352.207)" textLength="14.888" lengthAdjust="spacingAndGlyphs">150</text> </g> </g> <g id="ctr_y3" transform="translate(-0.480 0.480)"> <g transform="translate(27.139 455.883) rotate(-90)"> <text> <tspan x="0.668" y="-0.921" style="font-size: 8.400px; font-family: 'Liberation Sans', sans-serif" textLength="5.473" lengthAdjust="spacingAndGlyphs">V</tspan> <tspan x="32.508" y="-0.921" style="font-size: 8.400px; font-family: 'Liberation Sans', sans-serif" textLength="3.121" lengthAdjust="spacingAndGlyphs">(</tspan> <tspan x="35.558" y="-0.921" style="font-size: 8.400px; font-family: 'Liberation Sans', sans-serif" textLength="4.633" lengthAdjust="spacingAndGlyphs">k</tspan> <tspan x="40.084" y="-0.921" style="font-size: 8.400px; font-family: 'Liberation Sans', sans-serif" textLength="7.793" lengthAdjust="spacingAndGlyphs">m</tspan> <tspan x="47.698" y="-0.921" style="font-size: 8.400px; font-family: 'Liberation Sans', sans-serif" textLength="2.695" lengthAdjust="spacingAndGlyphs">/</tspan> <tspan x="50.331" y="-0.921" style="font-size: 8.400px; font-family: 'Liberation Sans', sans-serif" textLength="4.168" lengthAdjust="spacingAndGlyphs">s</tspan> <tspan x="54.403" y="-0.921" style="font-size: 8.400px; font-family: 'Liberation Sans', sans-serif" textLength="3.121" lengthAdjust="spacingAndGlyphs">)</tspan> <tspan x="6.364" y="0.438" style="font-size: 6.272px; font-family: 'Liberation Serif', serif; font-style: italic">r</tspan> <tspan x="8.832" y="0.438" style="font-size: 6.272px; font-family: 'Liberation Serif', serif; font-style: italic">e</tspan> <tspan x="11.375" y="0.438" style="font-size: 6.272px; font-family: 'Liberation Serif', serif; font-style: italic">m</tspan> <tspan x="16.179" y="0.438" style="font-size: 6.272px; font-family: 'Liberation Serif', serif; font-style: italic">a</tspan> <tspan x="19.067" y="0.438" style="font-size: 6.272px; font-family: 'Liberation Serif', serif; font-style: italic">i</tspan> <tspan x="20.950" y="0.438" style="font-size: 6.272px; font-family: 'Liberation Serif', serif; font-style: italic">n</tspan> <tspan x="24.233" y="0.438" style="font-size: 6.272px; font-family: 'Liberation Serif', serif; font-style: italic">i</tspan> <tspan x="26.117" y="0.438" style="font-size: 6.272px; font-family: 'Liberation Serif', serif; font-style: italic">n</tspan> <tspan x="29.400" y="0.438" style="font-size: 6.272px; font-family: 'Liberation Serif', serif; font-style: italic">g</tspan> </text> </g> </g> </g> <g id="text_64"> <g id="patch_25"> <path d="M 59.590 355.740  L 129.190 355.740  L 129.190 321.324  L 59.590 321.324  z " style="fill: #ffffff; stroke: #000000; stroke-linejoin: miter"/> </g> <text style="font-size: 9.450px; font-family: 'Liberation Sans', sans-serif" transform="translate(61.390 329.754)" textLength="65.638" lengthAdjust="spacingAndGlyphs">slope = -0.372</text> <g transform="translate(61.390 340.314)"> <text> <tspan x="0" y="-0.312" style="font-size: 10.080px; font-family: 'Liberation Serif', serif; font-style: italic">r</tspan> <tspan x="4.060" y="-0.312" style="font-size: 9.450px; font-family: 'Liberation Sans', sans-serif"> </tspan> <tspan x="6.921" y="-0.312" style="font-size: 9.450px; font-family: 'Liberation Sans', sans-serif" textLength="7.541" lengthAdjust="spacingAndGlyphs">=</tspan> <tspan x="14.462" y="-0.312" style="font-size: 9.450px; font-family: 'Liberation Sans', sans-serif"> </tspan> <tspan x="17.323" y="-0.312" style="font-size: 9.450px; font-family: 'Liberation Sans', sans-serif" textLength="3.248" lengthAdjust="spacingAndGlyphs">-</tspan> <tspan x="20.570" y="-0.312" style="font-size: 9.450px; font-family: 'Liberation Sans', sans-serif" textLength="5.726" lengthAdjust="spacingAndGlyphs">0</tspan> <tspan x="26.296" y="-0.312" style="font-size: 9.450px; font-family: 'Liberation Sans', sans-serif" textLength="2.861" lengthAdjust="spacingAndGlyphs">.</tspan> <tspan x="29.157" y="-0.312" style="font-size: 9.450px; font-family: 'Liberation Sans', sans-serif" textLength="5.726" lengthAdjust="spacingAndGlyphs">9</tspan> <tspan x="34.883" y="-0.312" style="font-size: 9.450px; font-family: 'Liberation Sans', sans-serif" textLength="5.726" lengthAdjust="spacingAndGlyphs">9</tspan> <tspan x="40.609" y="-0.312" style="font-size: 9.450px; font-family: 'Liberation Sans', sans-serif" textLength="5.726" lengthAdjust="spacingAndGlyphs">4</tspan> </text> </g> <g transform="translate(61.390 351.450)"> <text> <tspan x="0" y="-0.312" style="font-size: 10.080px; font-family: 'Liberation Serif', serif; font-style: italic">M</tspan> <tspan x="8.731" y="1.218" style="font-size: 7.056px; font-family: 'Liberation Serif', serif; font-style: italic">A</tspan> <tspan x="14.030" y="-0.312" style="font-size: 9.450px; font-family: 'Liberation Sans', sans-serif"> </tspan> <tspan x="16.891" y="-0.312" style="font-size: 9.450px; font-family: 'Liberation Sans', sans-serif" textLength="7.541" lengthAdjust="spacingAndGlyphs">=</tspan> <tspan x="24.432" y="-0.312" style="font-size: 9.450px; font-family: 'Liberation Sans', sans-serif"> </tspan> <tspan x="27.293" y="-0.312" style="font-size: 9.450px; font-family: 'Liberation Sans', sans-serif" textLength="5.726" lengthAdjust="spacingAndGlyphs">0</tspan> <tspan x="33.019" y="-0.312" style="font-size: 9.450px; font-family: 'Liberation Sans', sans-serif" textLength="2.861" lengthAdjust="spacingAndGlyphs">.</tspan> <tspan x="35.880" y="-0.312" style="font-size: 9.450px; font-family: 'Liberation Sans', sans-serif" textLength="5.726" lengthAdjust="spacingAndGlyphs">3</tspan> <tspan x="41.606" y="-0.312" style="font-size: 9.450px; font-family: 'Liberation Sans', sans-serif" textLength="5.726" lengthAdjust="spacingAndGlyphs">7</tspan> <tspan x="47.332" y="-0.312" style="font-size: 9.450px; font-family: 'Liberation Sans', sans-serif" textLength="5.726" lengthAdjust="spacingAndGlyphs">1</tspan> </text> </g> </g> <g id="ctr_t3"> <text style="font-size: 11.760px; font-family: 'Liberation Sans', sans-serif; text-anchor: middle" x="165.12" y="312.76" transform="rotate(-0 165.12 312.76)" textLength="58.500" lengthAdjust="spacingAndGlyphs">WalenTest</text> </g> </g> <g id="axes_5"> <g id="patch_26"> <path d="M 323.04 535.68  L 540.96 535.68  L 540.96 317.76  L 323.04 317.76  z " style="fill: #ffffff"/> </g> <g id="line2d_155"> <path d="M 446.112 412.512  L 441.12 422.112  L 435.984 431.712  L 430.32 464.352  L 404.256 334.848  L 408.48 379.872  L 415.776 426.384  L 394.8 483.504  L 417.792 468.24  L 406.752 444.192  L 417.792 513.648  L 428.16 461.232  L 412.128 463.392  L 460.848 438.912  " clip-path="url(#p4ce715b681)" style="fill: none; stroke: #0000ff; stroke-linecap: square"/> <g clip-path="url(#p4ce715b681)"> <use xlink:href="#m40c38f925a" x="446.112" y="412.512" style="fill: #0000ff; stroke: #0000ff; stroke-width: 0.5"/> <use xlink:href="#m40c38f925a" x="441.12" y="422.112" style="fill: #0000ff; stroke: #0000ff; stroke-width: 0.5"/> <use xlink:href="#m40c38f925a" x="435.984" y="431.712" style="fill: #0000ff; stroke: #0000ff; stroke-width: 0.5"/> <use xlink:href="#m40c38f925a" x="430.32" y="464.352" style="fill: #0000ff; stroke: #0000ff; stroke-width: 0.5"/> <use xlink:href="#m40c38f925a" x="404.256" y="334.848" style="fill: #0000ff; stroke: #0000ff; stroke-width: 0.5"/> <use xlink:href="#m40c38f925a" x="408.48" y="379.872" style="fill: #0000ff; stroke: #0000ff; stroke-width: 0.5"/> <use xlink:href="#m40c38f925a" x="415.776" y="426.384" style="fill: #0000ff; stroke: #0000ff; stroke-width: 0.5"/> <use xlink:href="#m40c38f925a" x="394.8" y="483.504" style="fill: #0000ff; stroke: #0000ff; stroke-width: 0.5"/> <use xlink:href="#m40c38f925a" x="417.792" y="468.24" style="fill: #0000ff; stroke: #0000ff; stroke-width: 0.5"/> <use xlink:href="#m40c38f925a" x="406.752" y="444.192" style="fill: #0000ff; stroke: #0000ff; stroke-width: 0.5"/> <use xlink:href="#m40c38f925a" x="417.792" y="513.648" style="fill: #0000ff; stroke: #0000ff; stroke-width: 0.5"/> <use xlink:href="#m40c38f925a" x="428.16" y="461.232" style="fill: #0000ff; stroke: #0000ff; stroke-width: 0.5"/> <use xlink:href="#m40c38f925a" x="412.128" y="463.392" style="fill: #0000ff; stroke: #0000ff; stroke-width: 0.5"/> <use xlink:href="#m40c38f925a" x="460.848" y="438.912" style="fill: #0000ff; stroke: #0000ff; stroke-width: 0.5"/> </g> </g> <g id="patch_27"> <path d="M 323.04 535.68  L 323.04 317.76  " style="fill: none; stroke: #000000; stroke-linejoin: miter; stroke-linecap: square"/> </g> <g id="patch_28"> <path d="M 540.96 535.68  L 540.96 317.76  " style="fill: none; stroke: #000000; stroke-linejoin: miter; stroke-linecap: square"/> </g> <g id="patch_29"> <path d="M 323.04 535.68  L 540.96 535.68  " style="fill: none; stroke: #000000; stroke-linejoin: miter; stroke-linecap: square"/> </g> <g id="patch_30"> <path d="M 323.04 317.76  L 540.96 317.76  " style="fill: none; stroke: #000000; stroke-linejoin: miter; stroke-linecap: square"/> </g> <g id="matplotlib.axis_9"> <g id="xtick_28"> <g id="line2d_156"> <path d="M 332.400 535.68 L 332.400 317.76 " clip-path="url(#p4ce715b681)" style="fill: none; stroke-dasharray: 1,3; stroke-dashoffset: 0; stroke: #000000; stroke-width: 0.5"/> </g> <g id="line2d_157"> <g> <use xlink:href="#m9970c9cf34" x="332.400" y="535.68" style="stroke: #000000; stroke-width: 0.5"/> </g> </g> <g id="line2d_158"> <g> <use xlink:href="#ma74727226e" x="332.400" y="317.76" style="stroke: #000000; stroke-width: 0.5"/> </g> </g> <g id="text_65"> <text style="font-size: 8.400px; font-family: 'Liberation Sans', sans-serif; text-anchor: middle" x="332.503" y="546.4" transform="rotate(-0 332.503 546.4)" textLength="16.356" lengthAdjust="spacingAndGlyphs">−10</text> </g> </g> <g id="xtick_29"> <g id="line2d_159"> <path d="M 363.600 535.68 L 363.600 317.76 " clip-path="url(#p4ce715b681)" style="fill: none; stroke-dasharray: 1,3; stroke-dashoffset: 0; stroke: #000000; stroke-width: 0.5"/> </g> <g id="line2d_160"> <g> <use xlink:href="#m9970c9cf34" x="363.600" y="535.68" style="stroke: #000000; stroke-width: 0.5"/> </g> </g> <g id="line2d_161"> <g> <use xlink:href="#ma74727226e" x="363.600" y="317.76" style="stroke: #000000; stroke-width: 0.5"/> </g> </g> <g id="text_66"> <text style="font-size: 8.400px; font-family: 'Liberation Sans', sans-serif; text-anchor: middle" x="363.635" y="546.4" transform="rotate(-0 363.635 546.4)" textLength="11.138" lengthAdjust="spacingAndGlyphs">−5</text> </g> </g> <g id="xtick_30"> <g id="line2d_162"> <path d="M 394.800 535.68 L 394.800 317.76 " clip-path="url(#p4ce715b681)" style="fill: none; stroke-dasharray: 1,3; stroke-dashoffset: 0; stroke: #000000; stroke-width: 0.5"/> </g> <g id="line2d_163"> <g> <use xlink:href="#m9970c9cf34" x="394.800" y="535.68" style="stroke: #000000; stroke-width: 0.5"/> </g> </g> <g id="line2d_164"> <g> <use xlink:href="#ma74727226e" x="394.800" y="317.76" style="stroke: #000000; stroke-width: 0.5"/> </g> </g> <g id="text_67"> <text style="font-size: 8.400px; font-family: 'Liberation Sans', sans-serif; text-anchor: middle" x="394.766" y="546.4" transform="rotate(-0 394.766 546.4)" textLength="4.690" lengthAdjust="spacingAndGlyphs">0</text> </g> </g> <g id="xtick_31"> <g id="line2d_165"> <path d="M 426.000 535.68 L 426.000 317.76 " clip-path="url(#p4ce715b681)" style="fill: none; stroke-dasharray: 1,3; stroke-dashoffset: 0; stroke: #000000; stroke-width: 0.5"/> </g> <g id="line2d_166"> <g> <use xlink:href="#m9970c9cf34" x="426.000" y="535.68" style="stroke: #000000; stroke-width: 0.5"/> </g> </g> <g id="line2d_167"> <g> <use xlink:href="#ma74727226e" x="426.000" y="317.76" style="stroke: #000000; stroke-width: 0.5"/> </g> </g> <g id="text_68"> <text style="font-size: 8.400px; font-family: 'Liberation Sans', sans-serif; text-anchor: middle" x="425.898" y="546.4" transform="rotate(-0 425.898 546.4)" textLength="4.426" lengthAdjust="spacingAndGlyphs">5</text> </g> </g> <g id="xtick_32"> <g id="line2d_168"> <path d="M 457.200 535.68 L 457.200 317.76 " clip-path="url(#p4ce715b681)" style="fill: none; stroke-dasharray: 1,3; stroke-dashoffset: 0; stroke: #000000; stroke-width: 0.5"/> </g> <g id="line2d_169"> <g> <use xlink:href="#m9970c9cf34" x="457.200" y="535.68" style="stroke: #000000; stroke-width: 0.5"/> </g> </g> <g id="line2d_170"> <g> <use xlink:href="#ma74727226e" x="457.200" y="317.76" style="stroke: #000000; stroke-width: 0.5"/> </g> </g> <g id="text_69"> <text style="font-size: 8.400px; font-family: 'Liberation Sans', sans-serif; text-anchor: middle" x="457.029" y="546.4" transform="rotate(-0 457.029 546.4)" textLength="9.783" lengthAdjust="spacingAndGlyphs">10</text> </g> </g> <g id="xtick_33"> <g id="line2d_171"> <path d="M 488.400 535.68 L 488.400 317.76 " clip-path="url(#p4ce715b681)" style="fill: none; stroke-dasharray: 1,3; stroke-dashoffset: 0; stroke: #000000; stroke-width: 0.5"/> </g> <g id="line2d_172"> <g> <use xlink:href="#m9970c9cf34" x="488.400" y="535.68" style="stroke: #000000; stroke-width: 0.5"/> </g> </g> <g id="line2d_173"> <g> <use xlink:href="#ma74727226e" x="488.400" y="317.76" style="stroke: #000000; stroke-width: 0.5"/> </g> </g> <g id="text_70"> <text style="font-size: 8.400px; font-family: 'Liberation Sans', sans-serif; text-anchor: middle" x="488.161" y="546.4" transform="rotate(-0 488.161 546.4)" textLength="9.624" lengthAdjust="spacingAndGlyphs">15</text> </g> </g> <g id="xtick_34"> <g id="line2d_174"> <path d="M 519.120 535.68 L 519.120 317.76 " clip-path="url(#p4ce715b681)" style="fill: none; stroke-dasharray: 1,3; stroke-dashoffset: 0; stroke: #000000; stroke-width: 0.5"/> </g> <g id="line2d_175"> <g> <use xlink:href="#m9970c9cf34" x="519.120" y="535.68" style="stroke: #000000; stroke-width: 0.5"/> </g> </g> <g id="line2d_176"> <g> <use xlink:href="#ma74727226e" x="519.120" y="317.76" style="stroke: #000000; stroke-width: 0.5"/> </g> </g> <g id="text_71"> <text style="font-size: 8.400px; font-family: 'Liberation Sans', sans-serif; text-anchor: middle" x="519.292" y="546.4" transform="rotate(-0 519.292 546.4)" textLength="9.854" lengthAdjust="spacingAndGlyphs">20</text> </g> </g> <g id="ctr_x4"> <text style="font-size: 8.400px; font-family: 'Liberation Sans', sans-serif; text-anchor: middle" x="432" y="560.04" transform="rotate(-0 432 560.04)" textLength="35.940" lengthAdjust="spacingAndGlyphs">V2(km/s)</text> </g> </g> <g id="matplotlib.axis_10"> <g id="ytick_29"> <g id="line2d_177"> <path d="M 323.04 535.920 L 540.96 535.920 " clip-path="url(#p4ce715b681)" style="fill: none; stroke-dasharray: 1,3; stroke-dashoffset: 0; stroke: #000000; stroke-width: 0.5"/> </g> <g id="line2d_178"> <g> <use xlink:href="#m15b6ba686d" x="323.04" y="535.920" style="stroke: #000000; stroke-width: 0.5"/> </g> </g> <g id="line2d_179"> <g> <use xlink:href="#m23530d4d53" x="540.96" y="535.920" style="stroke: #000000; stroke-width: 0.5"/> </g> </g> <g id="text_72"> <text style="font-size: 8.400px; font-family: 'Liberation Sans', sans-serif; text-anchor: end" x="319.04" y="538.08" transform="rotate(-0 319.04 538.08)" textLength="11.138" lengthAdjust="spacingAndGlyphs">−5</text> </g> </g> <g id="ytick_30"> <g id="line2d_180"> <path d="M 323.04 504.720 L 540.96 504.720 " clip-path="url(#p4ce715b681)" style="fill: none; stroke-dasharray: 1,3; stroke-dashoffset: 0; stroke: #000000; stroke-width: 0.5"/> </g> <g id="line2d_181"> <g> <use xlink:href="#m15b6ba686d" x="323.04" y="504.720" style="stroke: #000000; stroke-width: 0.5"/> </g> </g> <g id="line2d_182"> <g> <use xlink:href="#m23530d4d53" x="540.96" y="504.720" style="stroke: #000000; stroke-width: 0.5"/> </g> </g> <g id="text_73"> <text style="font-size: 8.400px; font-family: 'Liberation Sans', sans-serif; text-anchor: end" x="319.04" y="506.948" transform="rotate(-0 319.04 506.948)" textLength="4.690" lengthAdjust="spacingAndGlyphs">0</text> </g> </g> <g id="ytick_31"> <g id="line2d_183"> <path d="M 323.04 473.520 L 540.96 473.520 " clip-path="url(#p4ce715b681)" style="fill: none; stroke-dasharray: 1,3; stroke-dashoffset: 0; stroke: #000000; stroke-width: 0.5"/> </g> <g id="line2d_184"> <g> <use xlink:href="#m15b6ba686d" x="323.04" y="473.520" style="stroke: #000000; stroke-width: 0.5"/> </g> </g> <g id="line2d_185"> <g> <use xlink:href="#m23530d4d53" x="540.96" y="473.520" style="stroke: #000000; stroke-width: 0.5"/> </g> </g> <g id="text_74"> <text style="font-size: 8.400px; font-family: 'Liberation Sans', sans-serif; text-anchor: end" x="319.04" y="475.817" transform="rotate(-0 319.04 475.817)" textLength="4.426" lengthAdjust="spacingAndGlyphs">5</text> </g> </g> <g id="ytick_32"> <g id="line2d_186"> <path d="M 323.04 442.320 L 540.96 442.320 " clip-path="url(#p4ce715b681)" style="fill: none; stroke-dasharray: 1,3; stroke-dashoffset: 0; stroke: #000000; stroke-width: 0.5"/> </g> <g id="line2d_187"> <g> <use xlink:href="#m15b6ba686d" x="323.04" y="442.320" style="stroke: #000000; stroke-width: 0.5"/> </g> </g> <g id="line2d_188"> <g> <use xlink:href="#m23530d4d53" x="540.96" y="442.320" style="stroke: #000000; stroke-width: 0.5"/> </g> </g> <g id="text_75"> <text style="font-size: 8.400px; font-family: 'Liberation Sans', sans-serif; text-anchor: end" x="319.04" y="444.685" transform="rotate(-0 319.04 444.685)" textLength="9.783" lengthAdjust="spacingAndGlyphs">10</text> </g> </g> <g id="ytick_33"> <g id="line2d_189"> <path d="M 323.04 411.120 L 540.96 411.120 " clip-path="url(#p4ce715b681)" style="fill: none; stroke-dasharray: 1,3; stroke-dashoffset: 0; stroke: #000000; stroke-width: 0.5"/> </g> <g id="line2d_190"> <g> <use xlink:href="#m15b6ba686d" x="323.04" y="411.120" style="stroke: #000000; stroke-width: 0.5"/> </g> </g> <g id="line2d_191"> <g> <use xlink:href="#m23530d4d53" x="540.96" y="411.120" style="stroke: #000000; stroke-width: 0.5"/> </g> </g> <g id="text_76"> <text style="font-size: 8.400px; font-family: 'Liberation Sans', sans-serif; text-anchor: end" x="319.04" y="413.554" transform="rotate(-0 319.04 413.554)" textLength="9.624" lengthAdjust="spacingAndGlyphs">15</text> </g> </g> <g id="ytick_34"> <g id="line2d_192"> <path d="M 323.04 379.920 L 540.96 379.920 " clip-path="url(#p4ce715b681)" style="fill: none; stroke-dasharray: 1,3; stroke-dashoffset: 0; stroke: #000000; stroke-width: 0.5"/> </g> <g id="line2d_193"> <g> <use xlink:href="#m15b6ba686d" x="323.04" y="379.920" style="stroke: #000000; stroke-width: 0.5"/> </g> </g> <g id="line2d_194"> <g> <use xlink:href="#m23530d4d53" x="540.96" y="379.920" style="stroke: #000000; stroke-width: 0.5"/> </g> </g> <g id="text_77"> <text style="font-size: 8.400px; font-family: 'Liberation Sans', sans-serif; text-anchor: end" x="319.04" y="382.422" transform="rotate(-0 319.04 382.422)" textLength="9.854" lengthAdjust="spacingAndGlyphs">20</text> </g> </g> <g id="ytick_35"> <g id="line2d_195"> <path d="M 323.04 348.720 L 540.96 348.720 " clip-path="url(#p4ce715b681)" style="fill: none; stroke-dasharray: 1,3; stroke-dashoffset: 0; stroke: #000000; stroke-width: 0.5"/> </g> <g id="line2d_196"> <g> <use xlink:href="#m15b6ba686d" x="323.04" y="348.720" style="stroke: #000000; stroke-width: 0.5"/> </g> </g> <g id="line2d_197"> <g> <use xlink:href="#m23530d4d53" x="540.96" y="348.720" style="stroke: #000000; stroke-width: 0.5"/> </g> </g> <g id="text_78"> <text style="font-size: 8.400px; font-family: 'Liberation Sans', sans-serif; text-anchor: end" x="319.04" y="351.291" transform="rotate(-0 319.04 351.291)" textLength="9.699" lengthAdjust="spacingAndGlyphs">25</text> </g> </g> <g id="ytick_36"> <g id="line2d_198"> <path d="M 323.04 318.000 L 540.96 318.000 " clip-path="url(#p4ce715b681)" style="fill: none; stroke-dasharray: 1,3; stroke-dashoffset: 0; stroke: #000000; stroke-width: 0.5"/> </g> <g id="line2d_199"> <g> <use xlink:href="#m15b6ba686d" x="323.04" y="318.000" style="stroke: #000000; stroke-width: 0.5"/> </g> </g> <g id="line2d_200"> <g> <use xlink:href="#m23530d4d53" x="540.96" y="318.000" style="stroke: #000000; stroke-width: 0.5"/> </g> </g> <g id="text_79"> <text style="font-size: 8.400px; font-family: 'Liberation Sans', sans-serif; text-anchor: end" x="319.04" y="320.16" transform="rotate(-0 319.04 320.16)" textLength="9.713" lengthAdjust="spacingAndGlyphs">30</text> </g> </g> <g id="ctr_y4" transform="translate(-0.480 0.480)"> <text style="font-size: 8.400px; font-family: 'Liberation Sans', sans-serif; text-anchor: middle" x="300.42" y="426.72" transform="rotate(-90 300.42 426.72)" textLength="35.940" lengthAdjust="spacingAndGlyphs">V1(km/s)</text> </g> </g> <g id="text_80"> <g transform="translate(329.577 525.742)"> <text> <tspan x="0" y="-0.25" style="font-size: 10.080px; font-family: 'Liberation Serif', serif; font-style: italic">λ</tspan> <tspan x="8.971" y="-0.25" style="font-size: 10.080px; font-family: 'Liberation Serif', serif">/</tspan> <tspan x="13.471" y="-0.25" style="font-size: 10.080px; font-family: 'Liberation Serif', serif; font-style: italic">λ</tspan> <tspan x="5.247" y="1.280" style="font-size: 7.056px; font-family: 'Liberation Serif', serif">1</tspan> <tspan x="18.718" y="1.280" style="font-size: 7.056px; font-family: 'Liberation Serif', serif">2</tspan> <tspan x="24.022" y="-0.25" style="font-size: 10.080px; font-family: 'Liberation Serif', serif">≈</tspan> <tspan x="32.594" y="-0.25" style="font-size: 9.450px; font-family: 'Liberation Sans', sans-serif" textLength="5.726" lengthAdjust="spacingAndGlyphs">5</tspan> <tspan x="38.320" y="-0.25" style="font-size: 9.450px; font-family: 'Liberation Sans', sans-serif" textLength="2.861" lengthAdjust="spacingAndGlyphs">.</tspan> <tspan x="40.931" y="-0.25" style="font-size: 9.450px; font-family: 'Liberation Sans', sans-serif" textLength="5.726" lengthAdjust="spacingAndGlyphs">8</tspan> <tspan x="46.657" y="-0.25" style="font-size: 9.450px; font-family: 'Liberation Sans', sans-serif" textLength="5.726" lengthAdjust="spacingAndGlyphs">6</tspan> </text> </g> </g> <g id="ctr_t4"> <g transform="translate(323.768 312.76)"> <text> <tspan x="2.505" y="-0.640" style="font-size: 11.760px; font-family: 'Liberation Sans', sans-serif" textLength="8.422" lengthAdjust="spacingAndGlyphs">H</tspan> <tspan x="10.770" y="-0.640" style="font-size: 11.760px; font-family: 'Liberation Sans', sans-serif" textLength="6.852" lengthAdjust="spacingAndGlyphs">o</tspan> <tspan x="17.495" y="-0.640" style="font-size: 11.760px; font-family: 'Liberation Sans', sans-serif" textLength="7.109" lengthAdjust="spacingAndGlyphs">d</tspan> <tspan x="24.472" y="-0.640" style="font-size: 11.760px; font-family: 'Liberation Sans', sans-serif" textLength="6.852" lengthAdjust="spacingAndGlyphs">o</tspan> <tspan x="31.196" y="-0.640" style="font-size: 11.760px; font-family: 'Liberation Sans', sans-serif" textLength="7.109" lengthAdjust="spacingAndGlyphs">g</tspan> <tspan x="38.173" y="-0.640" style="font-size: 11.760px; font-family: 'Liberation Sans', sans-serif" textLength="4.605" lengthAdjust="spacingAndGlyphs">r</tspan> <tspan x="42.692" y="-0.640" style="font-size: 11.760px; font-family: 'Liberation Sans', sans-serif" textLength="6.863" lengthAdjust="spacingAndGlyphs">a</tspan> <tspan x="49.427" y="-0.640" style="font-size: 11.760px; font-family: 'Liberation Sans', sans-serif" textLength="10.910" lengthAdjust="spacingAndGlyphs">m</tspan> <tspan x="60.134" y="-0.640" style="font-size: 11.760px; font-family: 'Liberation Sans', sans-serif"> </tspan> <tspan x="63.628" y="-0.640" style="font-size: 11.760px; font-family: 'Liberation Sans', sans-serif" textLength="4.370" lengthAdjust="spacingAndGlyphs">(</tspan> <tspan x="67.916" y="-0.640" style="font-size: 11.760px; font-family: 'Liberation Sans', sans-serif" textLength="7.662" lengthAdjust="spacingAndGlyphs">V</tspan> <tspan x="75.435" y="-0.640" style="font-size: 11.760px; font-family: 'Liberation Sans', sans-serif" textLength="7.126" lengthAdjust="spacingAndGlyphs">2</tspan> <tspan x="82.428" y="-0.640" style="font-size: 11.760px; font-family: 'Liberation Sans', sans-serif" textLength="5.600" lengthAdjust="spacingAndGlyphs">_</tspan> <tspan x="87.924" y="-0.640" style="font-size: 11.760px; font-family: 'Liberation Sans', sans-serif" textLength="7.662" lengthAdjust="spacingAndGlyphs">V</tspan> <tspan x="95.442" y="-0.640" style="font-size: 11.760px; font-family: 'Liberation Sans', sans-serif" textLength="7.126" lengthAdjust="spacingAndGlyphs">1</tspan> <tspan x="102.435" y="-0.640" style="font-size: 11.760px; font-family: 'Liberation Sans', sans-serif"> </tspan> <tspan x="105.929" y="-0.640" style="font-size: 11.760px; font-family: 'Liberation Sans', sans-serif" textLength="9.663" lengthAdjust="spacingAndGlyphs">M</tspan> <tspan x="115.412" y="-0.640" style="font-size: 11.760px; font-family: 'Liberation Sans', sans-serif" textLength="7.662" lengthAdjust="spacingAndGlyphs">V</tspan> <tspan x="122.931" y="-0.640" style="font-size: 11.760px; font-family: 'Liberation Sans', sans-serif" textLength="7.662" lengthAdjust="spacingAndGlyphs">A</tspan> <tspan x="130.450" y="-0.640" style="font-size: 11.760px; font-family: 'Liberation Sans', sans-serif" textLength="7.662" lengthAdjust="spacingAndGlyphs">V</tspan> <tspan x="175.020" y="-0.640" style="font-size: 11.760px; font-family: 'Liberation Sans', sans-serif"> </tspan> <tspan x="178.514" y="-0.640" style="font-size: 11.760px; font-family: 'Liberation Sans', sans-serif" textLength="3.943" lengthAdjust="spacingAndGlyphs">f</tspan> <tspan x="182.383" y="-0.640" style="font-size: 11.760px; font-family: 'Liberation Sans', sans-serif" textLength="4.605" lengthAdjust="spacingAndGlyphs">r</tspan> <tspan x="186.902" y="-0.640" style="font-size: 11.760px; font-family: 'Liberation Sans', sans-serif" textLength="6.863" lengthAdjust="spacingAndGlyphs">a</tspan> <tspan x="193.638" y="-0.640" style="font-size: 11.760px; font-family: 'Liberation Sans', sans-serif" textLength="10.910" lengthAdjust="spacingAndGlyphs">m</tspan> <tspan x="204.344" y="-0.640" style="font-size: 11.760px; font-family: 'Liberation Sans', sans-serif" textLength="6.891" lengthAdjust="spacingAndGlyphs">e</tspan> <tspan x="211.107" y="-0.640" style="font-size: 11.760px; font-family: 'Liberation Sans', sans-serif" textLength="4.370" lengthAdjust="spacingAndGlyphs">)</tspan> <tspan x="138.458" y="1.264" style="font-size: 8.781px; font-family: 'Liberation Serif', serif; font-style: italic">r</tspan> <tspan x="141.910" y="1.264" style="font-size: 8.781px; font-family: 'Liberation Serif', serif; font-style: italic">e</tspan> <tspan x="145.466" y="1.264" style="font-size: 8.781px; font-family: 'Liberation Serif', serif; font-style: italic">m</tspan> <tspan x="152.183" y="1.264" style="font-size: 8.781px; font-family: 'Liberation Serif', serif; font-style: italic">a</tspan> <tspan x="156.222" y="1.264" style="font-size: 8.781px; font-family: 'Liberation Serif', serif; font-style: italic">i</tspan> <tspan x="158.856" y="1.264" style="font-size: 8.781px; font-family: 'Liberation Serif', serif; font-style: italic">n</tspan> <tspan x="163.447" y="1.264" style="font-size: 8.781px; font-family: 'Liberation Serif', serif; font-style: italic">i</tspan> <tspan x="166.081" y="1.264" style="font-size: 8.781px; font-family: 'Liberation Serif', serif; font-style: italic">n</tspan> <tspan x="170.672" y="1.264" style="font-size: 8.781px; font-family: 'Liberation Serif', serif; font-style: italic">g</tspan> </text> </g> </g> </g> <g id="axes_6"> <g id="patch_31"> <path d="M 589.92 535.68  L 807.84 535.68  L 807.84 317.76  L 589.92 317.76  z " style="fill: #ffffff"/> </g> <g id="line2d_201"> <path d="M 694.464 412.512  L 695.184 422.112  L 696.72 431.712  L 690.384 464.352  L 692.928 334.848  L 700.56 379.872  L 701.088 426.384  L 697.2 483.504  L 690.864 468.24  L 695.28 444.192  L 697.248 513.648  L 690.48 461.232  L 705.792 463.392  L 702.96 438.912  " clip-path="url(#p0212bf2375)" style="fill: none; stroke: #0000ff; stroke-linecap: square"/> <g clip-path="url(#p0212bf2375)"> <use xlink:href="#m40c38f925a" x="694.464" y="412.512" style="fill: #0000ff; stroke: #0000ff; stroke-width: 0.5"/> <use xlink:href="#m40c38f925a" x="695.184" y="422.112" style="fill: #0000ff; stroke: #0000ff; stroke-width: 0.5"/> <use xlink:href="#m40c38f925a" x="696.72" y="431.712" style="fill: #0000ff; stroke: #0000ff; stroke-width: 0.5"/> <use xlink:href="#m40c38f925a" x="690.384" y="464.352" style="fill: #0000ff; stroke: #0000ff; stroke-width: 0.5"/> <use xlink:href="#m40c38f925a" x="692.928" y="334.848" style="fill: #0000ff; stroke: #0000ff; stroke-width: 0.5"/> <use xlink:href="#m40c38f925a" x="700.56" y="379.872" style="fill: #0000ff; stroke: #0000ff; stroke-width: 0.5"/> <use xlink:href="#m40c38f925a" x="701.088" y="426.384" style="fill: #0000ff; stroke: #0000ff; stroke-width: 0.5"/> <use xlink:href="#m40c38f925a" x="697.2" y="483.504" style="fill: #0000ff; stroke: #0000ff; stroke-width: 0.5"/> <use xlink:href="#m40c38f925a" x="690.864" y="468.24" style="fill: #0000ff; stroke: #0000ff; stroke-width: 0.5"/> <use xlink:href="#m40c38f925a" x="695.28" y="444.192" style="fill: #0000ff; stroke: #0000ff; stroke-width: 0.5"/> <use xlink:href="#m40c38f925a" x="697.248" y="513.648" style="fill: #0000ff; stroke: #0000ff; stroke-width: 0.5"/> <use xlink:href="#m40c38f925a" x="690.48" y="461.232" style="fill: #0000ff; stroke: #0000ff; stroke-width: 0.5"/> <use xlink:href="#m40c38f925a" x="705.792" y="463.392" style="fill: #0000ff; stroke: #0000ff; stroke-width: 0.5"/> <use xlink:href="#m40c38f925a" x="702.96" y="438.912" style="fill: #0000ff; stroke: #0000ff; stroke-width: 0.5"/> </g> </g> <g id="patch_32"> <path d="M 589.92 535.68  L 589.92 317.76  " style="fill: none; stroke: #000000; stroke-linejoin: miter; stroke-linecap: square"/> </g> <g id="patch_33"> <path d="M 807.84 535.68  L 807.84 317.76  " style="fill: none; stroke: #000000; stroke-linejoin: miter; stroke-linecap: square"/> </g> <g id="patch_34"> <path d="M 589.92 535.68  L 807.84 535.68  " style="fill: none; stroke: #000000; stroke-linejoin: miter; stroke-linecap: square"/> </g> <g id="patch_35"> <path d="M 589.92 317.76  L 807.84 317.76  " style="fill: none; stroke: #000000; stroke-linejoin: miter; stroke-linecap: square"/> </g> <g id="matplotlib.axis_11"> <g id="xtick_35"> <g id="line2d_202"> <path d="M 590.160 535.68 L 590.160 317.76 " clip-path="url(#p0212bf2375)" style="fill: none; stroke-dasharray: 1,3; stroke-dashoffset: 0; stroke: #000000; stroke-width: 0.5"/> </g> <g id="line2d_203"> <g> <use xlink:href="#m9970c9cf34" x="590.160" y="535.68" style="stroke: #000000; stroke-width: 0.5"/> </g> </g> <g id="line2d_204"> <g> <use xlink:href="#ma74727226e" x="590.160" y="317.76" style="stroke: #000000; stroke-width: 0.5"/> </g> </g> <g id="text_81"> <text style="font-size: 8.400px; font-family: 'Liberation Sans', sans-serif; text-anchor: middle" x="589.92" y="546.4" transform="rotate(-0 589.92 546.4)" textLength="9.723" lengthAdjust="spacingAndGlyphs">50</text> </g> </g> <g id="xtick_36"> <g id="line2d_205"> <path d="M 620.880 535.68 L 620.880 317.76 " clip-path="url(#p0212bf2375)" style="fill: none; stroke-dasharray: 1,3; stroke-dashoffset: 0; stroke: #000000; stroke-width: 0.5"/> </g> <g id="line2d_206"> <g> <use xlink:href="#m9970c9cf34" x="620.880" y="535.68" style="stroke: #000000; stroke-width: 0.5"/> </g> </g> <g id="line2d_207"> <g> <use xlink:href="#ma74727226e" x="620.880" y="317.76" style="stroke: #000000; stroke-width: 0.5"/> </g> </g> <g id="text_82"> <text style="font-size: 8.400px; font-family: 'Liberation Sans', sans-serif; text-anchor: middle" x="621.051" y="546.4" transform="rotate(-0 621.051 546.4)" textLength="9.569" lengthAdjust="spacingAndGlyphs">55</text> </g> </g> <g id="xtick_37"> <g id="line2d_208"> <path d="M 652.080 535.68 L 652.080 317.76 " clip-path="url(#p0212bf2375)" style="fill: none; stroke-dasharray: 1,3; stroke-dashoffset: 0; stroke: #000000; stroke-width: 0.5"/> </g> <g id="line2d_209"> <g> <use xlink:href="#m9970c9cf34" x="652.080" y="535.68" style="stroke: #000000; stroke-width: 0.5"/> </g> </g> <g id="line2d_210"> <g> <use xlink:href="#ma74727226e" x="652.080" y="317.76" style="stroke: #000000; stroke-width: 0.5"/> </g> </g> <g id="text_83"> <text style="font-size: 8.400px; font-family: 'Liberation Sans', sans-serif; text-anchor: middle" x="652.182" y="546.4" transform="rotate(-0 652.182 546.4)" textLength="9.889" lengthAdjust="spacingAndGlyphs">60</text> </g> </g> <g id="xtick_38"> <g id="line2d_211"> <path d="M 683.280 535.68 L 683.280 317.76 " clip-path="url(#p0212bf2375)" style="fill: none; stroke-dasharray: 1,3; stroke-dashoffset: 0; stroke: #000000; stroke-width: 0.5"/> </g> <g id="line2d_212"> <g> <use xlink:href="#m9970c9cf34" x="683.280" y="535.68" style="stroke: #000000; stroke-width: 0.5"/> </g> </g> <g id="line2d_213"> <g> <use xlink:href="#ma74727226e" x="683.280" y="317.76" style="stroke: #000000; stroke-width: 0.5"/> </g> </g> <g id="text_84"> <text style="font-size: 8.400px; font-family: 'Liberation Sans', sans-serif; text-anchor: middle" x="683.314" y="546.4" transform="rotate(-0 683.314 546.4)" textLength="9.734" lengthAdjust="spacingAndGlyphs">65</text> </g> </g> <g id="xtick_39"> <g id="line2d_214"> <path d="M 714.480 535.68 L 714.480 317.76 " clip-path="url(#p0212bf2375)" style="fill: none; stroke-dasharray: 1,3; stroke-dashoffset: 0; stroke: #000000; stroke-width: 0.5"/> </g> <g id="line2d_215"> <g> <use xlink:href="#m9970c9cf34" x="714.480" y="535.68" style="stroke: #000000; stroke-width: 0.5"/> </g> </g> <g id="line2d_216"> <g> <use xlink:href="#ma74727226e" x="714.480" y="317.76" style="stroke: #000000; stroke-width: 0.5"/> </g> </g> <g id="text_85"> <text style="font-size: 8.400px; font-family: 'Liberation Sans', sans-serif; text-anchor: middle" x="714.445" y="546.4" transform="rotate(-0 714.445 546.4)" textLength="9.787" lengthAdjust="spacingAndGlyphs">70</text> </g> </g> <g id="xtick_40"> <g id="line2d_217"> <path d="M 745.680 535.68 L 745.680 317.76 " clip-path="url(#p0212bf2375)" style="fill: none; stroke-dasharray: 1,3; stroke-dashoffset: 0; stroke: #000000; stroke-width: 0.5"/> </g> <g id="line2d_218"> <g> <use xlink:href="#m9970c9cf34" x="745.680" y="535.68" style="stroke: #000000; stroke-width: 0.5"/> </g> </g> <g id="line2d_219"> <g> <use xlink:href="#ma74727226e" x="745.680" y="317.76" style="stroke: #000000; stroke-width: 0.5"/> </g> </g> <g id="text_86"> <text style="font-size: 8.400px; font-family: 'Liberation Sans', sans-serif; text-anchor: middle" x="745.577" y="546.4" transform="rotate(-0 745.577 546.4)" textLength="9.632" lengthAdjust="spacingAndGlyphs">75</text> </g> </g> <g id="xtick_41"> <g id="line2d_220"> <path d="M 776.880 535.68 L 776.880 317.76 " clip-path="url(#p0212bf2375)" style="fill: none; stroke-dasharray: 1,3; stroke-dashoffset: 0; stroke: #000000; stroke-width: 0.5"/> </g> <g id="line2d_221"> <g> <use xlink:href="#m9970c9cf34" x="776.880" y="535.68" style="stroke: #000000; stroke-width: 0.5"/> </g> </g> <g id="line2d_222"> <g> <use xlink:href="#ma74727226e" x="776.880" y="317.76" style="stroke: #000000; stroke-width: 0.5"/> </g> </g> <g id="text_87"> <text style="font-size: 8.400px; font-family: 'Liberation Sans', sans-serif; text-anchor: middle" x="776.708" y="546.4" transform="rotate(-0 776.708 546.4)" textLength="9.835" lengthAdjust="spacingAndGlyphs">80</text> </g> </g> <g id="xtick_42"> <g id="line2d_223"> <path d="M 808.080 535.68 L 808.080 317.76 " clip-path="url(#p0212bf2375)" style="fill: none; stroke-dasharray: 1,3; stroke-dashoffset: 0; stroke: #000000; stroke-width: 0.5"/> </g> <g id="line2d_224"> <g> <use xlink:href="#m9970c9cf34" x="808.080" y="535.68" style="stroke: #000000; stroke-width: 0.5"/> </g> </g> <g id="line2d_225"> <g> <use xlink:href="#ma74727226e" x="808.080" y="317.76" style="stroke: #000000; stroke-width: 0.5"/> </g> </g> <g id="text_88"> <text style="font-size: 8.400px; font-family: 'Liberation Sans', sans-serif; text-anchor: middle" x="807.84" y="546.4" transform="rotate(-0 807.84 546.4)" textLength="9.681" lengthAdjust="spacingAndGlyphs">85</text> </g> </g> <g id="ctr_x5"> <text style="font-size: 8.400px; font-family: 'Liberation Sans', sans-serif; text-anchor: middle" x="698.88" y="560.04" transform="rotate(-0 698.88 560.04)" textLength="35.940" lengthAdjust="spacingAndGlyphs">V3(km/s)</text> </g> </g> <g id="matplotlib.axis_12"> <g id="ytick_37"> <g id="line2d_226"> <path d="M 589.92 535.920 L 807.84 535.920 " clip-path="url(#p0212bf2375)" style="fill: none; stroke-dasharray: 1,3; stroke-dashoffset: 0; stroke: #000000; stroke-width: 0.5"/> </g> <g id="line2d_227"> <g> <use xlink:href="#m15b6ba686d" x="589.92" y="535.920" style="stroke: #000000; stroke-width: 0.5"/> </g> </g> <g id="line2d_228"> <g> <use xlink:href="#m23530d4d53" x="807.84" y="535.920" style="stroke: #000000; stroke-width: 0.5"/> </g> </g> <g id="text_89"> <text style="font-size: 8.400px; font-family: 'Liberation Sans', sans-serif; text-anchor: end" x="585.92" y="538.08" transform="rotate(-0 585.92 538.08)" textLength="11.138" lengthAdjust="spacingAndGlyphs">−5</text> </g> </g> <g id="ytick_38"> <g id="line2d_229"> <path d="M 589.92 504.720 L 807.84 504.720 " clip-path="url(#p0212bf2375)" style="fill: none; stroke-dasharray: 1,3; stroke-dashoffset: 0; stroke: #000000; stroke-width: 0.5"/> </g> <g id="line2d_230"> <g> <use xlink:href="#m15b6ba686d" x="589.92" y="504.720" style="stroke: #000000; stroke-width: 0.5"/> </g> </g> <g id="line2d_231"> <g> <use xlink:href="#m23530d4d53" x="807.84" y="504.720" style="stroke: #000000; stroke-width: 0.5"/> </g> </g> <g id="text_90"> <text style="font-size: 8.400px; font-family: 'Liberation Sans', sans-serif; text-anchor: end" x="585.92" y="506.948" transform="rotate(-0 585.92 506.948)" textLength="4.690" lengthAdjust="spacingAndGlyphs">0</text> </g> </g> <g id="ytick_39"> <g id="line2d_232"> <path d="M 589.92 473.520 L 807.84 473.520 " clip-path="url(#p0212bf2375)" style="fill: none; stroke-dasharray: 1,3; stroke-dashoffset: 0; stroke: #000000; stroke-width: 0.5"/> </g> <g id="line2d_233"> <g> <use xlink:href="#m15b6ba686d" x="589.92" y="473.520" style="stroke: #000000; stroke-width: 0.5"/> </g> </g> <g id="line2d_234"> <g> <use xlink:href="#m23530d4d53" x="807.84" y="473.520" style="stroke: #000000; stroke-width: 0.5"/> </g> </g> <g id="text_91"> <text style="font-size: 8.400px; font-family: 'Liberation Sans', sans-serif; text-anchor: end" x="585.92" y="475.817" transform="rotate(-0 585.92 475.817)" textLength="4.426" lengthAdjust="spacingAndGlyphs">5</text> </g> </g> <g id="ytick_40"> <g id="line2d_235"> <path d="M 589.92 442.320 L 807.84 442.320 " clip-path="url(#p0212bf2375)" style="fill: none; stroke-dasharray: 1,3; stroke-dashoffset: 0; stroke: #000000; stroke-width: 0.5"/> </g> <g id="line2d_236"> <g> <use xlink:href="#m15b6ba686d" x="589.92" y="442.320" style="stroke: #000000; stroke-width: 0.5"/> </g> </g> <g id="line2d_237"> <g> <use xlink:href="#m23530d4d53" x="807.84" y="442.320" style="stroke: #000000; stroke-width: 0.5"/> </g> </g> <g id="text_92"> <text style="font-size: 8.400px; font-family: 'Liberation Sans', sans-serif; text-anchor: end" x="585.92" y="444.685" transform="rotate(-0 585.92 444.685)" textLength="9.783" lengthAdjust="spacingAndGlyphs">10</text> </g> </g> <g id="ytick_41"> <g id="line2d_238"> <path d="M 589.92 411.120 L 807.84 411.120 " clip-path="url(#p0212bf2375)" style="fill: none; stroke-dasharray: 1,3; stroke-dashoffset: 0; stroke: #000000; stroke-width: 0.5"/> </g> <g id="line2d_239"> <g> <use xlink:href="#m15b6ba686d" x="589.92" y="411.120" style="stroke: #000000; stroke-width: 0.5"/> </g> </g> <g id="line2d_240"> <g> <use xlink:href="#m23530d4d53" x="807.84" y="411.120" style="stroke: #000000; stroke-width: 0.5"/> </g> </g> <g id="text_93"> <text style="font-size: 8.400px; font-family: 'Liberation Sans', sans-serif; text-anchor: end" x="585.92" y="413.554" transform="rotate(-0 585.92 413.554)" textLength="9.624" lengthAdjust="spacingAndGlyphs">15</text> </g> </g> <g id="ytick_42"> <g id="line2d_241"> <path d="M 589.92 379.920 L 807.84 379.920 " clip-path="url(#p0212bf2375)" style="fill: none; stroke-dasharray: 1,3; stroke-dashoffset: 0; stroke: #000000; stroke-width: 0.5"/> </g> <g id="line2d_242"> <g> <use xlink:href="#m15b6ba686d" x="589.92" y="379.920" style="stroke: #000000; stroke-width: 0.5"/> </g> </g> <g id="line2d_243"> <g> <use xlink:href="#m23530d4d53" x="807.84" y="379.920" style="stroke: #000000; stroke-width: 0.5"/> </g> </g> <g id="text_94"> <text style="font-size: 8.400px; font-family: 'Liberation Sans', sans-serif; text-anchor: end" x="585.92" y="382.422" transform="rotate(-0 585.92 382.422)" textLength="9.854" lengthAdjust="spacingAndGlyphs">20</text> </g> </g> <g id="ytick_43"> <g id="line2d_244"> <path d="M 589.92 348.720 L 807.84 348.720 " clip-path="url(#p0212bf2375)" style="fill: none; stroke-dasharray: 1,3; stroke-dashoffset: 0; stroke: #000000; stroke-width: 0.5"/> </g> <g id="line2d_245"> <g> <use xlink:href="#m15b6ba686d" x="589.92" y="348.720" style="stroke: #000000; stroke-width: 0.5"/> </g> </g> <g id="line2d_246"> <g> <use xlink:href="#m23530d4d53" x="807.84" y="348.720" style="stroke: #000000; stroke-width: 0.5"/> </g> </g> <g id="text_95"> <text style="font-size: 8.400px; font-family: 'Liberation Sans', sans-serif; text-anchor: end" x="585.92" y="351.291" transform="rotate(-0 585.92 351.291)" textLength="9.699" lengthAdjust="spacingAndGlyphs">25</text> </g> </g> <g id="ytick_44"> <g id="line2d_247"> <path d="M 589.92 318.000 L 807.84 318.000 " clip-path="url(#p0212bf2375)" style="fill: none; stroke-dasharray: 1,3; stroke-dashoffset: 0; stroke: #000000; stroke-width: 0.5"/> </g> <g id="line2d_248"> <g> <use xlink:href="#m15b6ba686d" x="589.92" y="318.000" style="stroke: #000000; stroke-width: 0.5"/> </g> </g> <g id="line2d_249"> <g> <use xlink:href="#m23530d4d53" x="807.84" y="318.000" style="stroke: #000000; stroke-width: 0.5"/> </g> </g> <g id="text_96"> <text style="font-size: 8.400px; font-family: 'Liberation Sans', sans-serif; text-anchor: end" x="585.92" y="320.16" transform="rotate(-0 585.92 320.16)" textLength="9.713" lengthAdjust="spacingAndGlyphs">30</text> </g> </g> <g id="ctr_y5" transform="translate(-0.480 0.480)"> <text style="font-size: 8.400px; font-family: 'Liberation Sans', sans-serif; text-anchor: middle" x="567.3" y="426.72" transform="rotate(-90 567.3 426.72)" textLength="35.940" lengthAdjust="spacingAndGlyphs">V1(km/s)</text> </g> </g> <g id="text_97"> <g transform="translate(606.155 525.742)"> <text> <tspan x="0" y="-0.25" style="font-size: 10.080px; font-family: 'Liberation Serif', serif; font-style: italic">λ</tspan> <tspan x="8.971" y="-0.25" style="font-size: 10.080px; font-family: 'Liberation Serif', serif">/</tspan> <tspan x="13.471" y="-0.25" style="font-size: 10.080px; font-family: 'Liberation Serif', serif; font-style: italic">λ</tspan> <tspan x="5.247" y="1.280" style="font-size: 7.056px; font-family: 'Liberation Serif', serif">1</tspan> <tspan x="18.718" y="1.280" style="font-size: 7.056px; font-family: 'Liberation Serif', serif">3</tspan> <tspan x="24.022" y="-0.25" style="font-size: 10.080px; font-family: 'Liberation Serif', serif">≈</tspan> <tspan x="32.594" y="-0.25" style="font-size: 9.450px; font-family: 'Liberation Sans', sans-serif" textLength="5.726" lengthAdjust="spacingAndGlyphs">9</tspan> <tspan x="38.320" y="-0.25" style="font-size: 9.450px; font-family: 'Liberation Sans', sans-serif" textLength="5.726" lengthAdjust="spacingAndGlyphs">1</tspan> <tspan x="44.046" y="-0.25" style="font-size: 9.450px; font-family: 'Liberation Sans', sans-serif" textLength="2.861" lengthAdjust="spacingAndGlyphs">.</tspan> <tspan x="46.907" y="-0.25" style="font-size: 9.450px; font-family: 'Liberation Sans', sans-serif" textLength="5.726" lengthAdjust="spacingAndGlyphs">5</tspan> </text> </g> </g> <g id="ctr_t5"> <g transform="translate(590.648 312.76)"> <text> <tspan x="2.505" y="-0.640" style="font-size: 11.760px; font-family: 'Liberation Sans', sans-serif" textLength="8.422" lengthAdjust="spacingAndGlyphs">H</tspan> <tspan x="10.770" y="-0.640" style="font-size: 11.760px; font-family: 'Liberation Sans', sans-serif" textLength="6.852" lengthAdjust="spacingAndGlyphs">o</tspan> <tspan x="17.495" y="-0.640" style="font-size: 11.760px; font-family: 'Liberation Sans', sans-serif" textLength="7.109" lengthAdjust="spacingAndGlyphs">d</tspan> <tspan x="24.472" y="-0.640" style="font-size: 11.760px; font-family: 'Liberation Sans', sans-serif" textLength="6.852" lengthAdjust="spacingAndGlyphs">o</tspan> <tspan x="31.196" y="-0.640" style="font-size: 11.760px; font-family: 'Liberation Sans', sans-serif" textLength="7.109" lengthAdjust="spacingAndGlyphs">g</tspan> <tspan x="38.173" y="-0.640" style="font-size: 11.760px; font-family: 'Liberation Sans', sans-serif" textLength="4.605" lengthAdjust="spacingAndGlyphs">r</tspan> <tspan x="42.692" y="-0.640" style="font-size: 11.760px; font-family: 'Liberation Sans', sans-serif" textLength="6.863" lengthAdjust="spacingAndGlyphs">a</tspan> <tspan x="49.427" y="-0.640" style="font-size: 11.760px; font-family: 'Liberation Sans', sans-serif" textLength="10.910" lengthAdjust="spacingAndGlyphs">m</tspan> <tspan x="60.134" y="-0.640" style="font-size: 11.760px; font-family: 'Liberation Sans', sans-serif"> </tspan> <tspan x="63.628" y="-0.640" style="font-size: 11.760px; font-family: 'Liberation Sans', sans-serif" textLength="4.370" lengthAdjust="spacingAndGlyphs">(</tspan> <tspan x="67.916" y="-0.640" style="font-size: 11.760px; font-family: 'Liberation Sans', sans-serif" textLength="7.662" lengthAdjust="spacingAndGlyphs">V</tspan> <tspan x="75.435" y="-0.640" style="font-size: 11.760px; font-family: 'Liberation Sans', sans-serif" textLength="7.126" lengthAdjust="spacingAndGlyphs">3</tspan> <tspan x="82.428" y="-0.640" style="font-size: 11.760px; font-family: 'Liberation Sans', sans-serif" textLength="5.600" lengthAdjust="spacingAndGlyphs">_</tspan> <tspan x="87.924" y="-0.640" style="font-size: 11.760px; font-family: 'Liberation Sans', sans-serif" textLength="7.662" lengthAdjust="spacingAndGlyphs">V</tspan> <tspan x="95.442" y="-0.640" style="font-size: 11.760px; font-family: 'Liberation Sans', sans-serif" textLength="7.126" lengthAdjust="spacingAndGlyphs">1</tspan> <tspan x="102.435" y="-0.640" style="font-size: 11.760px; font-family: 'Liberation Sans', sans-serif"> </tspan> <tspan x="105.929" y="-0.640" style="font-size: 11.760px; font-family: 'Liberation Sans', sans-serif" textLength="9.663" lengthAdjust="spacingAndGlyphs">M</tspan> <tspan x="115.412" y="-0.640" style="font-size: 11.760px; font-family: 'Liberation Sans', sans-serif" textLength="7.662" lengthAdjust="spacingAndGlyphs">V</tspan> <tspan x="122.931" y="-0.640" style="font-size: 11.760px; font-family: 'Liberation Sans', sans-serif" textLength="7.662" lengthAdjust="spacingAndGlyphs">A</tspan> <tspan x="130.450" y="-0.640" style="font-size: 11.760px; font-family: 'Liberation Sans', sans-serif" textLength="7.662" lengthAdjust="spacingAndGlyphs">V</tspan> <tspan x="175.020" y="-0.640" style="font-size: 11.760px; font-family: 'Liberation Sans', sans-serif"> </tspan> <tspan x="178.514" y="-0.640" style="font-size: 11.760px; font-family: 'Liberation Sans', sans-serif" textLength="3.943" lengthAdjust="spacingAndGlyphs">f</tspan> <tspan x="182.383" y="-0.640" style="font-size: 11.760px; font-family: 'Liberation Sans', sans-serif" textLength="4.605" lengthAdjust="spacingAndGlyphs">r</tspan> <tspan x="186.902" y="-0.640" style="font-size: 11.760px; font-family: 'Liberation Sans', sans-serif" textLength="6.863" lengthAdjust="spacingAndGlyphs">a</tspan> <tspan x="193.638" y="-0.640" style="font-size: 11.760px; font-family: 'Liberation Sans', sans-serif" textLength="10.910" lengthAdjust="spacingAndGlyphs">m</tspan> <tspan x="204.344" y="-0.640" style="font-size: 11.760px; font-family: 'Liberation Sans', sans-serif" textLength="6.891" lengthAdjust="spacingAndGlyphs">e</tspan> <tspan x="211.107" y="-0.640" style="font-size: 11.760px; font-family: 'Liberation Sans', sans-serif" textLength="4.370" lengthAdjust="spacingAndGlyphs">)</tspan> <tspan x="138.458" y="1.264" style="font-size: 8.781px; font-family: 'Liberation Serif', serif; font-style: italic">r</tspan> <tspan x="141.910" y="1.264" style="font-size: 8.781px; font-family: 'Liberation Serif', serif; font-style: italic">e</tspan> <tspan x="145.466" y="1.264" style="font-size: 8.781px; font-family: 'Liberation Serif', serif; font-style: italic">m</tspan> <tspan x="152.183" y="1.264" style="font-size: 8.781px; font-family: 'Liberation Serif', serif; font-style: italic">a</tspan> <tspan x="156.222" y="1.264" style="font-size: 8.781px; font-family: 'Liberation Serif', serif; font-style: italic">i</tspan> <tspan x="158.856" y="1.264" style="font-size: 8.781px; font-family: 'Liberation Serif', serif; font-style: italic">n</tspan> <tspan x="163.447" y="1.264" style="font-size: 8.781px; font-family: 'Liberation Serif', serif; font-style: italic">i</tspan> <tspan x="166.081" y="1.264" style="font-size: 8.781px; font-family: 'Liberation Serif', serif; font-style: italic">n</tspan> <tspan x="170.672" y="1.264" style="font-size: 8.781px; font-family: 'Liberation Serif', serif; font-style: italic">g</tspan> </text> </g> </g> </g> <g id="axes_7"> <g id="patch_36"> <path d="M 56.16 732.96  L 807.84 732.96  L 807.84 626.4  L 56.16 626.4  z " style="fill: #ffffff"/> </g> <g id="line2d_250"> <path d="M 56.16 641.904  L 113.981 642.288  L 171.803 641.376  L 229.624 641.76  L 287.446 642.192  L 345.267 642.432  L 403.089 642.432  L 460.910 641.904  L 518.732 642.192  L 576.553 642.576  L 634.375 642.096  L 692.196 641.76  L 750.018 641.424  L 807.84 642.096  " clip-path="url(#pdf6c10e1a3)" style="fill: none; stroke: #ff0000; stroke-linecap: square"/> </g> <g id="line2d_251"> <path d="M 56.16 708.72  L 113.981 706.128  L 171.803 712.128  L 229.624 715.968  L 287.446 713.52  L 345.267 714.48  L 403.089 713.664  L 460.910 715.296  L 518.732 717.456  L 576.553 717.072  L 634.375 717.888  L 692.196 716.352  L 750.018 715.296  L 807.84 716.496  " clip-path="url(#pdf6c10e1a3)" style="fill: none; stroke: #008000; stroke-linecap: square"/> </g> <g id="line2d_252"> <path d="M 56.16 679.632  L 113.981 675.936  L 171.803 681.12  L 229.624 684.912  L 287.446 680.976  L 345.267 681.12  L 403.089 680.688  L 460.910 682.752  L 518.732 684.528  L 576.553 684.144  L 634.375 686.208  L 692.196 685.488  L 750.018 684.96  L 807.84 686.4  " clip-path="url(#pdf6c10e1a3)" style="fill: none; stroke: #0000ff; stroke-linecap: square"/> </g> <g id="line2d_253"> <path d="M 56.16 697.680 L 807.84 697.680 " clip-path="url(#pdf6c10e1a3)" style="fill: none; stroke-dasharray: 6,6; stroke-dashoffset: 0; stroke: #000000; stroke-width: 0.5"/> </g> <g id="patch_37"> <path d="M 56.16 732.96  L 56.16 626.4  " style="fill: none; stroke: #000000; stroke-linejoin: miter; stroke-linecap: square"/> </g> <g id="patch_38"> <path d="M 807.84 732.96  L 807.84 626.4  " style="fill: none; stroke: #000000; stroke-linejoin: miter; stroke-linecap: square"/> </g> <g id="patch_39"> <path d="M 56.16 732.96  L 807.84 732.96  " style="fill: none; stroke: #000000; stroke-linejoin: miter; stroke-linecap: square"/> </g> <g id="patch_40"> <path d="M 56.16 626.4  L 807.84 626.4  " style="fill: none; stroke: #000000; stroke-linejoin: miter; stroke-linecap: square"/> </g> <g id="matplotlib.axis_13"> <g id="xtick_43"> <g id="line2d_254"> <g> <use xlink:href="#m9970c9cf34" x="171.600" y="732.96" style="stroke: #000000; stroke-width: 0.5"/> </g> </g> <g id="line2d_255"> <g> <use xlink:href="#ma74727226e" x="171.600" y="626.4" style="stroke: #000000; stroke-width: 0.5"/> </g> </g> <g id="text_98"> <text style="font-size: 8.400px; font-family: 'Liberation Sans', sans-serif; text-anchor: middle" x="171.803" y="743.68" transform="rotate(-0 171.803 743.68)" textLength="61.178" lengthAdjust="spacingAndGlyphs">07/02 05:38:54</text> </g> </g> <g id="xtick_44"> <g id="line2d_256"> <g> <use xlink:href="#m9970c9cf34" x="461.040" y="732.96" style="stroke: #000000; stroke-width: 0.5"/> </g> </g> <g id="line2d_257"> <g> <use xlink:href="#ma74727226e" x="461.040" y="626.4" style="stroke: #000000; stroke-width: 0.5"/> </g> </g> <g id="text_99"> <text style="font-size: 8.400px; font-family: 'Liberation Sans', sans-serif; text-anchor: middle" x="460.910" y="743.68" transform="rotate(-0 460.910 743.68)" textLength="61.231" lengthAdjust="spacingAndGlyphs">07/02 05:38:59</text> </g> </g> <g id="xtick_45"> <g id="line2d_258"> <g> <use xlink:href="#m9970c9cf34" x="750.000" y="732.96" style="stroke: #000000; stroke-width: 0.5"/> </g> </g> <g id="line2d_259"> <g> <use xlink:href="#ma74727226e" x="750.000" y="626.4" style="stroke: #000000; stroke-width: 0.5"/> </g> </g> <g id="text_100"> <text style="font-size: 8.400px; font-family: 'Liberation Sans', sans-serif; text-anchor: middle" x="750.018" y="743.68" transform="rotate(-0 750.018 743.68)" textLength="61.178" lengthAdjust="spacingAndGlyphs">07/02 05:39:04</text> </g> </g> </g> <g id="matplotlib.axis_14"> <g id="ytick_45"> <g id="line2d_260"> <g> <use xlink:href="#m15b6ba686d" x="56.16" y="733.200" style="stroke: #000000; stroke-width: 0.5"/> </g> </g> <g id="line2d_261"> <g> <use xlink:href="#m23530d4d53" x="807.84" y="733.200" style="stroke: #000000; stroke-width: 0.5"/> </g> </g> <g id="text_101"> <text style="font-size: 8.400px; font-family: 'Liberation Sans', sans-serif; text-anchor: end" x="52.16" y="735.36" transform="rotate(-0 52.16 735.36)" textLength="21.435" lengthAdjust="spacingAndGlyphs">−100</text> </g> </g> <g id="ytick_46"> <g id="line2d_262"> <g> <use xlink:href="#m15b6ba686d" x="56.16" y="715.440" style="stroke: #000000; stroke-width: 0.5"/> </g> </g> <g id="line2d_263"> <g> <use xlink:href="#m23530d4d53" x="807.84" y="715.440" style="stroke: #000000; stroke-width: 0.5"/> </g> </g> <g id="text_102"> <text style="font-size: 8.400px; font-family: 'Liberation Sans', sans-serif; text-anchor: end" x="52.16" y="717.6" transform="rotate(-0 52.16 717.6)" textLength="16.356" lengthAdjust="spacingAndGlyphs">−50</text> </g> </g> <g id="ytick_47"> <g id="line2d_264"> <g> <use xlink:href="#m15b6ba686d" x="56.16" y="697.680" style="stroke: #000000; stroke-width: 0.5"/> </g> </g> <g id="line2d_265"> <g> <use xlink:href="#m23530d4d53" x="807.84" y="697.680" style="stroke: #000000; stroke-width: 0.5"/> </g> </g> <g id="text_103"> <text style="font-size: 8.400px; font-family: 'Liberation Sans', sans-serif; text-anchor: end" x="52.16" y="699.84" transform="rotate(-0 52.16 699.84)" textLength="4.690" lengthAdjust="spacingAndGlyphs">0</text> </g> </g> <g id="ytick_48"> <g id="line2d_266"> <g> <use xlink:href="#m15b6ba686d" x="56.16" y="679.920" style="stroke: #000000; stroke-width: 0.5"/> </g> </g> <g id="line2d_267"> <g> <use xlink:href="#m23530d4d53" x="807.84" y="679.920" style="stroke: #000000; stroke-width: 0.5"/> </g> </g> <g id="text_104"> <text style="font-size: 8.400px; font-family: 'Liberation Sans', sans-serif; text-anchor: end" x="52.16" y="682.08" transform="rotate(-0 52.16 682.08)" textLength="9.723" lengthAdjust="spacingAndGlyphs">50</text> </g> </g> <g id="ytick_49"> <g id="line2d_268"> <g> <use xlink:href="#m15b6ba686d" x="56.16" y="662.160" style="stroke: #000000; stroke-width: 0.5"/> </g> </g> <g id="line2d_269"> <g> <use xlink:href="#m23530d4d53" x="807.84" y="662.160" style="stroke: #000000; stroke-width: 0.5"/> </g> </g> <g id="text_105"> <text style="font-size: 8.400px; font-family: 'Liberation Sans', sans-serif; text-anchor: end" x="52.16" y="664.32" transform="rotate(-0 52.16 664.32)" textLength="14.888" lengthAdjust="spacingAndGlyphs">100</text> </g> </g> <g id="ytick_50"> <g id="line2d_270"> <g> <use xlink:href="#m15b6ba686d" x="56.16" y="644.400" style="stroke: #000000; stroke-width: 0.5"/> </g> </g> <g id="line2d_271"> <g> <use xlink:href="#m23530d4d53" x="807.84" y="644.400" style="stroke: #000000; stroke-width: 0.5"/> </g> </g> <g id="text_106"> <text style="font-size: 8.400px; font-family: 'Liberation Sans', sans-serif; text-anchor: end" x="52.16" y="646.56" transform="rotate(-0 52.16 646.56)" textLength="14.888" lengthAdjust="spacingAndGlyphs">150</text> </g> </g> <g id="ytick_51"> <g id="line2d_272"> <g> <use xlink:href="#m15b6ba686d" x="56.16" y="626.640" style="stroke: #000000; stroke-width: 0.5"/> </g> </g> <g id="line2d_273"> <g> <use xlink:href="#m23530d4d53" x="807.84" y="626.640" style="stroke: #000000; stroke-width: 0.5"/> </g> </g> <g id="text_107"> <text style="font-size: 8.400px; font-family: 'Liberation Sans', sans-serif; text-anchor: end" x="52.16" y="628.8" transform="rotate(-0 52.16 628.8)" textLength="14.953" lengthAdjust="spacingAndGlyphs">200</text> </g> </g> <g id="ctr_y6" transform="translate(-0.480 0.960)"> <text style="font-size: 8.400px; font-family: 'Liberation Sans', sans-serif; text-anchor: middle" x="23.4" y="679.68" transform="rotate(-90 23.4 679.68)" textLength="21.451" lengthAdjust="spacingAndGlyphs">B(nT)</text> </g> </g> <g id="ctr_t6"> <text style="font-size: 11.760px; font-family: 'Liberation Sans', sans-serif; text-anchor: middle" x="432" y="621.4" transform="rotate(-0 432 621.4)" textLength="155.793" lengthAdjust="spacingAndGlyphs">Magnetic Field (RTN Frame)</text> </g> <g id="legend_4"> <g id="patch_41"> <path d="M 769.9 664.1  L 804.34 664.1  L 804.34 629.9  L 769.9 629.9  z " style="fill: #ffffff; stroke: #000000; stroke-linejoin: miter"/> </g> <g id="line2d_274"> <path d="M 774.8 636.01  L 784.6 636.01  " style="fill: none; stroke: #ff0000; stroke-linecap: square"/> </g> <g id="text_108"> <text style="font-size: 7.350px; font-family: 'Liberation Sans', sans-serif; text-anchor: start" x="792.3" y="638.46" transform="rotate(-0 792.3 638.46)" textLength="7.758" lengthAdjust="spacingAndGlyphs">Br</text> </g> <g id="line2d_275"> <path d="M 774.8 646.71  L 784.6 646.71  " style="fill: none; stroke: #008000; stroke-linecap: square"/> </g> <g id="text_109"> <text style="font-size: 7.350px; font-family: 'Liberation Sans', sans-serif; text-anchor: start" x="792.3" y="649.16" transform="rotate(-0 792.3 649.16)" textLength="7.391" lengthAdjust="spacingAndGlyphs">Bt</text> </g> <g id="line2d_276"> <path d="M 774.8 657.41  L 784.6 657.41  " style="fill: none; stroke: #0000ff; stroke-linecap: square"/> </g> <g id="text_110"> <text style="font-size: 7.350px; font-family: 'Liberation Sans', sans-serif; text-anchor: start" x="792.3" y="659.86" transform="rotate(-0 792.3 659.86)" textLength="9.044" lengthAdjust="spacingAndGlyphs">Bn</text> </g> </g> </g> <g id="axes_8"> <g id="patch_42"> <path d="M 56.16 893.28  L 807.84 893.28  L 807.84 786.72  L 56.16 786.72  z " style="fill: #ffffff"/> </g> <g id="line2d_277"> <path d="M 56.16 879.024  L 113.981 876  L 171.803 879.408  L 229.624 881.328  L 287.446 878.448  L 345.267 877.776  L 403.089 877.776  L 460.910 879.408  L 518.732 880.224  L 576.553 879.984  L 634.375 882.048  L 692.196 882.24  L 750.018 882.24  L 807.84 882.768  " clip-path="url(#p66f6a427d6)" style="fill: none; stroke: #ff0000; stroke-linecap: square"/> </g> <g id="line2d_278"> <path d="M 56.16 879.312  L 113.981 883.92  L 171.803 875.04  L 229.624 869.04  L 287.446 873.696  L 345.267 872.16  L 403.089 873.408  L 460.910 870.96  L 518.732 867.936  L 576.553 868.08  L 634.375 866.544  L 692.196 867.936  L 750.018 869.52  L 807.84 867.792  " clip-path="url(#p66f6a427d6)" style="fill: none; stroke: #008000; stroke-linecap: square"/> </g> <g id="line2d_279"> <path d="M 56.16 801.12  L 113.981 800.976  L 171.803 799.872  L 229.624 800.448  L 287.446 800.4  L 345.267 800.4  L 403.089 800.304  L 460.910 800.304  L 518.732 800.304  L 576.553 800.496  L 634.375 800.496  L 692.196 800.496  L 750.018 800.496  L 807.84 801.12  " clip-path="url(#p66f6a427d6)" style="fill: none; stroke: #0000ff; stroke-linecap: square"/> </g> <g id="line2d_280"> <path d="M 56.16 800.16  L 113.981 800.16  L 171.803 799.776  L 229.624 800.16  L 287.446 800.16  L 345.267 800.16  L 403.089 800.064  L 460.910 800.064  L 518.732 800.064  L 576.553 800.016  L 634.375 800.016  L 692.196 800.016  L 750.018 800.016  L 807.84 799.92  " clip-path="url(#p66f6a427d6)" style="fill: none; stroke: #000000; stroke-linecap: square"/> </g> <g id="line2d_281"> <path d="M 56.16 871.920 L 807.84 871.920 " clip-path="url(#p66f6a427d6)" style="fill: none; stroke-dasharray: 6,6; stroke-dashoffset: 0; stroke: #000000; stroke-width: 0.5"/> </g> <g id="patch_43"> <path d="M 56.16 893.28  L 56.16 786.72  " style="fill: none; stroke: #000000; stroke-linejoin: miter; stroke-linecap: square"/> </g> <g id="patch_44"> <path d="M 807.84 893.28  L 807.84 786.72  " style="fill: none; stroke: #000000; stroke-linejoin: miter; stroke-linecap: square"/> </g> <g id="patch_45"> <path d="M 56.16 893.28  L 807.84 893.28  " style="fill: none; stroke: #000000; stroke-linejoin: miter; stroke-linecap: square"/> </g> <g id="patch_46"> <path d="M 56.16 786.72  L 807.84 786.72  " style="fill: none; stroke: #000000; stroke-linejoin: miter; stroke-linecap: square"/> </g> <g id="matplotlib.axis_15"> <g id="xtick_46"> <g id="line2d_282"> <g> <use xlink:href="#m9970c9cf34" x="171.600" y="893.28" style="stroke: #000000; stroke-width: 0.5"/> </g> </g> <g id="line2d_283"> <g> <use xlink:href="#ma74727226e" x="171.600" y="786.72" style="stroke: #000000; stroke-width: 0.5"/> </g> </g> <g id="text_111"> <text style="font-size: 8.400px; font-family: 'Liberation Sans', sans-serif; text-anchor: middle" x="171.803" y="904" transform="rotate(-0 171.803 904)" textLength="61.178" lengthAdjust="spacingAndGlyphs">07/02 05:38:54</text> </g> </g> <g id="xtick_47"> <g id="line2d_284"> <g> <use xlink:href="#m9970c9cf34" x="461.040" y="893.28" style="stroke: #000000; stroke-width: 0.5"/> </g> </g> <g id="line2d_285"> <g> <use xlink:href="#ma74727226e" x="461.040" y="786.72" style="stroke: #000000; stroke-width: 0.5"/> </g> </g> <g id="text_112"> <text style="font-size: 8.400px; font-family: 'Liberation Sans', sans-serif; text-anchor: middle" x="460.910" y="904" transform="rotate(-0 460.910 904)" textLength="61.231" lengthAdjust="spacingAndGlyphs">07/02 05:38:59</text> </g> </g> <g id="xtick_48"> <g id="line2d_286"> <g> <use xlink:href="#m9970c9cf34" x="750.000" y="893.28" style="stroke: #000000; stroke-width: 0.5"/> </g> </g> <g id="line2d_287"> <g> <use xlink:href="#ma74727226e" x="750.000" y="786.72" style="stroke: #000000; stroke-width: 0.5"/> </g> </g> <g id="text_113"> <text style="font-size: 8.400px; font-family: 'Liberation Sans', sans-serif; text-anchor: middle" x="750.018" y="904" transform="rotate(-0 750.018 904)" textLength="61.178" lengthAdjust="spacingAndGlyphs">07/02 05:39:04</text> </g> </g> </g> <g id="matplotlib.axis_16"> <g id="ytick_52"> <g id="line2d_288"> <g> <use xlink:href="#m15b6ba686d" x="56.16" y="893.520" style="stroke: #000000; stroke-width: 0.5"/> </g> </g> <g id="line2d_289"> <g> <use xlink:href="#m23530d4d53" x="807.84" y="893.520" style="stroke: #000000; stroke-width: 0.5"/> </g> </g> <g id="text_114"> <text style="font-size: 8.400px; font-family: 'Liberation Sans', sans-serif; text-anchor: end" x="52.16" y="895.68" transform="rotate(-0 52.16 895.68)" textLength="16.356" lengthAdjust="spacingAndGlyphs">−50</text> </g> </g> <g id="ytick_53"> <g id="line2d_290"> <g> <use xlink:href="#m15b6ba686d" x="56.16" y="871.920" style="stroke: #000000; stroke-width: 0.5"/> </g> </g> <g id="line2d_291"> <g> <use xlink:href="#m23530d4d53" x="807.84" y="871.920" style="stroke: #000000; stroke-width: 0.5"/> </g> </g> <g id="text_115"> <text style="font-size: 8.400px; font-family: 'Liberation Sans', sans-serif; text-anchor: end" x="52.16" y="874.368" transform="rotate(-0 52.16 874.368)" textLength="4.690" lengthAdjust="spacingAndGlyphs">0</text> </g> </g> <g id="ytick_54"> <g id="line2d_292"> <g> <use xlink:href="#m15b6ba686d" x="56.16" y="850.800" style="stroke: #000000; stroke-width: 0.5"/> </g> </g> <g id="line2d_293"> <g> <use xlink:href="#m23530d4d53" x="807.84" y="850.800" style="stroke: #000000; stroke-width: 0.5"/> </g> </g> <g id="text_116"> <text style="font-size: 8.400px; font-family: 'Liberation Sans', sans-serif; text-anchor: end" x="52.16" y="853.056" transform="rotate(-0 52.16 853.056)" textLength="9.723" lengthAdjust="spacingAndGlyphs">50</text> </g> </g> <g id="ytick_55"> <g id="line2d_294"> <g> <use xlink:href="#m15b6ba686d" x="56.16" y="829.200" style="stroke: #000000; stroke-width: 0.5"/> </g> </g> <g id="line2d_295"> <g> <use xlink:href="#m23530d4d53" x="807.84" y="829.200" style="stroke: #000000; stroke-width: 0.5"/> </g> </g> <g id="text_117"> <text style="font-size: 8.400px; font-family: 'Liberation Sans', sans-serif; text-anchor: end" x="52.16" y="831.744" transform="rotate(-0 52.16 831.744)" textLength="14.888" lengthAdjust="spacingAndGlyphs">100</text> </g> </g> <g id="ytick_56"> <g id="line2d_296"> <g> <use xlink:href="#m15b6ba686d" x="56.16" y="808.080" style="stroke: #000000; stroke-width: 0.5"/> </g> </g> <g id="line2d_297"> <g> <use xlink:href="#m23530d4d53" x="807.84" y="808.080" style="stroke: #000000; stroke-width: 0.5"/> </g> </g> <g id="text_118"> <text style="font-size: 8.400px; font-family: 'Liberation Sans', sans-serif; text-anchor: end" x="52.16" y="810.432" transform="rotate(-0 52.16 810.432)" textLength="14.888" lengthAdjust="spacingAndGlyphs">150</text> </g> </g> <g id="ytick_57"> <g id="line2d_298"> <g> <use xlink:href="#m15b6ba686d" x="56.16" y="786.960" style="stroke: #000000; stroke-width: 0.5"/> </g> </g> <g id="line2d_299"> <g> <use xlink:href="#m23530d4d53" x="807.84" y="786.960" style="stroke: #000000; stroke-width: 0.5"/> </g> </g> <g id="text_119"> <text style="font-size: 8.400px; font-family: 'Liberation Sans', sans-serif; text-anchor: end" x="52.16" y="789.12" transform="rotate(-0 52.16 789.12)" textLength="14.953" lengthAdjust="spacingAndGlyphs">200</text> </g> </g> <g id="ctr_y7" transform="translate(-0.480 0.960)"> <text style="font-size: 8.400px; font-family: 'Liberation Sans', sans-serif; text-anchor: middle" x="28.5" y="840" transform="rotate(-90 28.5 840)" textLength="21.451" lengthAdjust="spacingAndGlyphs">B(nT)</text> </g> </g> <g id="ctr_t7"> <text style="font-size: 11.760px; font-family: 'Liberation Sans', sans-serif; text-anchor: middle" x="432" y="781.72" transform="rotate(-0 432 781.72)" textLength="188.283" lengthAdjust="spacingAndGlyphs">Magnetic Field (Flux Rope Frame)</text> </g> <g id="legend_5"> <g id="patch_47"> <path d="M 768.34 835.6  L 804.34 835.6  L 804.34 790.22  L 768.34 790.22  z " style="fill: #ffffff; stroke: #000000; stroke-linejoin: miter"/> </g> <g id="line2d_300"> <path d="M 773.24 796.33  L 783.04 796.33  " style="fill: none; stroke: #ff0000; stroke-linecap: square"/> </g> <g id="text_120"> <text style="font-size: 7.350px; font-family: 'Liberation Sans', sans-serif; text-anchor: start" x="790.74" y="798.78" transform="rotate(-0 790.74 798.78)" textLength="10.539" lengthAdjust="spacingAndGlyphs">Bx'</text> </g> <g id="line2d_301"> <path d="M 773.24 807.03  L 783.04 807.03  " style="fill: none; stroke: #008000; stroke-linecap: square"/> </g> <g id="text_121"> <text style="font-size: 7.350px; font-family: 'Liberation Sans', sans-serif; text-anchor: start" x="790.74" y="809.48" transform="rotate(-0 790.74 809.48)" textLength="10.539" lengthAdjust="spacingAndGlyphs">By'</text> </g> <g id="line2d_302"> <path d="M 773.24 817.73  L 783.04 817.73  " style="fill: none; stroke: #0000ff; stroke-linecap: square"/> </g> <g id="text_122"> <text style="font-size: 7.350px; font-family: 'Liberation Sans', sans-serif; text-anchor: start" x="790.74" y="820.18" transform="rotate(-0 790.74 820.18)" textLength="10.020" lengthAdjust="spacingAndGlyphs">Bz'</text> </g> <g id="line2d_303"> <path d="M 773.24 828.43  L 783.04 828.43  " style="fill: none; stroke: #000000; stroke-linecap: square"/> </g> <g id="text_123"> <text style="font-size: 7.350px; font-family: 'Liberation Sans', sans-serif; text-anchor: start" x="790.74" y="830.88" transform="rotate(-0 790.74 830.88)" textLength="9.115" lengthAdjust="spacingAndGlyphs">|B|</text> </g> </g> </g> <g id="axes_9"> <g id="patch_48"> <path d="M 56.16 1053.12  L 807.84 1053.12  L 807.84 946.56  L 56.16 946.56  z " style="fill: #ffffff"/> </g> <g id="line2d_304"> <path d="M 56.16 952.56  L 113.981 952.416  L 171.803 952.128  L 229.624 951.456  L 287.446 952.272  L 345.267 952.272  L 403.089 951.984  L 460.910 950.784  L 518.732 951.456  L 576.553 951.456  L 634.375 951.264  L 692.196 951.6  L 750.018 952.128  L 807.84 953.328  " clip-path="url(#pab0f8e7149)" style="fill: none; stroke: #ff0000; stroke-linecap: square"/> </g> <g id="line2d_305"> <path d="M 56.16 1046.976  L 113.981 1046.592  L 171.803 1045.872  L 229.624 1044.576  L 287.446 1048.08  L 345.267 1046.448  L 403.089 1045.344  L 460.910 1042.464  L 518.732 1044  L 576.553 1044.336  L 634.375 1042.224  L 692.196 1044.624  L 750.018 1043.616  L 807.84 1046.4  " clip-path="url(#pab0f8e7149)" style="fill: none; stroke: #008000; stroke-linecap: square"/> </g> <g id="line2d_306"> <path d="M 56.16 1048.224  L 113.981 1047.936  L 171.803 1047.504  L 229.624 1046.304  L 287.446 1052.88  L 345.267 1050.528  L 403.089 1048.56  L 460.910 1046.688  L 518.732 1046.688  L 576.553 1048.08  L 634.375 1044.816  L 692.196 1046.4  L 750.018 1047.264  L 807.84 1046.4  " clip-path="url(#pab0f8e7149)" style="fill: none; stroke: #0000ff; stroke-linecap: square"/> </g> <g id="patch_49"> <path d="M 56.16 1053.12  L 56.16 946.56  " style="fill: none; stroke: #000000; stroke-linejoin: miter; stroke-linecap: square"/> </g> <g id="patch_50"> <path d="M 807.84 1053.12  L 807.84 946.56  " style="fill: none; stroke: #000000; stroke-linejoin: miter; stroke-linecap: square"/> </g> <g id="patch_51"> <path d="M 56.16 1053.12  L 807.84 1053.12  " style="fill: none; stroke: #000000; stroke-linejoin: miter; stroke-linecap: square"/> </g> <g id="patch_52"> <path d="M 56.16 946.56  L 807.84 946.56  " style="fill: none; stroke: #000000; stroke-linejoin: miter; stroke-linecap: square"/> </g> <g id="matplotlib.axis_17"> <g id="xtick_49"> <g id="line2d_307"> <g> <use xlink:href="#m9970c9cf34" x="171.600" y="1053.12" style="stroke: #000000; stroke-width: 0.5"/> </g> </g> <g id="line2d_308"> <g> <use xlink:href="#ma74727226e" x="171.600" y="946.56" style="stroke: #000000; stroke-width: 0.5"/> </g> </g> <g id="text_124"> <text style="font-size: 8.400px; font-family: 'Liberation Sans', sans-serif; text-anchor: middle" x="171.803" y="1063.84" transform="rotate(-0 171.803 1063.84)" textLength="61.178" lengthAdjust="spacingAndGlyphs">07/02 05:38:54</text> </g> </g> <g id="xtick_50"> <g id="line2d_309"> <g> <use xlink:href="#m9970c9cf34" x="461.040" y="1053.12" style="stroke: #000000; stroke-width: 0.5"/> </g> </g> <g id="line2d_310"> <g> <use xlink:href="#ma74727226e" x="461.040" y="946.56" style="stroke: #000000; stroke-width: 0.5"/> </g> </g> <g id="text_125"> <text style="font-size: 8.400px; font-family: 'Liberation Sans', sans-serif; text-anchor: middle" x="460.910" y="1063.84" transform="rotate(-0 460.910 1063.84)" textLength="61.231" lengthAdjust="spacingAndGlyphs">07/02 05:38:59</text> </g> </g> <g id="xtick_51"> <g id="line2d_311"> <g> <use xlink:href="#m9970c9cf34" x="750.000" y="1053.12" style="stroke: #000000; stroke-width: 0.5"/> </g> </g> <g id="line2d_312"> <g> <use xlink:href="#ma74727226e" x="750.000" y="946.56" style="stroke: #000000; stroke-width: 0.5"/> </g> </g> <g id="text_126"> <text style="font-size: 8.400px; font-family: 'Liberation Sans', sans-serif; text-anchor: middle" x="750.018" y="1063.84" transform="rotate(-0 750.018 1063.84)" textLength="61.178" lengthAdjust="spacingAndGlyphs">07/02 05:39:04</text> </g> </g> </g> <g id="matplotlib.axis_18"> <g id="ytick_58"> <g id="line2d_313"> <g> <use xlink:href="#m15b6ba686d" x="56.16" y="1053.360" style="stroke: #000000; stroke-width: 0.5"/> </g> </g> <g id="line2d_314"> <g> <use xlink:href="#m23530d4d53" x="807.84" y="1053.360" style="stroke: #000000; stroke-width: 0.5"/> </g> </g> <g id="text_127"> <text style="font-size: 8.400px; font-family: 'Liberation Sans', sans-serif; text-anchor: end" x="52.16" y="1055.52" transform="rotate(-0 52.16 1055.52)" textLength="16.356" lengthAdjust="spacingAndGlyphs">−50</text> </g> </g> <g id="ytick_59"> <g id="line2d_315"> <g> <use xlink:href="#m15b6ba686d" x="56.16" y="1035.600" style="stroke: #000000; stroke-width: 0.5"/> </g> </g> <g id="line2d_316"> <g> <use xlink:href="#m23530d4d53" x="807.84" y="1035.600" style="stroke: #000000; stroke-width: 0.5"/> </g> </g> <g id="text_128"> <text style="font-size: 8.400px; font-family: 'Liberation Sans', sans-serif; text-anchor: end" x="52.16" y="1037.76" transform="rotate(-0 52.16 1037.76)" textLength="4.690" lengthAdjust="spacingAndGlyphs">0</text> </g> </g> <g id="ytick_60"> <g id="line2d_317"> <g> <use xlink:href="#m15b6ba686d" x="56.16" y="1017.840" style="stroke: #000000; stroke-width: 0.5"/> </g> </g> <g id="line2d_318"> <g> <use xlink:href="#m23530d4d53" x="807.84" y="1017.840" style="stroke: #000000; stroke-width: 0.5"/> </g> </g> <g id="text_129"> <text style="font-size: 8.400px; font-family: 'Liberation Sans', sans-serif; text-anchor: end" x="52.16" y="1020" transform="rotate(-0 52.16 1020)" textLength="9.723" lengthAdjust="spacingAndGlyphs">50</text> </g> </g> <g id="ytick_61"> <g id="line2d_319"> <g> <use xlink:href="#m15b6ba686d" x="56.16" y="1000.080" style="stroke: #000000; stroke-width: 0.5"/> </g> </g> <g id="line2d_320"> <g> <use xlink:href="#m23530d4d53" x="807.84" y="1000.080" style="stroke: #000000; stroke-width: 0.5"/> </g> </g> <g id="text_130"> <text style="font-size: 8.400px; font-family: 'Liberation Sans', sans-serif; text-anchor: end" x="52.16" y="1002.24" transform="rotate(-0 52.16 1002.24)" textLength="14.888" lengthAdjust="spacingAndGlyphs">100</text> </g> </g> <g id="ytick_62"> <g id="line2d_321"> <g> <use xlink:href="#m15b6ba686d" x="56.16" y="982.320" style="stroke: #000000; stroke-width: 0.5"/> </g> </g> <g id="line2d_322"> <g> <use xlink:href="#m23530d4d53" x="807.84" y="982.320" style="stroke: #000000; stroke-width: 0.5"/> </g> </g> <g id="text_131"> <text style="font-size: 8.400px; font-family: 'Liberation Sans', sans-serif; text-anchor: end" x="52.16" y="984.48" transform="rotate(-0 52.16 984.48)" textLength="14.888" lengthAdjust="spacingAndGlyphs">150</text> </g> </g> <g id="ytick_63"> <g id="line2d_323"> <g> <use xlink:href="#m15b6ba686d" x="56.16" y="964.560" style="stroke: #000000; stroke-width: 0.5"/> </g> </g> <g id="line2d_324"> <g> <use xlink:href="#m23530d4d53" x="807.84" y="964.560" style="stroke: #000000; stroke-width: 0.5"/> </g> </g> <g id="text_132"> <text style="font-size: 8.400px; font-family: 'Liberation Sans', sans-serif; text-anchor: end" x="52.16" y="966.72" transform="rotate(-0 52.16 966.72)" textLength="14.953" lengthAdjust="spacingAndGlyphs">200</text> </g> </g> <g id="ytick_64"> <g id="line2d_325"> <g> <use xlink:href="#m15b6ba686d" x="56.16" y="946.800" style="stroke: #000000; stroke-width: 0.5"/> </g> </g> <g id="line2d_326"> <g> <use xlink:href="#m23530d4d53" x="807.84" y="946.800" style="stroke: #000000; stroke-width: 0.5"/> </g> </g> <g id="text_133"> <text style="font-size: 8.400px; font-family: 'Liberation Sans', sans-serif; text-anchor: end" x="52.16" y="948.96" transform="rotate(-0 52.16 948.96)" textLength="14.953" lengthAdjust="spacingAndGlyphs">250</text> </g> </g> <g id="ctr_y8" transform="translate(-0.480 0.960)"> <text style="font-size: 8.400px; font-family: 'Liberation Sans', sans-serif; text-anchor: middle" x="28.5" y="999.84" transform="rotate(-90 28.5 999.84)" textLength="41.556" lengthAdjust="spacingAndGlyphs">Vsw(km/s)</text> </g> </g> <g id="ctr_t8"> <text style="font-size: 11.760px; font-family: 'Liberation Sans', sans-serif; text-anchor: middle" x="432" y="941.56" transform="rotate(-0 432 941.56)" textLength="183.057" lengthAdjust="spacingAndGlyphs">Solar Wind Velocity (RTN Frame)</text> </g> <g id="legend_6"> <g id="patch_53"> <path d="M 769.84 984.26  L 804.34 984.26  L 804.34 950.06  L 769.84 950.06  z " style="fill: #ffffff; stroke: #000000; stroke-linejoin: miter"/> </g> <g id="line2d_327"> <path d="M 774.74 956.17  L 784.54 956.17  " style="fill: none; stroke: #ff0000; stroke-linecap: square"/> </g> <g id="text_134"> <text style="font-size: 7.350px; font-family: 'Liberation Sans', sans-serif; text-anchor: start" x="792.24" y="958.62" transform="rotate(-0 792.24 958.62)" textLength="7.775" lengthAdjust="spacingAndGlyphs">Vr</text> </g> <g id="line2d_328"> <path d="M 774.74 966.87  L 784.54 966.87  " style="fill: none; stroke: #008000; stroke-linecap: square"/> </g> <g id="text_135"> <text style="font-size: 7.350px; font-family: 'Liberation Sans', sans-serif; text-anchor: start" x="792.24" y="969.32" transform="rotate(-0 792.24 969.32)" textLength="7.403" lengthAdjust="spacingAndGlyphs">Vt</text> </g> <g id="line2d_329"> <path d="M 774.74 977.57  L 784.54 977.57  " style="fill: none; stroke: #0000ff; stroke-linecap: square"/> </g> <g id="text_136"> <text style="font-size: 7.350px; font-family: 'Liberation Sans', sans-serif; text-anchor: start" x="792.24" y="980.02" transform="rotate(-0 792.24 980.02)" textLength="9.091" lengthAdjust="spacingAndGlyphs">Vn</text> </g> </g> </g> <g id="axes_10"> <g id="patch_54"> <path d="M 56.16 1213.44  L 807.84 1213.44  L 807.84 1106.88  L 56.16 1106.88  z " style="fill: #ffffff"/> </g> <g id="line2d_330"> <path d="M 56.16 1128.576  L 171.803 1136.976  L 229.624 1157.616  L 287.446 1109.952  L 345.267 1123.104  L 403.089 1141.248  L 460.910 1202.4  L 518.732 1164.624  L 576.553 1145.664  L 634.375 1172.304  L 692.196 1163.616  L 750.018 1170.096  L 807.84 1110.672  " clip-path="url(#p840b9fd985)" style="fill: none; stroke: #0000ff; stroke-linecap: square"/> </g> <g id="patch_55"> <path d="M 56.16 1213.44  L 56.16 1106.88  " style="fill: none; stroke: #000000; stroke-linejoin: miter; stroke-linecap: square"/> </g> <g id="patch_56"> <path d="M 807.84 1213.44  L 807.84 1106.88  " style="fill: none; stroke: #000000; stroke-linejoin: miter; stroke-linecap: square"/> </g> <g id="patch_57"> <path d="M 56.16 1213.44  L 807.84 1213.44  " style="fill: none; stroke: #000000; stroke-linejoin: miter; stroke-linecap: square"/> </g> <g id="patch_58"> <path d="M 56.16 1106.88  L 807.84 1106.88  " style="fill: none; stroke: #000000; stroke-linejoin: miter; stroke-linecap: square"/> </g> <g id="matplotlib.axis_19"> <g id="xtick_52"> <g id="line2d_331"> <g> <use xlink:href="#m9970c9cf34" x="171.600" y="1213.44" style="stroke: #000000; stroke-width: 0.5"/> </g> </g> <g id="line2d_332"> <g> <use xlink:href="#ma74727226e" x="171.600" y="1106.88" style="stroke: #000000; stroke-width: 0.5"/> </g> </g> <g id="text_137"> <text style="font-size: 8.400px; font-family: 'Liberation Sans', sans-serif; text-anchor: middle" x="171.803" y="1224.16" transform="rotate(-0 171.803 1224.16)" textLength="61.178" lengthAdjust="spacingAndGlyphs">07/02 05:38:54</text> </g> </g> <g id="xtick_53"> <g id="line2d_333"> <g> <use xlink:href="#m9970c9cf34" x="461.040" y="1213.44" style="stroke: #000000; stroke-width: 0.5"/> </g> </g> <g id="line2d_334"> <g> <use xlink:href="#ma74727226e" x="461.040" y="1106.88" style="stroke: #000000; stroke-width: 0.5"/> </g> </g> <g id="text_138"> <text style="font-size: 8.400px; font-family: 'Liberation Sans', sans-serif; text-anchor: middle" x="460.910" y="1224.16" transform="rotate(-0 460.910 1224.16)" textLength="61.231" lengthAdjust="spacingAndGlyphs">07/02 05:38:59</text> </g> </g> <g id="xtick_54"> <g id="line2d_335"> <g> <use xlink:href="#m9970c9cf34" x="750.000" y="1213.44" style="stroke: #000000; stroke-width: 0.5"/> </g> </g> <g id="line2d_336"> <g> <use xlink:href="#ma74727226e" x="750.000" y="1106.88" style="stroke: #000000; stroke-width: 0.5"/> </g> </g> <g id="text_139"> <text style="font-size: 8.400px; font-family: 'Liberation Sans', sans-serif; text-anchor: middle" x="750.018" y="1224.16" transform="rotate(-0 750.018 1224.16)" textLength="61.178" lengthAdjust="spacingAndGlyphs">07/02 05:39:04</text> </g> </g> </g> <g id="matplotlib.axis_20"> <g id="ytick_65"> <g id="line2d_337"> <g> <use xlink:href="#m15b6ba686d" x="56.16" y="1213.680" style="stroke: #000000; stroke-width: 0.5"/> </g> </g> <g id="line2d_338"> <g> <use xlink:href="#m23530d4d53" x="807.84" y="1213.680" style="stroke: #000000; stroke-width: 0.5"/> </g> </g> <g id="text_140"> <text style="font-size: 8.400px; font-family: 'Liberation Sans', sans-serif; text-anchor: end" x="52.16" y="1215.84" transform="rotate(-0 52.16 1215.84)" textLength="22.572" lengthAdjust="spacingAndGlyphs">0.048</text> </g> </g> <g id="ytick_66"> <g id="line2d_339"> <g> <use xlink:href="#m15b6ba686d" x="56.16" y="1198.320" style="stroke: #000000; stroke-width: 0.5"/> </g> </g> <g id="line2d_340"> <g> <use xlink:href="#m23530d4d53" x="807.84" y="1198.320" style="stroke: #000000; stroke-width: 0.5"/> </g> </g> <g id="text_141"> <text style="font-size: 8.400px; font-family: 'Liberation Sans', sans-serif; text-anchor: end" x="52.16" y="1200.617" transform="rotate(-0 52.16 1200.617)" textLength="22.548" lengthAdjust="spacingAndGlyphs">0.050</text> </g> </g> <g id="ytick_67"> <g id="line2d_341"> <g> <use xlink:href="#m15b6ba686d" x="56.16" y="1182.960" style="stroke: #000000; stroke-width: 0.5"/> </g> </g> <g id="line2d_342"> <g> <use xlink:href="#m23530d4d53" x="807.84" y="1182.960" style="stroke: #000000; stroke-width: 0.5"/> </g> </g> <g id="text_142"> <text style="font-size: 8.400px; font-family: 'Liberation Sans', sans-serif; text-anchor: end" x="52.16" y="1185.394" transform="rotate(-0 52.16 1185.394)" textLength="22.373" lengthAdjust="spacingAndGlyphs">0.052</text> </g> </g> <g id="ytick_68"> <g id="line2d_343"> <g> <use xlink:href="#m15b6ba686d" x="56.16" y="1167.600" style="stroke: #000000; stroke-width: 0.5"/> </g> </g> <g id="line2d_344"> <g> <use xlink:href="#m23530d4d53" x="807.84" y="1167.600" style="stroke: #000000; stroke-width: 0.5"/> </g> </g> <g id="text_143"> <text style="font-size: 8.400px; font-family: 'Liberation Sans', sans-serif; text-anchor: end" x="52.16" y="1170.171" transform="rotate(-0 52.16 1170.171)" textLength="22.542" lengthAdjust="spacingAndGlyphs">0.054</text> </g> </g> <g id="ytick_69"> <g id="line2d_345"> <g> <use xlink:href="#m15b6ba686d" x="56.16" y="1152.720" style="stroke: #000000; stroke-width: 0.5"/> </g> </g> <g id="line2d_346"> <g> <use xlink:href="#m23530d4d53" x="807.84" y="1152.720" style="stroke: #000000; stroke-width: 0.5"/> </g> </g> <g id="text_144"> <text style="font-size: 8.400px; font-family: 'Liberation Sans', sans-serif; text-anchor: end" x="52.16" y="1154.948" transform="rotate(-0 52.16 1154.948)" textLength="22.621" lengthAdjust="spacingAndGlyphs">0.056</text> </g> </g> <g id="ytick_70"> <g id="line2d_347"> <g> <use xlink:href="#m15b6ba686d" x="56.16" y="1137.360" style="stroke: #000000; stroke-width: 0.5"/> </g> </g> <g id="line2d_348"> <g> <use xlink:href="#m23530d4d53" x="807.84" y="1137.360" style="stroke: #000000; stroke-width: 0.5"/> </g> </g> <g id="text_145"> <text style="font-size: 8.400px; font-family: 'Liberation Sans', sans-serif; text-anchor: end" x="52.16" y="1139.725" transform="rotate(-0 52.16 1139.725)" textLength="22.572" lengthAdjust="spacingAndGlyphs">0.058</text> </g> </g> <g id="ytick_71"> <g id="line2d_349"> <g> <use xlink:href="#m15b6ba686d" x="56.16" y="1122.000" style="stroke: #000000; stroke-width: 0.5"/> </g> </g> <g id="line2d_350"> <g> <use xlink:href="#m23530d4d53" x="807.84" y="1122.000" style="stroke: #000000; stroke-width: 0.5"/> </g> </g> <g id="text_146"> <text style="font-size: 8.400px; font-family: 'Liberation Sans', sans-serif; text-anchor: end" x="52.16" y="1124.502" transform="rotate(-0 52.16 1124.502)" textLength="22.548" lengthAdjust="spacingAndGlyphs">0.060</text> </g> </g> <g id="ytick_72"> <g id="line2d_351"> <g> <use xlink:href="#m15b6ba686d" x="56.16" y="1107.120" style="stroke: #000000; stroke-width: 0.5"/> </g> </g> <g id="line2d_352"> <g> <use xlink:href="#m23530d4d53" x="807.84" y="1107.120" style="stroke: #000000; stroke-width: 0.5"/> </g> </g> <g id="text_147"> <text style="font-size: 8.400px; font-family: 'Liberation Sans', sans-serif; text-anchor: end" x="52.16" y="1109.28" transform="rotate(-0 52.16 1109.28)" textLength="22.373" lengthAdjust="spacingAndGlyphs">0.062</text> </g> </g> <g id="ctr_y9" transform="translate(-0.480 0.960)"> <g transform="translate(21.139 1164.287) rotate(-90)"> <text> <tspan x="0.084" y="-0.359" style="font-size: 8.960px; font-family: 'Liberation Serif', serif; font-style: italic">β</tspan> <tspan x="4.499" y="1.001" style="font-size: 6.272px; font-family: 'Liberation Serif', serif; font-style: italic">p</tspan> </text> </g> </g> </g> <g id="ctr_t9"> <text style="font-size: 11.760px; font-family: 'Liberation Sans', sans-serif; text-anchor: middle" x="432" y="1101.88" transform="rotate(-0 432 1101.88)" textLength="68.603" lengthAdjust="spacingAndGlyphs">Plasma Beta</text> </g> </g> <g id="axes_11"> <g id="patch_59"> <path d="M 56.16 1373.28  L 807.84 1373.28  L 807.84 1266.72  L 56.16 1266.72  z " style="fill: #ffffff"/> </g> <g id="line2d_353"> <path d="M 56.16 1299.792  L 171.803 1327.488  L 229.624 1315.2  L 287.446 1271.28  L 345.267 1288.032  L 403.089 1317.552  L 460.910 1363.536  L 518.732 1333.824  L 576.553 1321.824  L 634.375 1350.528  L 692.196 1323.216  L 750.018 1324.752  L 807.84 1284.096  " clip-path="url(#p49ae588526)" style="fill: none; stroke: #0000ff; stroke-linecap: square"/> </g> <g id="patch_60"> <path d="M 56.16 1373.28  L 56.16 1266.72  " style="fill: none; stroke: #000000; stroke-linejoin: miter; stroke-linecap: square"/> </g> <g id="patch_61"> <path d="M 807.84 1373.28  L 807.84 1266.72  " style="fill: none; stroke: #000000; stroke-linejoin: miter; stroke-linecap: square"/> </g> <g id="patch_62"> <path d="M 56.16 1373.28  L 807.84 1373.28  " style="fill: none; stroke: #000000; stroke-linejoin: miter; stroke-linecap: square"/> </g> <g id="patch_63"> <path d="M 56.16 1266.72  L 807.84 1266.72  " style="fill: none; stroke: #000000; stroke-linejoin: miter; stroke-linecap: square"/> </g> <g id="matplotlib.axis_21"> <g id="xtick_55"> <g id="line2d_354"> <g> <use xlink:href="#m9970c9cf34" x="171.600" y="1373.28" style="stroke: #000000; stroke-width: 0.5"/> </g> </g> <g id="line2d_355"> <g> <use xlink:href="#ma74727226e" x="171.600" y="1266.72" style="stroke: #000000; stroke-width: 0.5"/> </g> </g> <g id="text_148"> <text style="font-size: 8.400px; font-family: 'Liberation Sans', sans-serif; text-anchor: middle" x="171.803" y="1384" transform="rotate(-0 171.803 1384)" textLength="61.178" lengthAdjust="spacingAndGlyphs">07/02 05:38:54</text> </g> </g> <g id="xtick_56"> <g id="line2d_356"> <g> <use xlink:href="#m9970c9cf34" x="461.040" y="1373.28" style="stroke: #000000; stroke-width: 0.5"/> </g> </g> <g id="line2d_357"> <g> <use xlink:href="#ma74727226e" x="461.040" y="1266.72" style="stroke: #000000; stroke-width: 0.5"/> </g> </g> <g id="text_149"> <text style="font-size: 8.400px; font-family: 'Liberation Sans', sans-serif; text-anchor: middle" x="460.910" y="1384" transform="rotate(-0 460.910 1384)" textLength="61.231" lengthAdjust="spacingAndGlyphs">07/02 05:38:59</text> </g> </g> <g id="xtick_57"> <g id="line2d_358"> <g> <use xlink:href="#m9970c9cf34" x="750.000" y="1373.28" style="stroke: #000000; stroke-width: 0.5"/> </g> </g> <g id="line2d_359"> <g> <use xlink:href="#ma74727226e" x="750.000" y="1266.72" style="stroke: #000000; stroke-width: 0.5"/> </g> </g> <g id="text_150"> <text style="font-size: 8.400px; font-family: 'Liberation Sans', sans-serif; text-anchor: middle" x="750.018" y="1384" transform="rotate(-0 750.018 1384)" textLength="61.178" lengthAdjust="spacingAndGlyphs">07/02 05:39:04</text> </g> </g> </g> <g id="matplotlib.axis_22"> <g id="ytick_73"> <g id="line2d_360"> <g> <use xlink:href="#m15b6ba686d" x="56.16" y="1373.520" style="stroke: #000000; stroke-width: 0.5"/> </g> </g> <g id="line2d_361"> <g> <use xlink:href="#m23530d4d53" x="807.84" y="1373.520" style="stroke: #000000; stroke-width: 0.5"/> </g> </g> <g id="text_151"> <text style="font-size: 8.400px; font-family: 'Liberation Sans', sans-serif; text-anchor: end" x="52.16" y="1375.68" transform="rotate(-0 52.16 1375.68)" textLength="14.665" lengthAdjust="spacingAndGlyphs">375</text> </g> </g> <g id="ytick_74"> <g id="line2d_362"> <g> <use xlink:href="#m15b6ba686d" x="56.16" y="1360.080" style="stroke: #000000; stroke-width: 0.5"/> </g> </g> <g id="line2d_363"> <g> <use xlink:href="#m23530d4d53" x="807.84" y="1360.080" style="stroke: #000000; stroke-width: 0.5"/> </g> </g> <g id="text_152"> <text style="font-size: 8.400px; font-family: 'Liberation Sans', sans-serif; text-anchor: end" x="52.16" y="1362.36" transform="rotate(-0 52.16 1362.36)" textLength="14.814" lengthAdjust="spacingAndGlyphs">380</text> </g> </g> <g id="ytick_75"> <g id="line2d_364"> <g> <use xlink:href="#m15b6ba686d" x="56.16" y="1346.640" style="stroke: #000000; stroke-width: 0.5"/> </g> </g> <g id="line2d_365"> <g> <use xlink:href="#m23530d4d53" x="807.84" y="1346.640" style="stroke: #000000; stroke-width: 0.5"/> </g> </g> <g id="text_153"> <text style="font-size: 8.400px; font-family: 'Liberation Sans', sans-serif; text-anchor: end" x="52.16" y="1349.04" transform="rotate(-0 52.16 1349.04)" textLength="14.665" lengthAdjust="spacingAndGlyphs">385</text> </g> </g> <g id="ytick_76"> <g id="line2d_366"> <g> <use xlink:href="#m15b6ba686d" x="56.16" y="1333.200" style="stroke: #000000; stroke-width: 0.5"/> </g> </g> <g id="line2d_367"> <g> <use xlink:href="#m23530d4d53" x="807.84" y="1333.200" style="stroke: #000000; stroke-width: 0.5"/> </g> </g> <g id="text_154"> <text style="font-size: 8.400px; font-family: 'Liberation Sans', sans-serif; text-anchor: end" x="52.16" y="1335.72" transform="rotate(-0 52.16 1335.72)" textLength="14.814" lengthAdjust="spacingAndGlyphs">390</text> </g> </g> <g id="ytick_77"> <g id="line2d_368"> <g> <use xlink:href="#m15b6ba686d" x="56.16" y="1320.240" style="stroke: #000000; stroke-width: 0.5"/> </g> </g> <g id="line2d_369"> <g> <use xlink:href="#m23530d4d53" x="807.84" y="1320.240" style="stroke: #000000; stroke-width: 0.5"/> </g> </g> <g id="text_155"> <text style="font-size: 8.400px; font-family: 'Liberation Sans', sans-serif; text-anchor: end" x="52.16" y="1322.4" transform="rotate(-0 52.16 1322.4)" textLength="14.665" lengthAdjust="spacingAndGlyphs">395</text> </g> </g> <g id="ytick_78"> <g id="line2d_370"> <g> <use xlink:href="#m15b6ba686d" x="56.16" y="1306.800" style="stroke: #000000; stroke-width: 0.5"/> </g> </g> <g id="line2d_371"> <g> <use xlink:href="#m23530d4d53" x="807.84" y="1306.800" style="stroke: #000000; stroke-width: 0.5"/> </g> </g> <g id="text_156"> <text style="font-size: 8.400px; font-family: 'Liberation Sans', sans-serif; text-anchor: end" x="52.16" y="1309.08" transform="rotate(-0 52.16 1309.08)" textLength="14.902" lengthAdjust="spacingAndGlyphs">400</text> </g> </g> <g id="ytick_79"> <g id="line2d_372"> <g> <use xlink:href="#m15b6ba686d" x="56.16" y="1293.360" style="stroke: #000000; stroke-width: 0.5"/> </g> </g> <g id="line2d_373"> <g> <use xlink:href="#m23530d4d53" x="807.84" y="1293.360" style="stroke: #000000; stroke-width: 0.5"/> </g> </g> <g id="text_157"> <text style="font-size: 8.400px; font-family: 'Liberation Sans', sans-serif; text-anchor: end" x="52.16" y="1295.76" transform="rotate(-0 52.16 1295.76)" textLength="14.754" lengthAdjust="spacingAndGlyphs">405</text> </g> </g> <g id="ytick_80"> <g id="line2d_374"> <g> <use xlink:href="#m15b6ba686d" x="56.16" y="1279.920" style="stroke: #000000; stroke-width: 0.5"/> </g> </g> <g id="line2d_375"> <g> <use xlink:href="#m23530d4d53" x="807.84" y="1279.920" style="stroke: #000000; stroke-width: 0.5"/> </g> </g> <g id="text_158"> <text style="font-size: 8.400px; font-family: 'Liberation Sans', sans-serif; text-anchor: end" x="52.16" y="1282.44" transform="rotate(-0 52.16 1282.44)" textLength="14.902" lengthAdjust="spacingAndGlyphs">410</text> </g> </g> <g id="ytick_81"> <g id="line2d_376"> <g> <use xlink:href="#m15b6ba686d" x="56.16" y="1266.960" style="stroke: #000000; stroke-width: 0.5"/> </g> </g> <g id="line2d_377"> <g> <use xlink:href="#m23530d4d53" x="807.84" y="1266.960" style="stroke: #000000; stroke-width: 0.5"/> </g> </g> <g id="text_159"> <text style="font-size: 8.400px; font-family: 'Liberation Sans', sans-serif; text-anchor: end" x="52.16" y="1269.12" transform="rotate(-0 52.16 1269.12)" textLength="14.754" lengthAdjust="spacingAndGlyphs">415</text> </g> </g> <g id="ctr_y10" transform="translate(-0.480 0.960)"> <text style="font-size: 8.400px; font-family: 'Liberation Sans', sans-serif; text-anchor: middle" x="30.06" y="1320" transform="rotate(-90 30.06 1320)" textLength="35.376" lengthAdjust="spacingAndGlyphs">Np(#/cc)</text> </g> </g> <g id="ctr_t10"> <text style="font-size: 11.760px; font-family: 'Liberation Sans', sans-serif; text-anchor: middle" x="432" y="1261.72" transform="rotate(-0 432 1261.72)" textLength="130.869" lengthAdjust="spacingAndGlyphs">Proton Number Density</text> </g> </g> <g id="axes_12"> <g id="patch_64"> <path d="M 56.16 1533.6  L 807.84 1533.6  L 807.84 1427.04  L 56.16 1427.04  z " style="fill: #ffffff"/> </g> <g id="line2d_378"> <path d="M 56.16 1451.616  L 171.803 1427.376  L 229.624 1479.648  L 287.446 1431.12  L 345.267 1439.328  L 403.089 1452.144  L 460.910 1527.792  L 518.732 1476.72  L 576.553 1457.76  L 634.375 1480.992  L 750.018 1496.736  L 807.84 1429.392  " clip-path="url(#pf7b9eb8dfb)" style="fill: none; stroke: #0000ff; stroke-linecap: square"/> </g> <g id="patch_65"> <path d="M 56.16 1533.6  L 56.16 1427.04  " style="fill: none; stroke: #000000; stroke-linejoin: miter; stroke-linecap: square"/> </g> <g id="patch_66"> <path d="M 807.84 1533.6  L 807.84 1427.04  " style="fill: none; stroke: #000000; stroke-linejoin: miter; stroke-linecap: square"/> </g> <g id="patch_67"> <path d="M 56.16 1533.6  L 807.84 1533.6  " style="fill: none; stroke: #000000; stroke-linejoin: miter; stroke-linecap: square"/> </g> <g id="patch_68"> <path d="M 56.16 1427.04  L 807.84 1427.04  " style="fill: none; stroke: #000000; stroke-linejoin: miter; stroke-linecap: square"/> </g> <g id="matplotlib.axis_23"> <g id="xtick_58"> <g id="line2d_379"> <g> <use xlink:href="#m9970c9cf34" x="171.600" y="1533.6" style="stroke: #000000; stroke-width: 0.5"/> </g> </g> <g id="line2d_380"> <g> <use xlink:href="#ma74727226e" x="171.600" y="1427.04" style="stroke: #000000; stroke-width: 0.5"/> </g> </g> <g id="text_160"> <text style="font-size: 8.400px; font-family: 'Liberation Sans', sans-serif; text-anchor: middle" x="171.803" y="1544.32" transform="rotate(-0 171.803 1544.32)" textLength="61.178" lengthAdjust="spacingAndGlyphs">07/02 05:38:54</text> </g> </g> <g id="xtick_59"> <g id="line2d_381"> <g> <use xlink:href="#m9970c9cf34" x="461.040" y="1533.6" style="stroke: #000000; stroke-width: 0.5"/> </g> </g> <g id="line2d_382"> <g> <use xlink:href="#ma74727226e" x="461.040" y="1427.04" style="stroke: #000000; stroke-width: 0.5"/> </g> </g> <g id="text_161"> <text style="font-size: 8.400px; font-family: 'Liberation Sans', sans-serif; text-anchor: middle" x="460.910" y="1544.32" transform="rotate(-0 460.910 1544.32)" textLength="61.231" lengthAdjust="spacingAndGlyphs">07/02 05:38:59</text> </g> </g> <g id="xtick_60"> <g id="line2d_383"> <g> <use xlink:href="#m9970c9cf34" x="750.000" y="1533.6" style="stroke: #000000; stroke-width: 0.5"/> </g> </g> <g id="line2d_384"> <g> <use xlink:href="#ma74727226e" x="750.000" y="1427.04" style="stroke: #000000; stroke-width: 0.5"/> </g> </g> <g id="text_162"> <text style="font-size: 8.400px; font-family: 'Liberation Sans', sans-serif; text-anchor: middle" x="750.018" y="1544.32" transform="rotate(-0 750.018 1544.32)" textLength="61.178" lengthAdjust="spacingAndGlyphs">07/02 05:39:04</text> </g> </g> </g> <g id="matplotlib.axis_24"> <g id="ytick_82"> <g id="line2d_385"> <g> <use xlink:href="#m15b6ba686d" x="56.16" y="1533.840" style="stroke: #000000; stroke-width: 0.5"/> </g> </g> <g id="line2d_386"> <g> <use xlink:href="#m23530d4d53" x="807.84" y="1533.840" style="stroke: #000000; stroke-width: 0.5"/> </g> </g> <g id="text_163"> <text style="font-size: 8.400px; font-family: 'Liberation Sans', sans-serif; text-anchor: end" x="52.16" y="1536" transform="rotate(-0 52.16 1536)" textLength="22.621" lengthAdjust="spacingAndGlyphs">0.106</text> </g> </g> <g id="ytick_83"> <g id="line2d_387"> <g> <use xlink:href="#m15b6ba686d" x="56.16" y="1520.400" style="stroke: #000000; stroke-width: 0.5"/> </g> </g> <g id="line2d_388"> <g> <use xlink:href="#m23530d4d53" x="807.84" y="1520.400" style="stroke: #000000; stroke-width: 0.5"/> </g> </g> <g id="text_164"> <text style="font-size: 8.400px; font-family: 'Liberation Sans', sans-serif; text-anchor: end" x="52.16" y="1522.68" transform="rotate(-0 52.16 1522.68)" textLength="22.572" lengthAdjust="spacingAndGlyphs">0.108</text> </g> </g> <g id="ytick_84"> <g id="line2d_389"> <g> <use xlink:href="#m15b6ba686d" x="56.16" y="1506.960" style="stroke: #000000; stroke-width: 0.5"/> </g> </g> <g id="line2d_390"> <g> <use xlink:href="#m23530d4d53" x="807.84" y="1506.960" style="stroke: #000000; stroke-width: 0.5"/> </g> </g> <g id="text_165"> <text style="font-size: 8.400px; font-family: 'Liberation Sans', sans-serif; text-anchor: end" x="52.16" y="1509.36" transform="rotate(-0 52.16 1509.36)" textLength="22.548" lengthAdjust="spacingAndGlyphs">0.110</text> </g> </g> <g id="ytick_85"> <g id="line2d_391"> <g> <use xlink:href="#m15b6ba686d" x="56.16" y="1493.520" style="stroke: #000000; stroke-width: 0.5"/> </g> </g> <g id="line2d_392"> <g> <use xlink:href="#m23530d4d53" x="807.84" y="1493.520" style="stroke: #000000; stroke-width: 0.5"/> </g> </g> <g id="text_166"> <text style="font-size: 8.400px; font-family: 'Liberation Sans', sans-serif; text-anchor: end" x="52.16" y="1496.04" transform="rotate(-0 52.16 1496.04)" textLength="22.373" lengthAdjust="spacingAndGlyphs">0.112</text> </g> </g> <g id="ytick_86"> <g id="line2d_393"> <g> <use xlink:href="#m15b6ba686d" x="56.16" y="1480.560" style="stroke: #000000; stroke-width: 0.5"/> </g> </g> <g id="line2d_394"> <g> <use xlink:href="#m23530d4d53" x="807.84" y="1480.560" style="stroke: #000000; stroke-width: 0.5"/> </g> </g> <g id="text_167"> <text style="font-size: 8.400px; font-family: 'Liberation Sans', sans-serif; text-anchor: end" x="52.16" y="1482.72" transform="rotate(-0 52.16 1482.72)" textLength="22.542" lengthAdjust="spacingAndGlyphs">0.114</text> </g> </g> <g id="ytick_87"> <g id="line2d_395"> <g> <use xlink:href="#m15b6ba686d" x="56.16" y="1467.120" style="stroke: #000000; stroke-width: 0.5"/> </g> </g> <g id="line2d_396"> <g> <use xlink:href="#m23530d4d53" x="807.84" y="1467.120" style="stroke: #000000; stroke-width: 0.5"/> </g> </g> <g id="text_168"> <text style="font-size: 8.400px; font-family: 'Liberation Sans', sans-serif; text-anchor: end" x="52.16" y="1469.4" transform="rotate(-0 52.16 1469.4)" textLength="22.621" lengthAdjust="spacingAndGlyphs">0.116</text> </g> </g> <g id="ytick_88"> <g id="line2d_397"> <g> <use xlink:href="#m15b6ba686d" x="56.16" y="1453.680" style="stroke: #000000; stroke-width: 0.5"/> </g> </g> <g id="line2d_398"> <g> <use xlink:href="#m23530d4d53" x="807.84" y="1453.680" style="stroke: #000000; stroke-width: 0.5"/> </g> </g> <g id="text_169"> <text style="font-size: 8.400px; font-family: 'Liberation Sans', sans-serif; text-anchor: end" x="52.16" y="1456.08" transform="rotate(-0 52.16 1456.08)" textLength="22.572" lengthAdjust="spacingAndGlyphs">0.118</text> </g> </g> <g id="ytick_89"> <g id="line2d_399"> <g> <use xlink:href="#m15b6ba686d" x="56.16" y="1440.240" style="stroke: #000000; stroke-width: 0.5"/> </g> </g> <g id="line2d_400"> <g> <use xlink:href="#m23530d4d53" x="807.84" y="1440.240" style="stroke: #000000; stroke-width: 0.5"/> </g> </g> <g id="text_170"> <text style="font-size: 8.400px; font-family: 'Liberation Sans', sans-serif; text-anchor: end" x="52.16" y="1442.76" transform="rotate(-0 52.16 1442.76)" textLength="22.548" lengthAdjust="spacingAndGlyphs">0.120</text> </g> </g> <g id="ytick_90"> <g id="line2d_401"> <g> <use xlink:href="#m15b6ba686d" x="56.16" y="1427.280" style="stroke: #000000; stroke-width: 0.5"/> </g> </g> <g id="line2d_402"> <g> <use xlink:href="#m23530d4d53" x="807.84" y="1427.280" style="stroke: #000000; stroke-width: 0.5"/> </g> </g> <g id="text_171"> <text style="font-size: 8.400px; font-family: 'Liberation Sans', sans-serif; text-anchor: end" x="52.16" y="1429.44" transform="rotate(-0 52.16 1429.44)" textLength="22.373" lengthAdjust="spacingAndGlyphs">0.122</text> </g> </g> <g id="ctr_y11" transform="translate(-0.480 0.960)"> <g transform="translate(21.42 1496.995) rotate(-90)"> <text> <tspan x="0.380" y="-0.209" style="font-size: 8.400px; font-family: 'Liberation Sans', sans-serif" textLength="4.887" lengthAdjust="spacingAndGlyphs">T</tspan> <tspan x="5.155" y="-0.209" style="font-size: 8.400px; font-family: 'Liberation Sans', sans-serif" textLength="5.078" lengthAdjust="spacingAndGlyphs">p</tspan> <tspan x="10.116" y="-0.209" style="font-size: 8.400px; font-family: 'Liberation Sans', sans-serif" textLength="3.121" lengthAdjust="spacingAndGlyphs">(</tspan> <tspan x="24.564" y="-0.209" style="font-size: 8.400px; font-family: 'Liberation Sans', sans-serif" textLength="5.246" lengthAdjust="spacingAndGlyphs">K</tspan> <tspan x="29.690" y="-0.209" style="font-size: 8.400px; font-family: 'Liberation Sans', sans-serif" textLength="3.121" lengthAdjust="spacingAndGlyphs">)</tspan> <tspan x="13.165" y="-0.209" style="font-size: 8.960px; font-family: 'Liberation Serif', serif">1</tspan> <tspan x="17.073" y="-0.209" style="font-size: 8.960px; font-family: 'Liberation Serif', serif">0</tspan> <tspan x="21.330" y="-3.270" style="font-size: 6.272px; font-family: 'Liberation Serif', serif">6</tspan> </text> </g> </g> </g> <g id="ctr_t11"> <g transform="translate(347.641 1422.04)"> <text> <tspan x="1.943" y="-0.609" style="font-size: 11.760px; font-family: 'Liberation Sans', sans-serif" textLength="6.754" lengthAdjust="spacingAndGlyphs">P</tspan> <tspan x="8.571" y="-0.609" style="font-size: 11.760px; font-family: 'Liberation Sans', sans-serif" textLength="4.605" lengthAdjust="spacingAndGlyphs">r</tspan> <tspan x="13.090" y="-0.609" style="font-size: 11.760px; font-family: 'Liberation Sans', sans-serif" textLength="6.852" lengthAdjust="spacingAndGlyphs">o</tspan> <tspan x="19.814" y="-0.609" style="font-size: 11.760px; font-family: 'Liberation Sans', sans-serif" textLength="4.391" lengthAdjust="spacingAndGlyphs">t</tspan> <tspan x="24.124" y="-0.609" style="font-size: 11.760px; font-family: 'Liberation Sans', sans-serif" textLength="6.852" lengthAdjust="spacingAndGlyphs">o</tspan> <tspan x="30.848" y="-0.609" style="font-size: 11.760px; font-family: 'Liberation Sans', sans-serif" textLength="7.098" lengthAdjust="spacingAndGlyphs">n</tspan> <tspan x="37.814" y="-0.609" style="font-size: 11.760px; font-family: 'Liberation Sans', sans-serif"> </tspan> <tspan x="41.308" y="-0.609" style="font-size: 11.760px; font-family: 'Liberation Sans', sans-serif" textLength="6.841" lengthAdjust="spacingAndGlyphs">T</tspan> <tspan x="48.022" y="-0.609" style="font-size: 11.760px; font-family: 'Liberation Sans', sans-serif" textLength="6.891" lengthAdjust="spacingAndGlyphs">e</tspan> <tspan x="54.784" y="-0.609" style="font-size: 11.760px; font-family: 'Liberation Sans', sans-serif" textLength="10.910" lengthAdjust="spacingAndGlyphs">m</tspan> <tspan x="65.491" y="-0.609" style="font-size: 11.760px; font-family: 'Liberation Sans', sans-serif" textLength="7.109" lengthAdjust="spacingAndGlyphs">p</tspan> <tspan x="72.468" y="-0.609" style="font-size: 11.760px; font-family: 'Liberation Sans', sans-serif" textLength="6.891" lengthAdjust="spacingAndGlyphs">e</tspan> <tspan x="79.230" y="-0.609" style="font-size: 11.760px; font-family: 'Liberation Sans', sans-serif" textLength="4.605" lengthAdjust="spacingAndGlyphs">r</tspan> <tspan x="83.749" y="-0.609" style="font-size: 11.760px; font-family: 'Liberation Sans', sans-serif" textLength="6.863" lengthAdjust="spacingAndGlyphs">a</tspan> <tspan x="90.484" y="-0.609" style="font-size: 11.760px; font-family: 'Liberation Sans', sans-serif" textLength="4.391" lengthAdjust="spacingAndGlyphs">t</tspan> <tspan x="94.794" y="-0.609" style="font-size: 11.760px; font-family: 'Liberation Sans', sans-serif" textLength="7.098" lengthAdjust="spacingAndGlyphs">u</tspan> <tspan x="101.760" y="-0.609" style="font-size: 11.760px; font-family: 'Liberation Sans', sans-serif" textLength="4.605" lengthAdjust="spacingAndGlyphs">r</tspan> <tspan x="106.279" y="-0.609" style="font-size: 11.760px; font-family: 'Liberation Sans', sans-serif" textLength="6.891" lengthAdjust="spacingAndGlyphs">e</tspan> <tspan x="113.041" y="-0.609" style="font-size: 11.760px; font-family: 'Liberation Sans', sans-serif"> </tspan> <tspan x="116.535" y="-0.609" style="font-size: 11.760px; font-family: 'Liberation Sans', sans-serif" textLength="6.863" lengthAdjust="spacingAndGlyphs">a</tspan> <tspan x="123.270" y="-0.609" style="font-size: 11.760px; font-family: 'Liberation Sans', sans-serif" textLength="7.098" lengthAdjust="spacingAndGlyphs">n</tspan> <tspan x="130.237" y="-0.609" style="font-size: 11.760px; font-family: 'Liberation Sans', sans-serif" textLength="7.109" lengthAdjust="spacingAndGlyphs">d</tspan> <tspan x="137.213" y="-0.609" style="font-size: 11.760px; font-family: 'Liberation Sans', sans-serif"> </tspan> <tspan x="140.707" y="-0.609" style="font-size: 12.544px; font-family: 'Liberation Serif', serif; font-style: italic">T</tspan> <tspan x="151.345" y="-0.609" style="font-size: 12.544px; font-family: 'Liberation Serif', serif">/</tspan> <tspan x="156.810" y="-0.609" style="font-size: 12.544px; font-family: 'Liberation Serif', serif; font-style: italic">T</tspan> <tspan x="147.090" y="1.295" style="font-size: 8.781px; font-family: 'Liberation Serif', serif; font-style: italic">e</tspan> <tspan x="163.193" y="1.295" style="font-size: 8.781px; font-family: 'Liberation Serif', serif; font-style: italic">p</tspan> </text> </g> </g> <g id="legend_7"> <g id="patch_69"> <path d="M 59.66 1443.34  L 93.62 1443.34  L 93.62 1430.54  L 59.66 1430.54  z " style="fill: #ffffff; stroke: #000000; stroke-linejoin: miter"/> </g> <g id="line2d_403"> <path d="M 64.56 1436.65  L 74.36 1436.65  " style="fill: none; stroke: #0000ff; stroke-linecap: square"/> </g> <g id="text_172"> <text style="font-size: 7.350px; font-family: 'Liberation Sans', sans-serif; text-anchor: start" x="82.06" y="1439.1" transform="rotate(-0 82.06 1439.1)" textLength="8.845" lengthAdjust="spacingAndGlyphs">Tp</text> </g> </g> </g> </g> <defs> <clipPath id="pbbcab6ad22"> <rect x="56.16" y="40.32" width="217.92" height="217.92"/> </clipPath> <clipPath id="p72671d283d"> <rect x="323.04" y="40.32" width="217.92" height="217.92"/> </clipPath> <clipPath id="pfd859f225f"> <rect x="589.92" y="40.32" width="217.92" height="217.92"/> </clipPath> <clipPath id="p5ff9e2daea"> <rect x="56.16" y="317.76" width="217.92" height="217.92"/> </clipPath> <clipPath id="p4ce715b681"> <rect x="323.04" y="317.76" width="217.92" height="217.92"/> </clipPath> <clipPath id="p0212bf2375"> <rect x="589.92" y="317.76" width="217.92" height="217.92"/> </clipPath> <clipPath id="pdf6c10e1a3"> <rect x="56.16" y="626.4" width="751.68" height="106.56"/> </clipPath> <clipPath id="p66f6a427d6"> <rect x="56.16" y="786.72" width="751.68" height="106.56"/> </clipPath> <clipPath id="pab0f8e7149"> <rect x="56.16" y="946.56" width="751.68" height="106.56"/> </clipPath> <clipPath id="p840b9fd985"> <rect x="56.16" y="1106.88" width="751.68" height="106.56"/> </clipPath> <clipPath id="p49ae588526"> <rect x="56.16" y="1266.72" width="751.68" height="106.56"/> </clipPath> <clipPath id="pf7b9eb8dfb"> <rect x="56.16" y="1427.04" width="751.68" height="106.56"/> </clipPath> </defs> </svg>
</body></html>
